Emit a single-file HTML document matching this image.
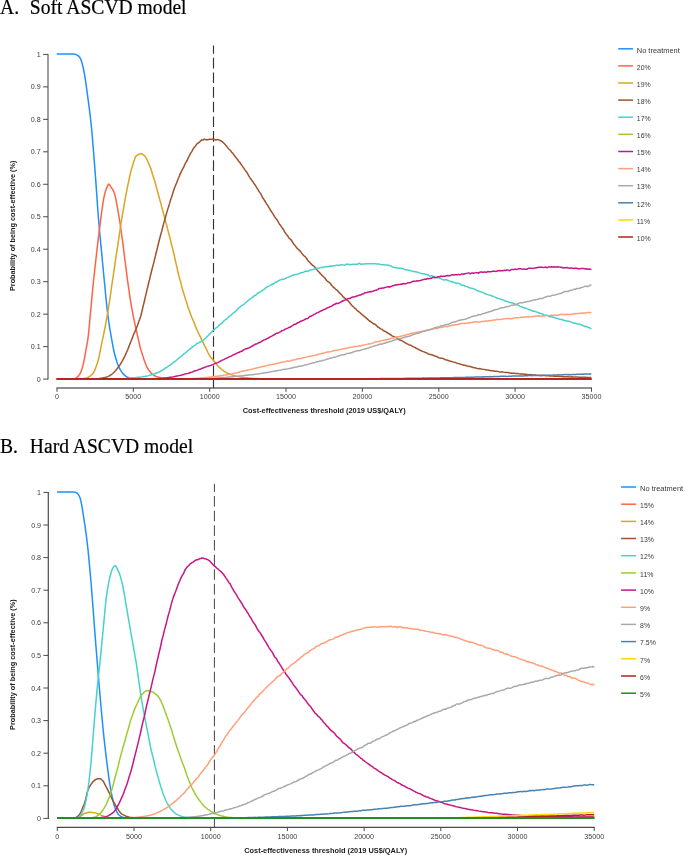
<!DOCTYPE html>
<html><head><meta charset="utf-8"><title>CEAC</title>
<style>
html,body{margin:0;padding:0;background:#fff;}
body{width:685px;height:855px;overflow:hidden;position:relative;font-family:"Liberation Sans",sans-serif;}
.t{position:absolute;left:0;will-change:transform;transform:scale(1,1.075);transform-origin:0 0;font-family:"Liberation Serif",serif;font-size:19.6px;line-height:19.6px;color:#000;-webkit-text-stroke:0.2px #000;white-space:pre;}
.t span{position:absolute;left:29.8px;top:0;}
svg{position:absolute;left:0;top:0;will-change:transform;font-family:"Liberation Sans",sans-serif;}
</style></head><body>
<svg width="685" height="855" viewBox="0 0 685 855">
<g stroke="#6a6a6a" stroke-width="1.3" fill="none">
<path d="M48.0 53.9 V379.6"/>
<path d="M56.5 388.0 H592.0"/>
</g>
<g stroke="#4a4a4a" stroke-width="1" fill="none">
<path d="M43.1 379.10 H48.0"/>
<path d="M43.1 346.63 H48.0"/>
<path d="M43.1 314.16 H48.0"/>
<path d="M43.1 281.69 H48.0"/>
<path d="M43.1 249.22 H48.0"/>
<path d="M43.1 216.75 H48.0"/>
<path d="M43.1 184.28 H48.0"/>
<path d="M43.1 151.81 H48.0"/>
<path d="M43.1 119.34 H48.0"/>
<path d="M43.1 86.87 H48.0"/>
<path d="M43.1 54.40 H48.0"/>
<path d="M57.0 388.0 V391.8"/>
<path d="M133.3 388.0 V391.8"/>
<path d="M209.7 388.0 V391.8"/>
<path d="M286.0 388.0 V391.8"/>
<path d="M362.4 388.0 V391.8"/>
<path d="M438.8 388.0 V391.8"/>
<path d="M515.1 388.0 V391.8"/>
<path d="M591.5 388.0 V391.8"/>
</g>
<g font-size="7.15" fill="#404040">
<text x="40.8" y="381.6" text-anchor="end">0</text>
<text x="40.8" y="349.1" text-anchor="end">0.1</text>
<text x="40.8" y="316.7" text-anchor="end">0.2</text>
<text x="40.8" y="284.2" text-anchor="end">0.3</text>
<text x="40.8" y="251.7" text-anchor="end">0.4</text>
<text x="40.8" y="219.2" text-anchor="end">0.5</text>
<text x="40.8" y="186.8" text-anchor="end">0.6</text>
<text x="40.8" y="154.3" text-anchor="end">0.7</text>
<text x="40.8" y="121.8" text-anchor="end">0.8</text>
<text x="40.8" y="89.4" text-anchor="end">0.9</text>
<text x="40.8" y="56.9" text-anchor="end">1</text>
<text x="57.0" y="399.4" text-anchor="middle">0</text>
<text x="133.3" y="399.4" text-anchor="middle">5000</text>
<text x="209.7" y="399.4" text-anchor="middle">10000</text>
<text x="286.0" y="399.4" text-anchor="middle">15000</text>
<text x="362.4" y="399.4" text-anchor="middle">20000</text>
<text x="438.8" y="399.4" text-anchor="middle">25000</text>
<text x="515.1" y="399.4" text-anchor="middle">30000</text>
<text x="591.5" y="399.4" text-anchor="middle">35000</text>
</g>
<text font-size="7.3" font-weight="bold" fill="#1a1a1a" text-anchor="middle" transform="translate(14.9 225.8) rotate(-90)">Probability of being cost-effective (%)</text>
<text font-size="7.38" font-weight="bold" fill="#1a1a1a" text-anchor="middle" x="324.2" y="412.9">Cost-effectiveness threshold (2019 US$/QALY)</text>
<path d="M213.5 45.6 V388.0" stroke="#333" stroke-width="1.15" stroke-dasharray="10.6 4.05" stroke-dashoffset="2.45" fill="none"/>
<g fill="none" stroke-width="1.5" stroke-linejoin="round" stroke-linecap="butt" transform="translate(0 0.15)">
<path stroke="dodgerblue" d="M56.7 53.90 L57.7 53.90 L58.7 53.90 L59.7 53.90 L60.7 53.90 L61.7 53.90 L62.7 53.90 L63.7 53.90 L64.7 53.90 L65.7 53.90 L66.7 53.90 L67.7 53.90 L68.7 53.90 L69.7 53.90 L70.7 53.90 L71.7 53.90 L72.7 53.90 L73.7 53.90 L74.7 54.02 L75.7 54.29 L76.7 54.68 L77.7 55.20 L78.7 56.02 L79.7 57.17 L80.7 58.92 L81.7 61.74 L82.7 65.52 L83.7 69.87 L84.7 75.14 L85.7 81.72 L86.7 89.07 L87.7 96.46 L88.7 103.76 L89.7 111.47 L90.7 119.93 L91.7 129.64 L92.7 141.06 L93.7 153.61 L94.7 166.40 L95.7 179.76 L96.7 193.70 L97.7 208.12 L98.7 221.04 L99.7 232.48 L100.7 242.98 L101.7 253.16 L102.7 263.82 L103.7 274.32 L104.7 284.65 L105.7 295.31 L106.7 305.01 L107.7 313.70 L108.7 321.29 L109.7 327.75 L110.7 333.69 L111.7 339.33 L112.7 344.83 L113.7 350.13 L114.7 354.40 L115.7 357.87 L116.7 361.11 L117.7 364.08 L118.7 366.47 L119.7 368.61 L120.7 370.19 L121.7 371.65 L122.7 373.07 L123.7 374.30 L124.7 375.12 L125.7 375.96 L126.7 376.59 L127.7 377.15 L128.7 377.57 L129.7 377.88 L130.7 378.12 L131.7 378.32 L132.7 378.49 L133.7 378.59 L134.7 378.65 L135.7 378.68 L136.7 378.70 L137.7 378.71 L138.7 378.71 L139.7 378.71 L140.7 378.70 L141.7 378.71 L142.7 378.71 L143.7 378.70 L144.7 378.70 L145.7 378.71 L146.7 378.69 L147.7 378.69 L148.7 378.71 L149.7 378.72 L150.7 378.72 L151.7 378.70 L152.7 378.70 L153.7 378.71 L154.7 378.71 L155.7 378.70 L156.7 378.69 L157.7 378.69 L158.7 378.71 L159.7 378.72 L160.7 378.72 L161.7 378.71 L162.7 378.72 L163.7 378.73 L164.7 378.72 L165.7 378.72 L166.7 378.72 L167.7 378.71 L168.7 378.71 L169.7 378.71 L170.7 378.71 L171.7 378.72 L172.7 378.72 L173.7 378.72 L174.7 378.73 L175.7 378.72 L176.7 378.71 L177.7 378.72 L178.7 378.72 L179.7 378.70 L180.7 378.71 L181.7 378.73 L182.7 378.73 L183.7 378.74 L184.7 378.74 L185.7 378.74 L186.7 378.75 L187.7 378.74 L188.7 378.73 L189.7 378.73 L190.7 378.73 L191.7 378.74 L192.7 378.73 L193.7 378.73 L194.7 378.72 L195.7 378.73 L196.7 378.74 L197.7 378.74 L198.7 378.75 L199.7 378.73 L200.7 378.73 L201.7 378.73 L202.7 378.74 L203.7 378.75 L204.7 378.75 L205.7 378.75 L206.7 378.75 L207.7 378.74 L208.7 378.73 L209.7 378.73 L210.7 378.74 L211.7 378.76 L212.7 378.76 L213.7 378.76 L214.7 378.75 L215.7 378.74 L216.7 378.72 L217.7 378.73 L218.7 378.75 L219.7 378.74 L220.7 378.74 L221.7 378.74 L222.7 378.75 L223.7 378.74 L224.7 378.74 L225.7 378.75 L226.7 378.75 L227.7 378.75 L228.7 378.75 L229.7 378.75 L230.7 378.74 L231.7 378.75 L232.7 378.75 L233.7 378.75 L234.7 378.76 L235.7 378.77 L236.7 378.76 L237.7 378.76 L238.7 378.76 L239.7 378.77 L240.7 378.75 L241.7 378.75 L242.7 378.76 L243.7 378.76 L244.7 378.76 L245.7 378.75 L246.7 378.75 L247.7 378.76 L248.7 378.76 L249.7 378.76 L250.7 378.75 L251.7 378.76 L252.7 378.75 L253.7 378.75 L254.7 378.76 L255.7 378.76 L256.7 378.76 L257.7 378.77 L258.7 378.76 L259.7 378.76 L260.7 378.76 L261.7 378.76 L262.7 378.75 L263.7 378.75 L264.7 378.76 L265.7 378.76 L266.7 378.77 L267.7 378.77 L268.7 378.76 L269.7 378.76 L270.7 378.76 L271.7 378.76 L272.7 378.76 L273.7 378.77 L274.7 378.76 L275.7 378.77 L276.7 378.77 L277.7 378.78 L278.7 378.77 L279.7 378.77 L280.7 378.76 L281.7 378.76 L282.7 378.76 L283.7 378.76 L284.7 378.77 L285.7 378.77 L286.7 378.78 L287.7 378.77 L288.7 378.76 L289.7 378.77 L290.7 378.77 L291.7 378.77 L292.7 378.77 L293.7 378.76 L294.7 378.77 L295.7 378.77 L296.7 378.78 L297.7 378.79 L298.7 378.78 L299.7 378.78 L300.7 378.78 L301.7 378.77 L302.7 378.77 L303.7 378.77 L304.7 378.78 L305.7 378.78 L306.7 378.78 L307.7 378.78 L308.7 378.77 L309.7 378.77 L310.7 378.78 L311.7 378.78 L312.7 378.77 L313.7 378.78 L314.7 378.77 L315.7 378.77 L316.7 378.77 L317.7 378.77 L318.7 378.78 L319.7 378.79 L320.7 378.78 L321.7 378.77 L322.7 378.77 L323.7 378.78 L324.7 378.79 L325.7 378.79 L326.7 378.78 L327.7 378.78 L328.7 378.78 L329.7 378.78 L330.7 378.78 L331.7 378.78 L332.7 378.79 L333.7 378.79 L334.7 378.78 L335.7 378.79 L336.7 378.79 L337.7 378.78 L338.7 378.78 L339.7 378.78 L340.7 378.78 L341.7 378.78 L342.7 378.78 L343.7 378.79 L344.7 378.78 L345.7 378.78 L346.7 378.78 L347.7 378.78 L348.7 378.78 L349.7 378.78 L350.7 378.78 L351.7 378.78 L352.7 378.80 L353.7 378.79 L354.7 378.78 L355.7 378.78 L356.7 378.79 L357.7 378.79 L358.7 378.79 L359.7 378.79 L360.7 378.79 L361.7 378.79 L362.7 378.79 L363.7 378.78 L364.7 378.79 L365.7 378.79 L366.7 378.79 L367.7 378.79 L368.7 378.79 L369.7 378.79 L370.7 378.79 L371.7 378.79 L372.7 378.79 L373.7 378.79 L374.7 378.79 L375.7 378.79 L376.7 378.79 L377.7 378.79 L378.7 378.79 L379.7 378.79 L380.7 378.79 L381.7 378.79 L382.7 378.79 L383.7 378.79 L384.7 378.79 L385.7 378.78 L386.7 378.79 L387.7 378.79 L388.7 378.79 L389.7 378.80 L390.7 378.79 L391.7 378.79 L392.7 378.79 L393.7 378.79 L394.7 378.80 L395.7 378.79 L396.7 378.79 L397.7 378.79 L398.7 378.79 L399.7 378.79 L400.7 378.79 L401.7 378.79 L402.7 378.79 L403.7 378.79 L404.7 378.79 L405.7 378.79 L406.7 378.79 L407.7 378.79 L408.7 378.79 L409.7 378.80 L410.7 378.80 L411.7 378.79 L412.7 378.80 L413.7 378.80 L414.7 378.79 L415.7 378.79 L416.7 378.79 L417.7 378.80 L418.7 378.80 L419.7 378.79 L420.7 378.79 L421.7 378.79 L422.7 378.79 L423.7 378.80 L424.7 378.79 L425.7 378.79 L426.7 378.79 L427.7 378.79 L428.7 378.80 L429.7 378.80 L430.7 378.80 L431.7 378.80 L432.7 378.80 L433.7 378.80 L434.7 378.80 L435.7 378.80 L436.7 378.79 L437.7 378.79 L438.7 378.79 L439.7 378.80 L440.7 378.80 L441.7 378.80 L442.7 378.80 L443.7 378.80 L444.7 378.80 L445.7 378.80 L446.7 378.80 L447.7 378.80 L448.7 378.80 L449.7 378.80 L450.7 378.80 L451.7 378.80 L452.7 378.80 L453.7 378.80 L454.7 378.79 L455.7 378.79 L456.7 378.80 L457.7 378.80 L458.7 378.80 L459.7 378.80 L460.7 378.80 L461.7 378.80 L462.7 378.80 L463.7 378.80 L464.7 378.80 L465.7 378.80 L466.7 378.80 L467.7 378.80 L468.7 378.80 L469.7 378.80 L470.7 378.80 L471.7 378.80 L472.7 378.80 L473.7 378.80 L474.7 378.80 L475.7 378.80 L476.7 378.80 L477.7 378.80 L478.7 378.80 L479.7 378.80 L480.7 378.80 L481.7 378.80 L482.7 378.80 L483.7 378.80 L484.7 378.80 L485.7 378.80 L486.7 378.80 L487.7 378.80 L488.7 378.80 L489.7 378.80 L490.7 378.80 L491.7 378.80 L492.7 378.80 L493.7 378.80 L494.7 378.80 L495.7 378.80 L496.7 378.80 L497.7 378.80 L498.7 378.80 L499.7 378.80 L500.7 378.80 L501.7 378.80 L502.7 378.80 L503.7 378.80 L504.7 378.80 L505.7 378.80 L506.7 378.80 L507.7 378.80 L508.7 378.80 L509.7 378.80 L510.7 378.80 L511.7 378.80 L512.7 378.80 L513.7 378.80 L514.7 378.80 L515.7 378.80 L516.7 378.80 L517.7 378.80 L518.7 378.80 L519.7 378.80 L520.7 378.80 L521.7 378.80 L522.7 378.80 L523.7 378.80 L524.7 378.80 L525.7 378.80 L526.7 378.80 L527.7 378.80 L528.7 378.80 L529.7 378.80 L530.7 378.80 L531.7 378.80 L532.7 378.80 L533.7 378.80 L534.7 378.80 L535.7 378.80 L536.7 378.80 L537.7 378.80 L538.7 378.80 L539.7 378.80 L540.7 378.80 L541.7 378.80 L542.7 378.80 L543.7 378.80 L544.7 378.80 L545.7 378.80 L546.7 378.80 L547.7 378.80 L548.7 378.80 L549.7 378.80 L550.7 378.80 L551.7 378.80 L552.7 378.80 L553.7 378.80 L554.7 378.80 L555.7 378.80 L556.7 378.80 L557.7 378.80 L558.7 378.80 L559.7 378.80 L560.7 378.80 L561.7 378.80 L562.7 378.80 L563.7 378.80 L564.7 378.80 L565.7 378.80 L566.7 378.80 L567.7 378.80 L568.7 378.80 L569.7 378.80 L570.7 378.80 L571.7 378.80 L572.7 378.80 L573.7 378.80 L574.7 378.80 L575.7 378.80 L576.7 378.80 L577.7 378.80 L578.7 378.80 L579.7 378.80 L580.7 378.80 L581.7 378.80 L582.7 378.80 L583.7 378.80 L584.7 378.80 L585.7 378.80 L586.7 378.80 L587.7 378.80 L588.7 378.80 L589.7 378.80 L590.7 378.80 L591.4 378.80"/>
<path stroke="tomato" d="M56.7 378.80 L57.7 378.80 L58.7 378.80 L59.7 378.80 L60.7 378.80 L61.7 378.79 L62.7 378.79 L63.7 378.79 L64.7 378.78 L65.7 378.78 L66.7 378.77 L67.7 378.76 L68.7 378.75 L69.7 378.74 L70.7 378.73 L71.7 378.72 L72.7 378.70 L73.7 378.63 L74.7 378.40 L75.7 378.04 L76.7 377.55 L77.7 376.72 L78.7 375.53 L79.7 374.11 L80.7 372.30 L81.7 369.58 L82.7 366.20 L83.7 362.19 L84.7 356.96 L85.7 351.33 L86.7 346.02 L87.7 340.19 L88.7 332.10 L89.7 321.11 L90.7 310.33 L91.7 299.57 L92.7 288.95 L93.7 279.11 L94.7 269.81 L95.7 260.92 L96.7 252.00 L97.7 243.56 L98.7 235.20 L99.7 227.15 L100.7 219.31 L101.7 211.56 L102.7 204.67 L103.7 198.46 L104.7 193.82 L105.7 190.43 L106.7 187.69 L107.7 185.30 L108.7 183.88 L109.7 184.69 L110.7 186.55 L111.7 188.08 L112.7 189.36 L113.7 191.07 L114.7 193.99 L115.7 198.18 L116.7 203.49 L117.7 209.33 L118.7 214.95 L119.7 220.72 L120.7 227.21 L121.7 234.70 L122.7 242.05 L123.7 249.99 L124.7 257.97 L125.7 265.70 L126.7 273.87 L127.7 281.48 L128.7 288.13 L129.7 295.41 L130.7 301.83 L131.7 307.54 L132.7 313.07 L133.7 318.06 L134.7 322.65 L135.7 327.45 L136.7 331.79 L137.7 336.15 L138.7 340.77 L139.7 345.20 L140.7 349.05 L141.7 352.25 L142.7 355.49 L143.7 358.52 L144.7 361.27 L145.7 364.09 L146.7 366.46 L147.7 368.38 L148.7 369.81 L149.7 371.11 L150.7 372.32 L151.7 373.40 L152.7 374.33 L153.7 375.05 L154.7 375.62 L155.7 376.09 L156.7 376.50 L157.7 376.82 L158.7 377.15 L159.7 377.40 L160.7 377.69 L161.7 377.89 L162.7 378.06 L163.7 378.25 L164.7 378.36 L165.7 378.47 L166.7 378.59 L167.7 378.69 L168.7 378.76 L169.7 378.80 L170.7 378.80 L171.7 378.80 L172.7 378.80 L173.7 378.80 L174.7 378.80 L175.7 378.80 L176.7 378.80 L177.7 378.80 L178.7 378.80 L179.7 378.80 L180.7 378.80 L181.7 378.80 L182.7 378.80 L183.7 378.80 L184.7 378.80 L185.7 378.80 L186.7 378.80 L187.7 378.80 L188.7 378.80 L189.7 378.80 L190.7 378.80 L191.7 378.80 L192.7 378.80 L193.7 378.80 L194.7 378.80 L195.7 378.80 L196.7 378.80 L197.7 378.80 L198.7 378.80 L199.7 378.80 L200.7 378.80 L201.7 378.80 L202.7 378.80 L203.7 378.80 L204.7 378.80 L205.7 378.80 L206.7 378.80 L207.7 378.80 L208.7 378.80 L209.7 378.80 L210.7 378.80 L211.7 378.80 L212.7 378.80 L213.7 378.80 L214.7 378.80 L215.7 378.80 L216.7 378.80 L217.7 378.80 L218.7 378.80 L219.7 378.80 L220.7 378.80 L221.7 378.80 L222.7 378.80 L223.7 378.80 L224.7 378.80 L225.7 378.80 L226.7 378.80 L227.7 378.80 L228.7 378.80 L229.7 378.80 L230.7 378.80 L231.7 378.80 L232.7 378.80 L233.7 378.80 L234.7 378.80 L235.7 378.80 L236.7 378.80 L237.7 378.80 L238.7 378.80 L239.7 378.80 L240.7 378.80 L241.7 378.80 L242.7 378.80 L243.7 378.80 L244.7 378.80 L245.7 378.80 L246.7 378.80 L247.7 378.80 L248.7 378.80 L249.7 378.80 L250.7 378.80 L251.7 378.80 L252.7 378.80 L253.7 378.80 L254.7 378.80 L255.7 378.80 L256.7 378.80 L257.7 378.80 L258.7 378.80 L259.7 378.80 L260.7 378.80 L261.7 378.80 L262.7 378.80 L263.7 378.80 L264.7 378.80 L265.7 378.80 L266.7 378.80 L267.7 378.80 L268.7 378.80 L269.7 378.80 L270.7 378.80 L271.7 378.80 L272.7 378.80 L273.7 378.80 L274.7 378.80 L275.7 378.80 L276.7 378.80 L277.7 378.80 L278.7 378.80 L279.7 378.80 L280.7 378.80 L281.7 378.80 L282.7 378.80 L283.7 378.80 L284.7 378.80 L285.7 378.80 L286.7 378.80 L287.7 378.80 L288.7 378.80 L289.7 378.80 L290.7 378.80 L291.7 378.80 L292.7 378.80 L293.7 378.80 L294.7 378.80 L295.7 378.80 L296.7 378.80 L297.7 378.80 L298.7 378.80 L299.7 378.80 L300.7 378.80 L301.7 378.80 L302.7 378.80 L303.7 378.80 L304.7 378.80 L305.7 378.80 L306.7 378.80 L307.7 378.80 L308.7 378.80 L309.7 378.80 L310.7 378.80 L311.7 378.80 L312.7 378.80 L313.7 378.80 L314.7 378.80 L315.7 378.80 L316.7 378.80 L317.7 378.80 L318.7 378.80 L319.7 378.80 L320.7 378.80 L321.7 378.80 L322.7 378.80 L323.7 378.80 L324.7 378.80 L325.7 378.80 L326.7 378.80 L327.7 378.80 L328.7 378.80 L329.7 378.80 L330.7 378.80 L331.7 378.80 L332.7 378.80 L333.7 378.80 L334.7 378.80 L335.7 378.80 L336.7 378.80 L337.7 378.80 L338.7 378.80 L339.7 378.80 L340.7 378.80 L341.7 378.80 L342.7 378.80 L343.7 378.80 L344.7 378.80 L345.7 378.80 L346.7 378.80 L347.7 378.80 L348.7 378.80 L349.7 378.80 L350.7 378.80 L351.7 378.80 L352.7 378.80 L353.7 378.80 L354.7 378.80 L355.7 378.80 L356.7 378.80 L357.7 378.80 L358.7 378.80 L359.7 378.80 L360.7 378.80 L361.7 378.80 L362.7 378.80 L363.7 378.80 L364.7 378.80 L365.7 378.80 L366.7 378.80 L367.7 378.80 L368.7 378.80 L369.7 378.80 L370.7 378.80 L371.7 378.80 L372.7 378.80 L373.7 378.80 L374.7 378.80 L375.7 378.80 L376.7 378.80 L377.7 378.80 L378.7 378.80 L379.7 378.80 L380.7 378.80 L381.7 378.80 L382.7 378.80 L383.7 378.80 L384.7 378.80 L385.7 378.80 L386.7 378.80 L387.7 378.80 L388.7 378.80 L389.7 378.80 L390.7 378.80 L391.7 378.80 L392.7 378.80 L393.7 378.80 L394.7 378.80 L395.7 378.80 L396.7 378.80 L397.7 378.80 L398.7 378.80 L399.7 378.80 L400.7 378.80 L401.7 378.80 L402.7 378.80 L403.7 378.80 L404.7 378.80 L405.7 378.80 L406.7 378.80 L407.7 378.80 L408.7 378.80 L409.7 378.80 L410.7 378.80 L411.7 378.80 L412.7 378.80 L413.7 378.80 L414.7 378.80 L415.7 378.80 L416.7 378.80 L417.7 378.80 L418.7 378.80 L419.7 378.80 L420.7 378.80 L421.7 378.80 L422.7 378.80 L423.7 378.80 L424.7 378.80 L425.7 378.80 L426.7 378.80 L427.7 378.80 L428.7 378.80 L429.7 378.80 L430.7 378.80 L431.7 378.80 L432.7 378.80 L433.7 378.80 L434.7 378.80 L435.7 378.80 L436.7 378.80 L437.7 378.80 L438.7 378.80 L439.7 378.80 L440.7 378.80 L441.7 378.80 L442.7 378.80 L443.7 378.80 L444.7 378.80 L445.7 378.80 L446.7 378.80 L447.7 378.80 L448.7 378.80 L449.7 378.80 L450.7 378.80 L451.7 378.80 L452.7 378.80 L453.7 378.80 L454.7 378.80 L455.7 378.80 L456.7 378.80 L457.7 378.80 L458.7 378.80 L459.7 378.80 L460.7 378.80 L461.7 378.80 L462.7 378.80 L463.7 378.80 L464.7 378.80 L465.7 378.80 L466.7 378.80 L467.7 378.80 L468.7 378.80 L469.7 378.80 L470.7 378.80 L471.7 378.80 L472.7 378.80 L473.7 378.80 L474.7 378.80 L475.7 378.80 L476.7 378.80 L477.7 378.80 L478.7 378.80 L479.7 378.80 L480.7 378.80 L481.7 378.80 L482.7 378.80 L483.7 378.80 L484.7 378.80 L485.7 378.80 L486.7 378.80 L487.7 378.80 L488.7 378.80 L489.7 378.80 L490.7 378.80 L491.7 378.80 L492.7 378.80 L493.7 378.80 L494.7 378.80 L495.7 378.80 L496.7 378.80 L497.7 378.80 L498.7 378.80 L499.7 378.80 L500.7 378.80 L501.7 378.80 L502.7 378.80 L503.7 378.80 L504.7 378.80 L505.7 378.80 L506.7 378.80 L507.7 378.80 L508.7 378.80 L509.7 378.80 L510.7 378.80 L511.7 378.80 L512.7 378.80 L513.7 378.80 L514.7 378.80 L515.7 378.80 L516.7 378.80 L517.7 378.80 L518.7 378.80 L519.7 378.80 L520.7 378.80 L521.7 378.80 L522.7 378.80 L523.7 378.80 L524.7 378.80 L525.7 378.80 L526.7 378.80 L527.7 378.80 L528.7 378.80 L529.7 378.80 L530.7 378.80 L531.7 378.80 L532.7 378.80 L533.7 378.80 L534.7 378.80 L535.7 378.80 L536.7 378.80 L537.7 378.80 L538.7 378.80 L539.7 378.80 L540.7 378.80 L541.7 378.80 L542.7 378.80 L543.7 378.80 L544.7 378.80 L545.7 378.80 L546.7 378.80 L547.7 378.80 L548.7 378.80 L549.7 378.80 L550.7 378.80 L551.7 378.80 L552.7 378.80 L553.7 378.80 L554.7 378.80 L555.7 378.80 L556.7 378.80 L557.7 378.80 L558.7 378.80 L559.7 378.80 L560.7 378.80 L561.7 378.80 L562.7 378.80 L563.7 378.80 L564.7 378.80 L565.7 378.80 L566.7 378.80 L567.7 378.80 L568.7 378.80 L569.7 378.80 L570.7 378.80 L571.7 378.80 L572.7 378.80 L573.7 378.80 L574.7 378.80 L575.7 378.80 L576.7 378.80 L577.7 378.80 L578.7 378.80 L579.7 378.80 L580.7 378.80 L581.7 378.80 L582.7 378.80 L583.7 378.80 L584.7 378.80 L585.7 378.80 L586.7 378.80 L587.7 378.80 L588.7 378.80 L589.7 378.80 L590.7 378.80 L591.4 378.80"/>
<path stroke="goldenrod" d="M56.7 378.80 L57.7 378.80 L58.7 378.80 L59.7 378.80 L60.7 378.80 L61.7 378.80 L62.7 378.80 L63.7 378.79 L64.7 378.79 L65.7 378.79 L66.7 378.79 L67.7 378.78 L68.7 378.78 L69.7 378.78 L70.7 378.77 L71.7 378.76 L72.7 378.76 L73.7 378.75 L74.7 378.75 L75.7 378.74 L76.7 378.73 L77.7 378.72 L78.7 378.71 L79.7 378.70 L80.7 378.68 L81.7 378.61 L82.7 378.49 L83.7 378.34 L84.7 378.19 L85.7 377.99 L86.7 377.73 L87.7 377.33 L88.7 376.80 L89.7 376.15 L90.7 375.40 L91.7 374.60 L92.7 373.56 L93.7 372.14 L94.7 370.20 L95.7 367.70 L96.7 364.96 L97.7 361.94 L98.7 358.15 L99.7 353.41 L100.7 348.26 L101.7 343.27 L102.7 338.65 L103.7 333.83 L104.7 328.96 L105.7 323.85 L106.7 318.32 L107.7 312.45 L108.7 306.16 L109.7 299.90 L110.7 292.93 L111.7 285.73 L112.7 279.11 L113.7 272.54 L114.7 265.81 L115.7 258.51 L116.7 251.88 L117.7 245.74 L118.7 238.78 L119.7 232.12 L120.7 225.31 L121.7 219.05 L122.7 213.19 L123.7 207.46 L124.7 201.43 L125.7 196.00 L126.7 191.01 L127.7 185.82 L128.7 181.10 L129.7 176.33 L130.7 171.71 L131.7 168.46 L132.7 165.16 L133.7 161.68 L134.7 158.73 L135.7 156.44 L136.7 155.29 L137.7 154.85 L138.7 154.13 L139.7 153.79 L140.7 153.61 L141.7 153.67 L142.7 154.20 L143.7 155.09 L144.7 155.77 L145.7 156.82 L146.7 159.04 L147.7 161.10 L148.7 163.33 L149.7 165.74 L150.7 168.07 L151.7 171.31 L152.7 174.74 L153.7 177.89 L154.7 180.82 L155.7 184.64 L156.7 188.26 L157.7 191.92 L158.7 195.54 L159.7 199.25 L160.7 202.88 L161.7 206.69 L162.7 210.36 L163.7 214.24 L164.7 217.91 L165.7 221.70 L166.7 225.33 L167.7 229.22 L168.7 233.12 L169.7 236.61 L170.7 240.80 L171.7 245.13 L172.7 248.80 L173.7 252.90 L174.7 257.47 L175.7 261.74 L176.7 266.34 L177.7 270.60 L178.7 275.15 L179.7 278.54 L180.7 281.96 L181.7 286.30 L182.7 289.91 L183.7 293.07 L184.7 296.29 L185.7 299.72 L186.7 302.68 L187.7 305.75 L188.7 308.87 L189.7 311.38 L190.7 314.33 L191.7 317.04 L192.7 319.25 L193.7 321.63 L194.7 324.09 L195.7 327.03 L196.7 329.20 L197.7 331.05 L198.7 333.36 L199.7 335.46 L200.7 337.46 L201.7 339.71 L202.7 341.80 L203.7 343.66 L204.7 345.66 L205.7 347.39 L206.7 349.55 L207.7 351.87 L208.7 353.86 L209.7 355.60 L210.7 357.17 L211.7 358.38 L212.7 359.43 L213.7 360.63 L214.7 361.78 L215.7 363.05 L216.7 364.26 L217.7 365.52 L218.7 366.55 L219.7 367.47 L220.7 368.39 L221.7 369.34 L222.7 370.06 L223.7 370.79 L224.7 371.41 L225.7 372.03 L226.7 372.64 L227.7 373.18 L228.7 373.53 L229.7 373.88 L230.7 374.29 L231.7 374.67 L232.7 374.99 L233.7 375.34 L234.7 375.73 L235.7 375.95 L236.7 376.11 L237.7 376.24 L238.7 376.49 L239.7 376.67 L240.7 376.83 L241.7 377.04 L242.7 377.16 L243.7 377.25 L244.7 377.44 L245.7 377.58 L246.7 377.61 L247.7 377.71 L248.7 377.85 L249.7 377.96 L250.7 378.01 L251.7 378.12 L252.7 378.23 L253.7 378.27 L254.7 378.34 L255.7 378.40 L256.7 378.40 L257.7 378.45 L258.7 378.50 L259.7 378.56 L260.7 378.61 L261.7 378.63 L262.7 378.65 L263.7 378.67 L264.7 378.69 L265.7 378.72 L266.7 378.75 L267.7 378.75 L268.7 378.76 L269.7 378.76 L270.7 378.76 L271.7 378.78 L272.7 378.78 L273.7 378.79 L274.7 378.79 L275.7 378.79 L276.7 378.79 L277.7 378.79 L278.7 378.79 L279.7 378.80 L280.7 378.80 L281.7 378.80 L282.7 378.80 L283.7 378.80 L284.7 378.80 L285.7 378.80 L286.7 378.80 L287.7 378.80 L288.7 378.80 L289.7 378.80 L290.7 378.80 L291.7 378.80 L292.7 378.80 L293.7 378.80 L294.7 378.80 L295.7 378.80 L296.7 378.80 L297.7 378.80 L298.7 378.80 L299.7 378.80 L300.7 378.80 L301.7 378.80 L302.7 378.80 L303.7 378.80 L304.7 378.80 L305.7 378.80 L306.7 378.80 L307.7 378.80 L308.7 378.80 L309.7 378.80 L310.7 378.80 L311.7 378.80 L312.7 378.80 L313.7 378.80 L314.7 378.80 L315.7 378.80 L316.7 378.80 L317.7 378.80 L318.7 378.80 L319.7 378.80 L320.7 378.80 L321.7 378.80 L322.7 378.80 L323.7 378.80 L324.7 378.80 L325.7 378.80 L326.7 378.80 L327.7 378.80 L328.7 378.80 L329.7 378.80 L330.7 378.80 L331.7 378.80 L332.7 378.80 L333.7 378.80 L334.7 378.80 L335.7 378.80 L336.7 378.80 L337.7 378.80 L338.7 378.80 L339.7 378.80 L340.7 378.80 L341.7 378.80 L342.7 378.80 L343.7 378.80 L344.7 378.80 L345.7 378.80 L346.7 378.80 L347.7 378.80 L348.7 378.80 L349.7 378.80 L350.7 378.80 L351.7 378.80 L352.7 378.80 L353.7 378.80 L354.7 378.80 L355.7 378.80 L356.7 378.80 L357.7 378.80 L358.7 378.80 L359.7 378.80 L360.7 378.80 L361.7 378.80 L362.7 378.80 L363.7 378.80 L364.7 378.80 L365.7 378.80 L366.7 378.80 L367.7 378.80 L368.7 378.80 L369.7 378.80 L370.7 378.80 L371.7 378.80 L372.7 378.80 L373.7 378.80 L374.7 378.80 L375.7 378.80 L376.7 378.80 L377.7 378.80 L378.7 378.80 L379.7 378.80 L380.7 378.80 L381.7 378.80 L382.7 378.80 L383.7 378.80 L384.7 378.80 L385.7 378.80 L386.7 378.80 L387.7 378.80 L388.7 378.80 L389.7 378.80 L390.7 378.80 L391.7 378.80 L392.7 378.80 L393.7 378.80 L394.7 378.80 L395.7 378.80 L396.7 378.80 L397.7 378.80 L398.7 378.80 L399.7 378.80 L400.7 378.80 L401.7 378.80 L402.7 378.80 L403.7 378.80 L404.7 378.80 L405.7 378.80 L406.7 378.80 L407.7 378.80 L408.7 378.80 L409.7 378.80 L410.7 378.80 L411.7 378.80 L412.7 378.80 L413.7 378.80 L414.7 378.80 L415.7 378.80 L416.7 378.80 L417.7 378.80 L418.7 378.80 L419.7 378.80 L420.7 378.80 L421.7 378.80 L422.7 378.80 L423.7 378.80 L424.7 378.80 L425.7 378.80 L426.7 378.80 L427.7 378.80 L428.7 378.80 L429.7 378.80 L430.7 378.80 L431.7 378.80 L432.7 378.80 L433.7 378.80 L434.7 378.80 L435.7 378.80 L436.7 378.80 L437.7 378.80 L438.7 378.80 L439.7 378.80 L440.7 378.80 L441.7 378.80 L442.7 378.80 L443.7 378.80 L444.7 378.80 L445.7 378.80 L446.7 378.80 L447.7 378.80 L448.7 378.80 L449.7 378.80 L450.7 378.80 L451.7 378.80 L452.7 378.80 L453.7 378.80 L454.7 378.80 L455.7 378.80 L456.7 378.80 L457.7 378.80 L458.7 378.80 L459.7 378.80 L460.7 378.80 L461.7 378.80 L462.7 378.80 L463.7 378.80 L464.7 378.80 L465.7 378.80 L466.7 378.80 L467.7 378.80 L468.7 378.80 L469.7 378.80 L470.7 378.80 L471.7 378.80 L472.7 378.80 L473.7 378.80 L474.7 378.80 L475.7 378.80 L476.7 378.80 L477.7 378.80 L478.7 378.80 L479.7 378.80 L480.7 378.80 L481.7 378.80 L482.7 378.80 L483.7 378.80 L484.7 378.80 L485.7 378.80 L486.7 378.80 L487.7 378.80 L488.7 378.80 L489.7 378.80 L490.7 378.80 L491.7 378.80 L492.7 378.80 L493.7 378.80 L494.7 378.80 L495.7 378.80 L496.7 378.80 L497.7 378.80 L498.7 378.80 L499.7 378.80 L500.7 378.80 L501.7 378.80 L502.7 378.80 L503.7 378.80 L504.7 378.80 L505.7 378.80 L506.7 378.80 L507.7 378.80 L508.7 378.80 L509.7 378.80 L510.7 378.80 L511.7 378.80 L512.7 378.80 L513.7 378.80 L514.7 378.80 L515.7 378.80 L516.7 378.80 L517.7 378.80 L518.7 378.80 L519.7 378.80 L520.7 378.80 L521.7 378.80 L522.7 378.80 L523.7 378.80 L524.7 378.80 L525.7 378.80 L526.7 378.80 L527.7 378.80 L528.7 378.80 L529.7 378.80 L530.7 378.80 L531.7 378.80 L532.7 378.80 L533.7 378.80 L534.7 378.80 L535.7 378.80 L536.7 378.80 L537.7 378.80 L538.7 378.80 L539.7 378.80 L540.7 378.80 L541.7 378.80 L542.7 378.80 L543.7 378.80 L544.7 378.80 L545.7 378.80 L546.7 378.80 L547.7 378.80 L548.7 378.80 L549.7 378.80 L550.7 378.80 L551.7 378.80 L552.7 378.80 L553.7 378.80 L554.7 378.80 L555.7 378.80 L556.7 378.80 L557.7 378.80 L558.7 378.80 L559.7 378.80 L560.7 378.80 L561.7 378.80 L562.7 378.80 L563.7 378.80 L564.7 378.80 L565.7 378.80 L566.7 378.80 L567.7 378.80 L568.7 378.80 L569.7 378.80 L570.7 378.80 L571.7 378.80 L572.7 378.80 L573.7 378.80 L574.7 378.80 L575.7 378.80 L576.7 378.80 L577.7 378.80 L578.7 378.80 L579.7 378.80 L580.7 378.80 L581.7 378.80 L582.7 378.80 L583.7 378.80 L584.7 378.80 L585.7 378.80 L586.7 378.80 L587.7 378.80 L588.7 378.80 L589.7 378.80 L590.7 378.80 L591.4 378.80"/>
<path stroke="sienna" d="M56.7 378.80 L57.7 378.80 L58.7 378.80 L59.7 378.80 L60.7 378.80 L61.7 378.80 L62.7 378.80 L63.7 378.80 L64.7 378.80 L65.7 378.80 L66.7 378.79 L67.7 378.79 L68.7 378.79 L69.7 378.79 L70.7 378.79 L71.7 378.78 L72.7 378.78 L73.7 378.78 L74.7 378.78 L75.7 378.78 L76.7 378.77 L77.7 378.77 L78.7 378.77 L79.7 378.76 L80.7 378.76 L81.7 378.75 L82.7 378.75 L83.7 378.75 L84.7 378.75 L85.7 378.74 L86.7 378.73 L87.7 378.72 L88.7 378.71 L89.7 378.71 L90.7 378.71 L91.7 378.70 L92.7 378.70 L93.7 378.68 L94.7 378.64 L95.7 378.60 L96.7 378.56 L97.7 378.51 L98.7 378.44 L99.7 378.30 L100.7 378.16 L101.7 378.01 L102.7 377.80 L103.7 377.57 L104.7 377.37 L105.7 377.13 L106.7 376.80 L107.7 376.44 L108.7 375.95 L109.7 375.42 L110.7 374.86 L111.7 374.13 L112.7 373.32 L113.7 372.38 L114.7 371.37 L115.7 370.25 L116.7 369.05 L117.7 367.89 L118.7 366.34 L119.7 365.15 L120.7 363.43 L121.7 361.75 L122.7 360.24 L123.7 358.23 L124.7 356.31 L125.7 354.05 L126.7 351.78 L127.7 349.59 L128.7 346.96 L129.7 344.24 L130.7 341.87 L131.7 339.48 L132.7 336.87 L133.7 334.13 L134.7 332.00 L135.7 329.76 L136.7 327.26 L137.7 324.68 L138.7 321.68 L139.7 319.02 L140.7 316.04 L141.7 312.16 L142.7 307.89 L143.7 303.69 L144.7 299.58 L145.7 295.19 L146.7 290.93 L147.7 286.82 L148.7 282.64 L149.7 278.70 L150.7 274.33 L151.7 270.37 L152.7 266.51 L153.7 262.74 L154.7 258.76 L155.7 254.40 L156.7 250.59 L157.7 246.45 L158.7 242.30 L159.7 238.39 L160.7 234.58 L161.7 231.18 L162.7 227.06 L163.7 223.20 L164.7 219.92 L165.7 216.08 L166.7 212.70 L167.7 209.23 L168.7 206.19 L169.7 202.98 L170.7 199.27 L171.7 196.59 L172.7 193.43 L173.7 190.17 L174.7 187.37 L175.7 184.76 L176.7 182.71 L177.7 179.85 L178.7 177.56 L179.7 175.02 L180.7 172.73 L181.7 170.66 L182.7 168.60 L183.7 166.95 L184.7 164.55 L185.7 162.46 L186.7 161.17 L187.7 158.93 L188.7 156.68 L189.7 154.91 L190.7 153.07 L191.7 151.47 L192.7 149.68 L193.7 147.87 L194.7 146.83 L195.7 145.44 L196.7 144.04 L197.7 143.12 L198.7 142.40 L199.7 141.65 L200.7 140.78 L201.7 139.72 L202.7 139.90 L203.7 139.37 L204.7 139.13 L205.7 139.51 L206.7 139.44 L207.7 139.56 L208.7 139.25 L209.7 139.09 L210.7 139.20 L211.7 139.17 L212.7 139.05 L213.7 139.13 L214.7 139.58 L215.7 139.64 L216.7 139.50 L217.7 139.46 L218.7 139.75 L219.7 140.03 L220.7 140.61 L221.7 141.13 L222.7 142.00 L223.7 142.89 L224.7 143.88 L225.7 145.03 L226.7 146.20 L227.7 147.51 L228.7 148.84 L229.7 149.59 L230.7 150.68 L231.7 152.12 L232.7 153.22 L233.7 154.44 L234.7 155.87 L235.7 157.08 L236.7 158.26 L237.7 159.56 L238.7 161.05 L239.7 162.09 L240.7 163.59 L241.7 164.96 L242.7 166.49 L243.7 167.80 L244.7 169.47 L245.7 170.76 L246.7 171.91 L247.7 173.64 L248.7 175.49 L249.7 177.19 L250.7 178.61 L251.7 180.02 L252.7 181.26 L253.7 182.99 L254.7 184.32 L255.7 185.72 L256.7 187.49 L257.7 189.05 L258.7 190.82 L259.7 192.23 L260.7 193.51 L261.7 195.57 L262.7 197.56 L263.7 199.02 L264.7 200.61 L265.7 202.14 L266.7 204.05 L267.7 205.19 L268.7 206.92 L269.7 208.63 L270.7 210.40 L271.7 211.85 L272.7 213.23 L273.7 214.88 L274.7 216.69 L275.7 218.08 L276.7 219.14 L277.7 220.69 L278.7 222.61 L279.7 224.43 L280.7 225.44 L281.7 227.08 L282.7 228.28 L283.7 230.03 L284.7 231.81 L285.7 233.26 L286.7 234.62 L287.7 235.66 L288.7 237.62 L289.7 238.49 L290.7 239.15 L291.7 240.59 L292.7 242.31 L293.7 243.78 L294.7 245.09 L295.7 246.15 L296.7 247.74 L297.7 248.67 L298.7 249.49 L299.7 250.51 L300.7 251.45 L301.7 252.97 L302.7 254.41 L303.7 255.34 L304.7 256.17 L305.7 257.17 L306.7 258.59 L307.7 260.13 L308.7 261.28 L309.7 262.07 L310.7 263.44 L311.7 264.24 L312.7 265.27 L313.7 266.07 L314.7 266.71 L315.7 268.17 L316.7 269.48 L317.7 270.68 L318.7 271.58 L319.7 272.73 L320.7 273.73 L321.7 274.88 L322.7 275.86 L323.7 276.85 L324.7 277.58 L325.7 279.10 L326.7 280.37 L327.7 281.28 L328.7 282.00 L329.7 282.56 L330.7 283.81 L331.7 285.31 L332.7 286.29 L333.7 287.32 L334.7 288.04 L335.7 289.23 L336.7 289.73 L337.7 290.66 L338.7 291.81 L339.7 293.01 L340.7 293.77 L341.7 294.77 L342.7 296.12 L343.7 297.28 L344.7 297.87 L345.7 298.65 L346.7 299.63 L347.7 300.40 L348.7 301.43 L349.7 302.56 L350.7 303.81 L351.7 305.02 L352.7 306.13 L353.7 306.87 L354.7 308.04 L355.7 308.70 L356.7 309.78 L357.7 310.78 L358.7 311.53 L359.7 312.20 L360.7 313.05 L361.7 314.27 L362.7 314.90 L363.7 315.70 L364.7 316.59 L365.7 317.51 L366.7 318.25 L367.7 319.20 L368.7 320.19 L369.7 320.85 L370.7 321.53 L371.7 322.32 L372.7 323.00 L373.7 323.79 L374.7 323.94 L375.7 324.60 L376.7 325.69 L377.7 326.90 L378.7 327.27 L379.7 328.04 L380.7 328.73 L381.7 329.00 L382.7 329.84 L383.7 330.68 L384.7 331.04 L385.7 331.52 L386.7 332.19 L387.7 332.85 L388.7 333.37 L389.7 334.13 L390.7 334.64 L391.7 335.40 L392.7 335.97 L393.7 336.26 L394.7 336.87 L395.7 337.27 L396.7 337.78 L397.7 338.40 L398.7 339.22 L399.7 339.93 L400.7 340.11 L401.7 340.51 L402.7 341.07 L403.7 341.68 L404.7 342.35 L405.7 342.91 L406.7 343.51 L407.7 343.97 L408.7 344.58 L409.7 344.89 L410.7 345.06 L411.7 345.82 L412.7 346.42 L413.7 346.74 L414.7 347.27 L415.7 347.84 L416.7 348.40 L417.7 348.77 L418.7 349.44 L419.7 349.91 L420.7 350.28 L421.7 350.84 L422.7 351.25 L423.7 351.53 L424.7 352.04 L425.7 352.37 L426.7 352.74 L427.7 353.49 L428.7 354.03 L429.7 354.17 L430.7 354.49 L431.7 354.65 L432.7 354.87 L433.7 355.36 L434.7 355.79 L435.7 356.00 L436.7 356.33 L437.7 356.91 L438.7 357.56 L439.7 357.94 L440.7 358.06 L441.7 358.15 L442.7 358.22 L443.7 358.63 L444.7 359.26 L445.7 359.56 L446.7 359.82 L447.7 360.17 L448.7 360.55 L449.7 360.82 L450.7 361.20 L451.7 361.41 L452.7 361.74 L453.7 361.99 L454.7 362.18 L455.7 362.48 L456.7 362.95 L457.7 363.35 L458.7 363.44 L459.7 363.72 L460.7 364.05 L461.7 364.47 L462.7 364.65 L463.7 365.04 L464.7 365.17 L465.7 365.39 L466.7 365.67 L467.7 365.92 L468.7 366.25 L469.7 366.35 L470.7 366.43 L471.7 366.85 L472.7 367.30 L473.7 367.42 L474.7 367.54 L475.7 367.78 L476.7 368.10 L477.7 368.36 L478.7 368.53 L479.7 368.39 L480.7 368.66 L481.7 368.90 L482.7 369.10 L483.7 369.23 L484.7 369.35 L485.7 369.53 L486.7 369.81 L487.7 369.94 L488.7 370.07 L489.7 370.19 L490.7 370.54 L491.7 370.59 L492.7 370.54 L493.7 370.82 L494.7 371.10 L495.7 371.04 L496.7 371.00 L497.7 371.24 L498.7 371.55 L499.7 371.79 L500.7 371.87 L501.7 371.80 L502.7 371.71 L503.7 371.98 L504.7 372.22 L505.7 372.32 L506.7 372.36 L507.7 372.41 L508.7 372.58 L509.7 372.80 L510.7 372.88 L511.7 373.05 L512.7 373.04 L513.7 373.05 L514.7 373.09 L515.7 373.25 L516.7 373.24 L517.7 373.36 L518.7 373.60 L519.7 373.73 L520.7 373.76 L521.7 373.72 L522.7 373.88 L523.7 374.04 L524.7 373.98 L525.7 374.09 L526.7 374.27 L527.7 374.42 L528.7 374.48 L529.7 374.45 L530.7 374.51 L531.7 374.62 L532.7 374.76 L533.7 374.82 L534.7 374.79 L535.7 374.93 L536.7 375.01 L537.7 375.01 L538.7 375.22 L539.7 375.25 L540.7 375.21 L541.7 375.34 L542.7 375.41 L543.7 375.47 L544.7 375.47 L545.7 375.50 L546.7 375.60 L547.7 375.65 L548.7 375.72 L549.7 375.84 L550.7 375.91 L551.7 375.89 L552.7 375.94 L553.7 375.98 L554.7 376.01 L555.7 376.03 L556.7 376.06 L557.7 376.14 L558.7 376.17 L559.7 376.30 L560.7 376.32 L561.7 376.38 L562.7 376.55 L563.7 376.53 L564.7 376.49 L565.7 376.55 L566.7 376.56 L567.7 376.63 L568.7 376.69 L569.7 376.77 L570.7 376.78 L571.7 376.70 L572.7 376.74 L573.7 376.76 L574.7 376.82 L575.7 376.91 L576.7 376.96 L577.7 376.95 L578.7 377.01 L579.7 377.00 L580.7 377.02 L581.7 377.16 L582.7 377.21 L583.7 377.17 L584.7 377.12 L585.7 377.14 L586.7 377.22 L587.7 377.25 L588.7 377.32 L589.7 377.38 L590.7 377.45 L591.4 377.40"/>
<path stroke="mediumturquoise" d="M56.7 378.80 L57.7 378.80 L58.7 378.80 L59.7 378.80 L60.7 378.80 L61.7 378.80 L62.7 378.80 L63.7 378.80 L64.7 378.80 L65.7 378.80 L66.7 378.80 L67.7 378.80 L68.7 378.80 L69.7 378.80 L70.7 378.80 L71.7 378.80 L72.7 378.80 L73.7 378.80 L74.7 378.80 L75.7 378.80 L76.7 378.79 L77.7 378.79 L78.7 378.79 L79.7 378.79 L80.7 378.79 L81.7 378.79 L82.7 378.79 L83.7 378.79 L84.7 378.79 L85.7 378.79 L86.7 378.78 L87.7 378.78 L88.7 378.78 L89.7 378.78 L90.7 378.78 L91.7 378.78 L92.7 378.77 L93.7 378.77 L94.7 378.77 L95.7 378.78 L96.7 378.77 L97.7 378.76 L98.7 378.76 L99.7 378.76 L100.7 378.77 L101.7 378.76 L102.7 378.76 L103.7 378.75 L104.7 378.75 L105.7 378.75 L106.7 378.74 L107.7 378.74 L108.7 378.74 L109.7 378.73 L110.7 378.73 L111.7 378.73 L112.7 378.73 L113.7 378.73 L114.7 378.73 L115.7 378.72 L116.7 378.71 L117.7 378.71 L118.7 378.70 L119.7 378.69 L120.7 378.69 L121.7 378.68 L122.7 378.63 L123.7 378.56 L124.7 378.48 L125.7 378.40 L126.7 378.31 L127.7 378.21 L128.7 378.11 L129.7 378.01 L130.7 377.94 L131.7 377.81 L132.7 377.67 L133.7 377.69 L134.7 377.65 L135.7 377.53 L136.7 377.37 L137.7 377.21 L138.7 377.10 L139.7 377.10 L140.7 376.96 L141.7 376.72 L142.7 376.56 L143.7 376.47 L144.7 376.41 L145.7 376.21 L146.7 376.02 L147.7 375.71 L148.7 375.48 L149.7 375.14 L150.7 374.80 L151.7 374.58 L152.7 374.41 L153.7 374.12 L154.7 373.64 L155.7 373.17 L156.7 372.78 L157.7 372.38 L158.7 372.06 L159.7 371.60 L160.7 371.00 L161.7 370.35 L162.7 369.88 L163.7 369.20 L164.7 368.52 L165.7 367.83 L166.7 367.19 L167.7 366.51 L168.7 365.77 L169.7 365.22 L170.7 364.59 L171.7 363.76 L172.7 362.90 L173.7 362.10 L174.7 361.59 L175.7 360.81 L176.7 359.90 L177.7 358.86 L178.7 358.08 L179.7 357.29 L180.7 356.60 L181.7 355.75 L182.7 354.88 L183.7 353.94 L184.7 353.32 L185.7 352.54 L186.7 351.52 L187.7 350.67 L188.7 349.86 L189.7 348.84 L190.7 348.23 L191.7 347.44 L192.7 346.52 L193.7 345.94 L194.7 345.28 L195.7 344.52 L196.7 343.64 L197.7 343.13 L198.7 342.76 L199.7 342.07 L200.7 341.56 L201.7 341.03 L202.7 340.50 L203.7 339.78 L204.7 338.78 L205.7 337.88 L206.7 336.84 L207.7 335.89 L208.7 334.79 L209.7 333.74 L210.7 332.92 L211.7 331.74 L212.7 330.68 L213.7 329.77 L214.7 329.14 L215.7 328.14 L216.7 327.26 L217.7 326.77 L218.7 325.63 L219.7 324.38 L220.7 323.73 L221.7 323.28 L222.7 322.15 L223.7 320.84 L224.7 320.08 L225.7 319.25 L226.7 318.99 L227.7 317.79 L228.7 316.62 L229.7 315.73 L230.7 315.15 L231.7 314.40 L232.7 313.23 L233.7 312.72 L234.7 311.88 L235.7 311.15 L236.7 309.80 L237.7 308.76 L238.7 307.95 L239.7 307.09 L240.7 306.23 L241.7 305.42 L242.7 304.95 L243.7 304.26 L244.7 303.40 L245.7 302.43 L246.7 301.56 L247.7 300.74 L248.7 300.04 L249.7 299.23 L250.7 298.28 L251.7 297.69 L252.7 296.97 L253.7 296.00 L254.7 295.37 L255.7 295.05 L256.7 293.97 L257.7 293.06 L258.7 292.59 L259.7 292.00 L260.7 291.45 L261.7 290.62 L262.7 289.91 L263.7 289.49 L264.7 288.70 L265.7 287.74 L266.7 286.98 L267.7 286.39 L268.7 286.00 L269.7 285.58 L270.7 284.97 L271.7 284.17 L272.7 284.08 L273.7 283.58 L274.7 282.71 L275.7 281.96 L276.7 281.80 L277.7 281.15 L278.7 280.50 L279.7 279.89 L280.7 279.73 L281.7 279.28 L282.7 279.11 L283.7 279.06 L284.7 278.79 L285.7 278.19 L286.7 277.55 L287.7 277.22 L288.7 276.68 L289.7 276.56 L290.7 276.16 L291.7 275.53 L292.7 275.10 L293.7 275.04 L294.7 274.39 L295.7 274.26 L296.7 274.35 L297.7 273.95 L298.7 273.53 L299.7 273.37 L300.7 272.52 L301.7 272.52 L302.7 272.42 L303.7 271.96 L304.7 271.44 L305.7 270.92 L306.7 271.02 L307.7 271.36 L308.7 270.80 L309.7 270.09 L310.7 269.79 L311.7 269.69 L312.7 269.36 L313.7 269.19 L314.7 269.13 L315.7 268.73 L316.7 268.27 L317.7 268.20 L318.7 268.13 L319.7 267.75 L320.7 267.39 L321.7 267.25 L322.7 267.36 L323.7 266.92 L324.7 266.60 L325.7 266.68 L326.7 266.67 L327.7 266.69 L328.7 266.31 L329.7 265.77 L330.7 266.07 L331.7 266.14 L332.7 265.58 L333.7 265.70 L334.7 265.60 L335.7 265.27 L336.7 265.14 L337.7 265.18 L338.7 265.15 L339.7 265.13 L340.7 264.68 L341.7 264.60 L342.7 264.72 L343.7 264.88 L344.7 264.77 L345.7 264.53 L346.7 263.85 L347.7 264.17 L348.7 264.18 L349.7 264.53 L350.7 264.34 L351.7 264.37 L352.7 264.20 L353.7 264.10 L354.7 264.29 L355.7 264.09 L356.7 264.17 L357.7 263.99 L358.7 263.37 L359.7 263.20 L360.7 263.98 L361.7 264.03 L362.7 263.75 L363.7 263.75 L364.7 263.81 L365.7 263.62 L366.7 263.70 L367.7 263.58 L368.7 263.53 L369.7 263.62 L370.7 263.55 L371.7 263.43 L372.7 263.59 L373.7 263.49 L374.7 263.56 L375.7 263.57 L376.7 263.92 L377.7 263.86 L378.7 263.76 L379.7 264.16 L380.7 264.45 L381.7 264.54 L382.7 264.68 L383.7 264.50 L384.7 264.85 L385.7 264.95 L386.7 264.91 L387.7 264.90 L388.7 265.30 L389.7 265.38 L390.7 265.62 L391.7 266.33 L392.7 266.79 L393.7 266.99 L394.7 267.45 L395.7 267.65 L396.7 267.83 L397.7 267.73 L398.7 267.74 L399.7 268.17 L400.7 267.97 L401.7 268.49 L402.7 268.21 L403.7 268.59 L404.7 269.48 L405.7 269.70 L406.7 269.60 L407.7 269.73 L408.7 270.31 L409.7 270.31 L410.7 270.36 L411.7 270.74 L412.7 271.38 L413.7 271.45 L414.7 271.33 L415.7 271.81 L416.7 271.79 L417.7 271.97 L418.7 272.57 L419.7 272.73 L420.7 272.98 L421.7 273.44 L422.7 273.52 L423.7 273.54 L424.7 273.77 L425.7 274.19 L426.7 274.25 L427.7 274.62 L428.7 275.07 L429.7 276.00 L430.7 275.72 L431.7 275.65 L432.7 275.85 L433.7 276.20 L434.7 276.85 L435.7 277.16 L436.7 277.29 L437.7 277.57 L438.7 277.56 L439.7 277.87 L440.7 278.38 L441.7 279.04 L442.7 279.52 L443.7 279.61 L444.7 279.97 L445.7 279.43 L446.7 279.76 L447.7 280.15 L448.7 280.56 L449.7 280.94 L450.7 281.30 L451.7 281.84 L452.7 281.70 L453.7 282.08 L454.7 282.76 L455.7 282.83 L456.7 283.17 L457.7 283.36 L458.7 283.19 L459.7 283.51 L460.7 284.28 L461.7 285.23 L462.7 285.06 L463.7 285.15 L464.7 285.92 L465.7 286.31 L466.7 286.48 L467.7 286.70 L468.7 287.33 L469.7 287.59 L470.7 287.88 L471.7 288.00 L472.7 288.35 L473.7 288.68 L474.7 288.95 L475.7 289.53 L476.7 290.30 L477.7 290.68 L478.7 290.94 L479.7 291.35 L480.7 291.73 L481.7 291.94 L482.7 292.27 L483.7 292.72 L484.7 293.29 L485.7 293.87 L486.7 294.01 L487.7 294.45 L488.7 294.75 L489.7 294.88 L490.7 295.21 L491.7 295.58 L492.7 296.11 L493.7 296.48 L494.7 296.77 L495.7 297.20 L496.7 297.92 L497.7 298.18 L498.7 298.33 L499.7 298.69 L500.7 298.94 L501.7 299.61 L502.7 299.71 L503.7 299.97 L504.7 300.73 L505.7 301.05 L506.7 301.17 L507.7 301.52 L508.7 301.83 L509.7 302.19 L510.7 302.64 L511.7 302.62 L512.7 302.79 L513.7 303.37 L514.7 303.68 L515.7 304.51 L516.7 304.69 L517.7 304.89 L518.7 305.23 L519.7 305.95 L520.7 306.37 L521.7 306.75 L522.7 307.13 L523.7 307.40 L524.7 307.94 L525.7 307.98 L526.7 308.48 L527.7 308.80 L528.7 309.54 L529.7 309.58 L530.7 309.89 L531.7 310.41 L532.7 311.04 L533.7 310.86 L534.7 311.16 L535.7 311.69 L536.7 311.93 L537.7 312.20 L538.7 312.61 L539.7 313.12 L540.7 313.30 L541.7 313.59 L542.7 313.79 L543.7 314.66 L544.7 315.06 L545.7 315.17 L546.7 315.15 L547.7 315.39 L548.7 315.98 L549.7 316.65 L550.7 316.61 L551.7 316.56 L552.7 317.05 L553.7 317.35 L554.7 317.45 L555.7 317.99 L556.7 318.15 L557.7 318.47 L558.7 318.93 L559.7 318.99 L560.7 319.34 L561.7 319.40 L562.7 319.53 L563.7 320.16 L564.7 320.38 L565.7 320.51 L566.7 320.77 L567.7 321.14 L568.7 321.10 L569.7 321.22 L570.7 321.76 L571.7 322.25 L572.7 322.57 L573.7 322.94 L574.7 323.18 L575.7 323.17 L576.7 323.68 L577.7 323.80 L578.7 323.99 L579.7 324.15 L580.7 324.43 L581.7 324.88 L582.7 325.27 L583.7 325.91 L584.7 326.30 L585.7 326.20 L586.7 326.58 L587.7 327.06 L588.7 327.38 L589.7 327.63 L590.7 328.22 L591.4 328.66"/>
<path stroke="yellowgreen" d="M56.7 378.8 L591.4 378.8"/>
<path stroke="mediumvioletred" d="M56.7 378.80 L57.7 378.80 L58.7 378.80 L59.7 378.80 L60.7 378.80 L61.7 378.80 L62.7 378.80 L63.7 378.80 L64.7 378.80 L65.7 378.80 L66.7 378.80 L67.7 378.80 L68.7 378.80 L69.7 378.80 L70.7 378.80 L71.7 378.80 L72.7 378.80 L73.7 378.80 L74.7 378.80 L75.7 378.80 L76.7 378.80 L77.7 378.80 L78.7 378.80 L79.7 378.80 L80.7 378.80 L81.7 378.80 L82.7 378.80 L83.7 378.79 L84.7 378.80 L85.7 378.80 L86.7 378.79 L87.7 378.79 L88.7 378.79 L89.7 378.79 L90.7 378.79 L91.7 378.79 L92.7 378.79 L93.7 378.79 L94.7 378.79 L95.7 378.79 L96.7 378.79 L97.7 378.79 L98.7 378.79 L99.7 378.79 L100.7 378.79 L101.7 378.79 L102.7 378.79 L103.7 378.78 L104.7 378.78 L105.7 378.78 L106.7 378.78 L107.7 378.78 L108.7 378.78 L109.7 378.78 L110.7 378.78 L111.7 378.78 L112.7 378.76 L113.7 378.78 L114.7 378.78 L115.7 378.77 L116.7 378.76 L117.7 378.76 L118.7 378.77 L119.7 378.76 L120.7 378.76 L121.7 378.75 L122.7 378.76 L123.7 378.77 L124.7 378.76 L125.7 378.75 L126.7 378.75 L127.7 378.75 L128.7 378.74 L129.7 378.72 L130.7 378.74 L131.7 378.74 L132.7 378.74 L133.7 378.74 L134.7 378.75 L135.7 378.73 L136.7 378.72 L137.7 378.72 L138.7 378.73 L139.7 378.73 L140.7 378.73 L141.7 378.73 L142.7 378.72 L143.7 378.72 L144.7 378.72 L145.7 378.71 L146.7 378.72 L147.7 378.70 L148.7 378.69 L149.7 378.70 L150.7 378.70 L151.7 378.68 L152.7 378.64 L153.7 378.61 L154.7 378.58 L155.7 378.54 L156.7 378.49 L157.7 378.43 L158.7 378.36 L159.7 378.32 L160.7 378.25 L161.7 378.17 L162.7 378.08 L163.7 377.94 L164.7 377.87 L165.7 377.75 L166.7 377.62 L167.7 377.51 L168.7 377.40 L169.7 377.20 L170.7 377.04 L171.7 376.99 L172.7 376.77 L173.7 376.61 L174.7 376.41 L175.7 376.15 L176.7 375.91 L177.7 375.75 L178.7 375.47 L179.7 375.26 L180.7 375.06 L181.7 374.80 L182.7 374.69 L183.7 374.33 L184.7 373.96 L185.7 373.67 L186.7 373.47 L187.7 373.27 L188.7 373.04 L189.7 372.60 L190.7 372.31 L191.7 372.16 L192.7 371.75 L193.7 371.12 L194.7 370.70 L195.7 370.55 L196.7 370.20 L197.7 369.79 L198.7 369.48 L199.7 369.13 L200.7 368.79 L201.7 368.41 L202.7 367.89 L203.7 367.61 L204.7 367.16 L205.7 366.78 L206.7 366.48 L207.7 366.11 L208.7 365.81 L209.7 365.55 L210.7 365.22 L211.7 364.83 L212.7 364.48 L213.7 363.98 L214.7 363.49 L215.7 363.10 L216.7 362.89 L217.7 362.47 L218.7 361.89 L219.7 361.26 L220.7 360.89 L221.7 360.52 L222.7 359.79 L223.7 359.46 L224.7 358.92 L225.7 358.32 L226.7 358.00 L227.7 357.56 L228.7 357.00 L229.7 356.44 L230.7 356.23 L231.7 355.66 L232.7 355.00 L233.7 354.44 L234.7 354.26 L235.7 353.66 L236.7 353.13 L237.7 352.71 L238.7 352.33 L239.7 351.82 L240.7 351.39 L241.7 351.11 L242.7 350.44 L243.7 349.80 L244.7 349.20 L245.7 348.70 L246.7 348.58 L247.7 348.10 L248.7 347.73 L249.7 347.31 L250.7 346.84 L251.7 346.19 L252.7 345.61 L253.7 345.09 L254.7 344.40 L255.7 343.84 L256.7 343.73 L257.7 343.31 L258.7 342.57 L259.7 342.42 L260.7 341.79 L261.7 341.15 L262.7 340.52 L263.7 339.87 L264.7 339.73 L265.7 339.34 L266.7 338.63 L267.7 338.20 L268.7 337.59 L269.7 337.07 L270.7 336.44 L271.7 336.02 L272.7 335.42 L273.7 334.82 L274.7 334.31 L275.7 333.45 L276.7 333.15 L277.7 332.94 L278.7 332.58 L279.7 331.96 L280.7 331.46 L281.7 330.65 L282.7 330.35 L283.7 329.95 L284.7 329.22 L285.7 328.85 L286.7 328.50 L287.7 328.01 L288.7 327.37 L289.7 327.12 L290.7 326.57 L291.7 326.03 L292.7 325.35 L293.7 324.46 L294.7 324.08 L295.7 324.08 L296.7 323.22 L297.7 322.60 L298.7 322.40 L299.7 321.69 L300.7 321.07 L301.7 320.91 L302.7 320.38 L303.7 319.93 L304.7 319.37 L305.7 318.80 L306.7 318.50 L307.7 318.28 L308.7 317.35 L309.7 316.41 L310.7 316.07 L311.7 315.61 L312.7 315.22 L313.7 314.51 L314.7 314.03 L315.7 313.50 L316.7 312.73 L317.7 312.61 L318.7 312.07 L319.7 311.44 L320.7 310.80 L321.7 310.63 L322.7 309.92 L323.7 309.44 L324.7 309.24 L325.7 308.80 L326.7 308.01 L327.7 307.64 L328.7 307.34 L329.7 306.66 L330.7 306.22 L331.7 306.05 L332.7 305.15 L333.7 304.53 L334.7 304.18 L335.7 303.62 L336.7 303.14 L337.7 303.52 L338.7 303.11 L339.7 302.56 L340.7 301.92 L341.7 301.36 L342.7 300.86 L343.7 300.33 L344.7 299.95 L345.7 299.68 L346.7 299.19 L347.7 298.64 L348.7 298.42 L349.7 298.32 L350.7 297.85 L351.7 297.25 L352.7 296.76 L353.7 296.96 L354.7 296.67 L355.7 296.30 L356.7 295.82 L357.7 295.62 L358.7 295.24 L359.7 294.87 L360.7 294.87 L361.7 294.18 L362.7 293.83 L363.7 293.53 L364.7 292.65 L365.7 292.50 L366.7 292.40 L367.7 292.06 L368.7 291.87 L369.7 291.53 L370.7 291.38 L371.7 291.50 L372.7 291.16 L373.7 290.71 L374.7 290.33 L375.7 290.16 L376.7 289.81 L377.7 289.50 L378.7 288.63 L379.7 288.16 L380.7 288.28 L381.7 288.04 L382.7 287.91 L383.7 287.96 L384.7 287.47 L385.7 287.18 L386.7 286.96 L387.7 286.50 L388.7 286.61 L389.7 287.06 L390.7 286.49 L391.7 285.97 L392.7 285.58 L393.7 285.50 L394.7 285.01 L395.7 284.66 L396.7 284.96 L397.7 284.52 L398.7 284.36 L399.7 284.24 L400.7 284.01 L401.7 284.07 L402.7 283.59 L403.7 283.41 L404.7 283.50 L405.7 283.50 L406.7 283.24 L407.7 282.72 L408.7 282.63 L409.7 282.62 L410.7 282.34 L411.7 281.76 L412.7 281.31 L413.7 281.18 L414.7 281.14 L415.7 280.97 L416.7 280.66 L417.7 280.96 L418.7 280.64 L419.7 280.52 L420.7 280.23 L421.7 279.90 L422.7 279.60 L423.7 279.26 L424.7 279.06 L425.7 279.17 L426.7 278.61 L427.7 278.46 L428.7 278.49 L429.7 278.40 L430.7 278.16 L431.7 278.01 L432.7 277.28 L433.7 277.00 L434.7 277.69 L435.7 277.42 L436.7 277.26 L437.7 276.71 L438.7 276.64 L439.7 276.55 L440.7 276.08 L441.7 276.07 L442.7 276.37 L443.7 276.08 L444.7 276.16 L445.7 275.83 L446.7 275.55 L447.7 275.39 L448.7 275.52 L449.7 275.67 L450.7 275.06 L451.7 274.72 L452.7 274.65 L453.7 274.83 L454.7 274.54 L455.7 274.60 L456.7 274.66 L457.7 274.50 L458.7 274.24 L459.7 274.50 L460.7 274.28 L461.7 273.78 L462.7 273.81 L463.7 274.12 L464.7 273.56 L465.7 273.42 L466.7 273.22 L467.7 272.96 L468.7 272.73 L469.7 273.14 L470.7 273.65 L471.7 272.81 L472.7 272.77 L473.7 273.12 L474.7 272.93 L475.7 272.73 L476.7 272.61 L477.7 272.54 L478.7 273.10 L479.7 272.17 L480.7 271.79 L481.7 271.80 L482.7 272.13 L483.7 272.05 L484.7 271.69 L485.7 272.02 L486.7 272.00 L487.7 271.43 L488.7 271.52 L489.7 271.53 L490.7 271.52 L491.7 271.40 L492.7 271.16 L493.7 271.11 L494.7 271.17 L495.7 271.32 L496.7 271.08 L497.7 270.61 L498.7 270.69 L499.7 270.42 L500.7 270.71 L501.7 270.52 L502.7 270.55 L503.7 270.27 L504.7 270.10 L505.7 270.30 L506.7 269.78 L507.7 269.85 L508.7 270.20 L509.7 270.51 L510.7 269.72 L511.7 269.41 L512.7 269.44 L513.7 269.26 L514.7 269.14 L515.7 269.08 L516.7 269.33 L517.7 268.99 L518.7 268.67 L519.7 268.47 L520.7 268.61 L521.7 268.85 L522.7 269.05 L523.7 268.93 L524.7 268.85 L525.7 268.99 L526.7 269.13 L527.7 268.48 L528.7 268.15 L529.7 268.14 L530.7 268.19 L531.7 268.22 L532.7 268.41 L533.7 268.19 L534.7 267.76 L535.7 267.82 L536.7 267.52 L537.7 267.29 L538.7 267.09 L539.7 267.16 L540.7 267.15 L541.7 267.10 L542.7 267.21 L543.7 267.28 L544.7 267.20 L545.7 266.94 L546.7 267.55 L547.7 267.17 L548.7 266.74 L549.7 266.85 L550.7 266.76 L551.7 266.57 L552.7 266.78 L553.7 266.90 L554.7 266.65 L555.7 266.73 L556.7 266.78 L557.7 266.65 L558.7 266.82 L559.7 266.97 L560.7 267.09 L561.7 267.09 L562.7 267.71 L563.7 267.95 L564.7 267.48 L565.7 267.57 L566.7 267.41 L567.7 267.68 L568.7 267.81 L569.7 268.01 L570.7 267.79 L571.7 267.87 L572.7 268.20 L573.7 268.38 L574.7 268.21 L575.7 267.96 L576.7 268.08 L577.7 268.57 L578.7 268.69 L579.7 268.75 L580.7 268.33 L581.7 268.37 L582.7 268.28 L583.7 268.41 L584.7 268.63 L585.7 268.87 L586.7 268.68 L587.7 268.85 L588.7 269.05 L589.7 268.89 L590.7 269.27 L591.4 269.35"/>
<path stroke="lightsalmon" d="M56.7 378.80 L57.7 378.80 L58.7 378.80 L59.7 378.80 L60.7 378.80 L61.7 378.80 L62.7 378.80 L63.7 378.80 L64.7 378.80 L65.7 378.80 L66.7 378.80 L67.7 378.80 L68.7 378.80 L69.7 378.80 L70.7 378.80 L71.7 378.80 L72.7 378.80 L73.7 378.80 L74.7 378.80 L75.7 378.80 L76.7 378.80 L77.7 378.80 L78.7 378.80 L79.7 378.80 L80.7 378.80 L81.7 378.80 L82.7 378.80 L83.7 378.80 L84.7 378.80 L85.7 378.80 L86.7 378.80 L87.7 378.80 L88.7 378.80 L89.7 378.80 L90.7 378.80 L91.7 378.80 L92.7 378.80 L93.7 378.80 L94.7 378.79 L95.7 378.80 L96.7 378.80 L97.7 378.79 L98.7 378.79 L99.7 378.80 L100.7 378.79 L101.7 378.80 L102.7 378.80 L103.7 378.79 L104.7 378.79 L105.7 378.79 L106.7 378.79 L107.7 378.79 L108.7 378.79 L109.7 378.79 L110.7 378.79 L111.7 378.79 L112.7 378.79 L113.7 378.79 L114.7 378.80 L115.7 378.79 L116.7 378.78 L117.7 378.78 L118.7 378.78 L119.7 378.77 L120.7 378.77 L121.7 378.78 L122.7 378.78 L123.7 378.78 L124.7 378.78 L125.7 378.78 L126.7 378.77 L127.7 378.77 L128.7 378.78 L129.7 378.78 L130.7 378.77 L131.7 378.78 L132.7 378.77 L133.7 378.77 L134.7 378.77 L135.7 378.77 L136.7 378.78 L137.7 378.78 L138.7 378.77 L139.7 378.77 L140.7 378.77 L141.7 378.76 L142.7 378.77 L143.7 378.77 L144.7 378.77 L145.7 378.76 L146.7 378.76 L147.7 378.76 L148.7 378.75 L149.7 378.75 L150.7 378.76 L151.7 378.77 L152.7 378.75 L153.7 378.74 L154.7 378.75 L155.7 378.76 L156.7 378.74 L157.7 378.73 L158.7 378.74 L159.7 378.74 L160.7 378.73 L161.7 378.73 L162.7 378.74 L163.7 378.74 L164.7 378.74 L165.7 378.73 L166.7 378.73 L167.7 378.73 L168.7 378.73 L169.7 378.72 L170.7 378.72 L171.7 378.74 L172.7 378.73 L173.7 378.72 L174.7 378.72 L175.7 378.72 L176.7 378.74 L177.7 378.73 L178.7 378.71 L179.7 378.71 L180.7 378.71 L181.7 378.70 L182.7 378.69 L183.7 378.70 L184.7 378.71 L185.7 378.71 L186.7 378.68 L187.7 378.64 L188.7 378.62 L189.7 378.58 L190.7 378.53 L191.7 378.49 L192.7 378.40 L193.7 378.32 L194.7 378.27 L195.7 378.24 L196.7 378.15 L197.7 378.02 L198.7 377.99 L199.7 377.98 L200.7 377.83 L201.7 377.74 L202.7 377.67 L203.7 377.56 L204.7 377.44 L205.7 377.37 L206.7 377.35 L207.7 377.25 L208.7 377.16 L209.7 377.08 L210.7 376.94 L211.7 376.82 L212.7 376.66 L213.7 376.44 L214.7 376.29 L215.7 376.17 L216.7 376.07 L217.7 376.02 L218.7 375.86 L219.7 375.76 L220.7 375.63 L221.7 375.49 L222.7 375.29 L223.7 375.06 L224.7 374.98 L225.7 374.84 L226.7 374.63 L227.7 374.47 L228.7 374.31 L229.7 374.07 L230.7 373.89 L231.7 373.72 L232.7 373.50 L233.7 373.14 L234.7 373.03 L235.7 372.78 L236.7 372.50 L237.7 372.26 L238.7 372.10 L239.7 371.81 L240.7 371.49 L241.7 371.16 L242.7 370.99 L243.7 370.87 L244.7 370.64 L245.7 370.40 L246.7 370.19 L247.7 370.06 L248.7 369.84 L249.7 369.48 L250.7 369.23 L251.7 369.07 L252.7 368.97 L253.7 368.65 L254.7 368.34 L255.7 368.11 L256.7 367.89 L257.7 367.66 L258.7 367.42 L259.7 367.12 L260.7 366.95 L261.7 366.69 L262.7 366.42 L263.7 366.11 L264.7 365.83 L265.7 365.80 L266.7 365.50 L267.7 365.21 L268.7 364.83 L269.7 364.57 L270.7 364.52 L271.7 364.43 L272.7 364.13 L273.7 364.00 L274.7 363.92 L275.7 363.65 L276.7 363.33 L277.7 363.14 L278.7 363.00 L279.7 362.66 L280.7 362.38 L281.7 362.13 L282.7 361.83 L283.7 361.87 L284.7 361.75 L285.7 361.40 L286.7 361.07 L287.7 360.91 L288.7 361.14 L289.7 360.97 L290.7 360.64 L291.7 360.21 L292.7 359.89 L293.7 359.91 L294.7 359.68 L295.7 359.37 L296.7 358.85 L297.7 358.68 L298.7 358.72 L299.7 358.62 L300.7 358.38 L301.7 358.06 L302.7 357.77 L303.7 357.40 L304.7 357.35 L305.7 356.98 L306.7 356.84 L307.7 356.66 L308.7 356.44 L309.7 356.20 L310.7 355.83 L311.7 355.80 L312.7 355.57 L313.7 355.23 L314.7 355.18 L315.7 354.96 L316.7 354.81 L317.7 354.60 L318.7 354.02 L319.7 353.75 L320.7 353.52 L321.7 353.20 L322.7 352.99 L323.7 352.94 L324.7 352.69 L325.7 352.36 L326.7 351.96 L327.7 351.82 L328.7 351.76 L329.7 351.72 L330.7 351.47 L331.7 351.25 L332.7 350.93 L333.7 350.66 L334.7 350.42 L335.7 350.30 L336.7 350.15 L337.7 349.95 L338.7 349.68 L339.7 349.47 L340.7 349.27 L341.7 348.79 L342.7 348.73 L343.7 348.62 L344.7 348.43 L345.7 348.37 L346.7 348.21 L347.7 347.79 L348.7 347.69 L349.7 347.24 L350.7 347.14 L351.7 347.15 L352.7 347.00 L353.7 346.66 L354.7 346.46 L355.7 346.37 L356.7 346.26 L357.7 346.03 L358.7 345.76 L359.7 345.58 L360.7 345.79 L361.7 345.42 L362.7 345.13 L363.7 344.83 L364.7 344.70 L365.7 344.47 L366.7 344.21 L367.7 343.96 L368.7 343.66 L369.7 343.76 L370.7 343.52 L371.7 343.24 L372.7 342.98 L373.7 342.60 L374.7 342.00 L375.7 341.58 L376.7 341.50 L377.7 341.47 L378.7 341.18 L379.7 341.26 L380.7 340.77 L381.7 340.61 L382.7 340.24 L383.7 340.06 L384.7 339.95 L385.7 339.82 L386.7 339.51 L387.7 339.20 L388.7 339.18 L389.7 338.85 L390.7 338.27 L391.7 337.95 L392.7 337.93 L393.7 337.74 L394.7 337.64 L395.7 337.20 L396.7 336.90 L397.7 336.66 L398.7 336.61 L399.7 336.26 L400.7 335.99 L401.7 335.98 L402.7 335.67 L403.7 335.26 L404.7 335.23 L405.7 334.89 L406.7 334.56 L407.7 334.09 L408.7 334.12 L409.7 333.74 L410.7 333.23 L411.7 333.01 L412.7 333.02 L413.7 332.75 L414.7 332.63 L415.7 332.53 L416.7 332.13 L417.7 332.01 L418.7 331.76 L419.7 331.50 L420.7 331.42 L421.7 331.22 L422.7 331.26 L423.7 330.95 L424.7 330.75 L425.7 330.28 L426.7 330.03 L427.7 329.56 L428.7 329.52 L429.7 329.37 L430.7 329.35 L431.7 329.16 L432.7 328.96 L433.7 328.39 L434.7 328.03 L435.7 328.46 L436.7 328.58 L437.7 328.21 L438.7 327.69 L439.7 327.32 L440.7 327.25 L441.7 327.31 L442.7 326.87 L443.7 326.76 L444.7 326.39 L445.7 326.29 L446.7 326.39 L447.7 326.49 L448.7 325.96 L449.7 325.46 L450.7 325.56 L451.7 325.03 L452.7 324.89 L453.7 324.90 L454.7 324.70 L455.7 324.61 L456.7 324.58 L457.7 324.18 L458.7 324.34 L459.7 323.85 L460.7 323.49 L461.7 323.07 L462.7 323.28 L463.7 323.40 L464.7 323.18 L465.7 323.28 L466.7 322.99 L467.7 322.79 L468.7 322.69 L469.7 322.87 L470.7 322.42 L471.7 322.32 L472.7 322.21 L473.7 321.82 L474.7 321.60 L475.7 321.67 L476.7 321.83 L477.7 321.85 L478.7 321.80 L479.7 321.75 L480.7 321.51 L481.7 321.20 L482.7 321.37 L483.7 321.30 L484.7 321.02 L485.7 320.90 L486.7 320.88 L487.7 321.05 L488.7 320.62 L489.7 320.63 L490.7 320.38 L491.7 320.39 L492.7 320.08 L493.7 319.91 L494.7 319.83 L495.7 319.78 L496.7 319.32 L497.7 319.05 L498.7 319.47 L499.7 319.26 L500.7 319.33 L501.7 319.20 L502.7 318.95 L503.7 318.85 L504.7 318.63 L505.7 318.36 L506.7 318.48 L507.7 318.53 L508.7 318.40 L509.7 318.28 L510.7 318.59 L511.7 318.63 L512.7 318.33 L513.7 317.86 L514.7 317.96 L515.7 317.54 L516.7 317.60 L517.7 317.69 L518.7 317.75 L519.7 317.47 L520.7 317.12 L521.7 317.00 L522.7 317.11 L523.7 317.06 L524.7 317.10 L525.7 316.68 L526.7 316.71 L527.7 316.87 L528.7 316.66 L529.7 316.73 L530.7 316.50 L531.7 316.39 L532.7 316.36 L533.7 316.25 L534.7 316.01 L535.7 315.86 L536.7 315.78 L537.7 315.90 L538.7 315.64 L539.7 315.73 L540.7 316.28 L541.7 316.10 L542.7 315.64 L543.7 315.68 L544.7 315.76 L545.7 315.46 L546.7 315.45 L547.7 315.58 L548.7 315.52 L549.7 315.24 L550.7 315.27 L551.7 315.12 L552.7 315.28 L553.7 315.32 L554.7 314.95 L555.7 314.87 L556.7 315.25 L557.7 315.15 L558.7 314.70 L559.7 314.51 L560.7 314.14 L561.7 314.35 L562.7 314.36 L563.7 314.13 L564.7 314.29 L565.7 314.41 L566.7 314.07 L567.7 314.30 L568.7 314.32 L569.7 314.55 L570.7 314.16 L571.7 314.07 L572.7 313.78 L573.7 313.60 L574.7 313.54 L575.7 313.36 L576.7 313.61 L577.7 313.25 L578.7 313.42 L579.7 313.14 L580.7 313.04 L581.7 312.96 L582.7 313.13 L583.7 312.95 L584.7 312.88 L585.7 312.85 L586.7 312.65 L587.7 312.25 L588.7 312.43 L589.7 312.23 L590.7 312.49 L591.4 312.61"/>
<path stroke="darkgray" d="M56.7 378.80 L57.7 378.80 L58.7 378.80 L59.7 378.80 L60.7 378.80 L61.7 378.80 L62.7 378.80 L63.7 378.80 L64.7 378.80 L65.7 378.80 L66.7 378.80 L67.7 378.80 L68.7 378.80 L69.7 378.80 L70.7 378.80 L71.7 378.80 L72.7 378.80 L73.7 378.80 L74.7 378.80 L75.7 378.80 L76.7 378.80 L77.7 378.80 L78.7 378.80 L79.7 378.80 L80.7 378.80 L81.7 378.80 L82.7 378.80 L83.7 378.80 L84.7 378.80 L85.7 378.80 L86.7 378.80 L87.7 378.80 L88.7 378.80 L89.7 378.80 L90.7 378.80 L91.7 378.80 L92.7 378.80 L93.7 378.80 L94.7 378.80 L95.7 378.79 L96.7 378.80 L97.7 378.80 L98.7 378.80 L99.7 378.80 L100.7 378.79 L101.7 378.79 L102.7 378.80 L103.7 378.80 L104.7 378.79 L105.7 378.79 L106.7 378.79 L107.7 378.79 L108.7 378.79 L109.7 378.79 L110.7 378.79 L111.7 378.80 L112.7 378.79 L113.7 378.79 L114.7 378.79 L115.7 378.79 L116.7 378.79 L117.7 378.79 L118.7 378.79 L119.7 378.79 L120.7 378.79 L121.7 378.79 L122.7 378.79 L123.7 378.79 L124.7 378.79 L125.7 378.79 L126.7 378.79 L127.7 378.79 L128.7 378.78 L129.7 378.78 L130.7 378.78 L131.7 378.79 L132.7 378.78 L133.7 378.78 L134.7 378.78 L135.7 378.78 L136.7 378.77 L137.7 378.77 L138.7 378.77 L139.7 378.78 L140.7 378.78 L141.7 378.77 L142.7 378.77 L143.7 378.77 L144.7 378.77 L145.7 378.77 L146.7 378.77 L147.7 378.76 L148.7 378.77 L149.7 378.77 L150.7 378.77 L151.7 378.76 L152.7 378.76 L153.7 378.76 L154.7 378.76 L155.7 378.76 L156.7 378.76 L157.7 378.76 L158.7 378.76 L159.7 378.76 L160.7 378.77 L161.7 378.77 L162.7 378.77 L163.7 378.76 L164.7 378.75 L165.7 378.75 L166.7 378.75 L167.7 378.75 L168.7 378.75 L169.7 378.76 L170.7 378.74 L171.7 378.74 L172.7 378.74 L173.7 378.75 L174.7 378.74 L175.7 378.73 L176.7 378.74 L177.7 378.74 L178.7 378.74 L179.7 378.75 L180.7 378.73 L181.7 378.73 L182.7 378.73 L183.7 378.73 L184.7 378.74 L185.7 378.74 L186.7 378.72 L187.7 378.72 L188.7 378.73 L189.7 378.73 L190.7 378.72 L191.7 378.71 L192.7 378.71 L193.7 378.70 L194.7 378.70 L195.7 378.72 L196.7 378.70 L197.7 378.69 L198.7 378.70 L199.7 378.70 L200.7 378.70 L201.7 378.68 L202.7 378.64 L203.7 378.61 L204.7 378.57 L205.7 378.50 L206.7 378.46 L207.7 378.42 L208.7 378.34 L209.7 378.26 L210.7 378.20 L211.7 378.16 L212.7 378.07 L213.7 378.02 L214.7 377.95 L215.7 377.84 L216.7 377.79 L217.7 377.79 L218.7 377.71 L219.7 377.64 L220.7 377.61 L221.7 377.44 L222.7 377.33 L223.7 377.32 L224.7 377.26 L225.7 377.22 L226.7 377.11 L227.7 377.01 L228.7 376.89 L229.7 376.87 L230.7 376.76 L231.7 376.65 L232.7 376.58 L233.7 376.45 L234.7 376.26 L235.7 376.21 L236.7 376.15 L237.7 376.08 L238.7 375.97 L239.7 375.90 L240.7 375.78 L241.7 375.72 L242.7 375.54 L243.7 375.42 L244.7 375.26 L245.7 375.19 L246.7 375.17 L247.7 375.00 L248.7 374.87 L249.7 374.78 L250.7 374.68 L251.7 374.63 L252.7 374.52 L253.7 374.33 L254.7 374.20 L255.7 374.05 L256.7 373.91 L257.7 373.73 L258.7 373.66 L259.7 373.51 L260.7 373.23 L261.7 373.05 L262.7 372.99 L263.7 372.87 L264.7 372.69 L265.7 372.58 L266.7 372.43 L267.7 372.27 L268.7 372.01 L269.7 371.85 L270.7 371.64 L271.7 371.45 L272.7 371.23 L273.7 371.02 L274.7 370.94 L275.7 370.75 L276.7 370.53 L277.7 370.40 L278.7 370.24 L279.7 370.03 L280.7 369.94 L281.7 369.72 L282.7 369.43 L283.7 369.23 L284.7 369.08 L285.7 369.00 L286.7 368.92 L287.7 368.73 L288.7 368.47 L289.7 368.41 L290.7 368.03 L291.7 367.79 L292.7 367.55 L293.7 367.31 L294.7 367.21 L295.7 366.93 L296.7 366.85 L297.7 366.61 L298.7 366.12 L299.7 366.01 L300.7 365.82 L301.7 365.74 L302.7 365.71 L303.7 365.28 L304.7 364.73 L305.7 364.63 L306.7 364.52 L307.7 364.24 L308.7 363.99 L309.7 363.69 L310.7 363.40 L311.7 363.10 L312.7 362.89 L313.7 362.71 L314.7 362.39 L315.7 362.04 L316.7 361.64 L317.7 361.50 L318.7 361.25 L319.7 360.90 L320.7 360.79 L321.7 360.65 L322.7 360.31 L323.7 360.04 L324.7 359.72 L325.7 359.51 L326.7 359.17 L327.7 358.78 L328.7 358.52 L329.7 358.10 L330.7 357.81 L331.7 357.81 L332.7 357.59 L333.7 356.93 L334.7 357.04 L335.7 356.83 L336.7 356.49 L337.7 355.94 L338.7 355.69 L339.7 355.44 L340.7 355.09 L341.7 354.76 L342.7 354.69 L343.7 354.69 L344.7 354.43 L345.7 353.92 L346.7 353.45 L347.7 353.30 L348.7 353.22 L349.7 353.02 L350.7 352.67 L351.7 352.61 L352.7 351.99 L353.7 351.56 L354.7 351.35 L355.7 351.04 L356.7 350.71 L357.7 350.39 L358.7 350.56 L359.7 350.44 L360.7 350.03 L361.7 349.57 L362.7 349.47 L363.7 349.18 L364.7 348.79 L365.7 348.50 L366.7 348.28 L367.7 348.10 L368.7 347.77 L369.7 347.24 L370.7 346.93 L371.7 346.71 L372.7 346.43 L373.7 345.98 L374.7 345.50 L375.7 345.28 L376.7 345.25 L377.7 344.94 L378.7 344.52 L379.7 344.17 L380.7 343.89 L381.7 344.11 L382.7 343.64 L383.7 343.19 L384.7 343.05 L385.7 342.59 L386.7 342.16 L387.7 342.28 L388.7 341.69 L389.7 341.35 L390.7 341.37 L391.7 340.95 L392.7 340.38 L393.7 340.00 L394.7 339.85 L395.7 339.69 L396.7 339.24 L397.7 338.99 L398.7 338.67 L399.7 338.64 L400.7 338.46 L401.7 338.05 L402.7 337.69 L403.7 337.36 L404.7 337.05 L405.7 336.66 L406.7 336.70 L407.7 336.44 L408.7 336.10 L409.7 335.99 L410.7 335.31 L411.7 334.91 L412.7 334.70 L413.7 334.45 L414.7 334.01 L415.7 333.69 L416.7 333.22 L417.7 333.02 L418.7 333.04 L419.7 332.34 L420.7 332.08 L421.7 331.67 L422.7 331.18 L423.7 331.06 L424.7 330.86 L425.7 330.76 L426.7 330.29 L427.7 330.18 L428.7 329.76 L429.7 329.53 L430.7 329.33 L431.7 328.87 L432.7 328.46 L433.7 328.04 L434.7 327.53 L435.7 327.27 L436.7 327.20 L437.7 326.94 L438.7 326.76 L439.7 326.53 L440.7 325.79 L441.7 325.46 L442.7 325.59 L443.7 325.25 L444.7 324.82 L445.7 324.53 L446.7 324.32 L447.7 324.29 L448.7 324.05 L449.7 323.50 L450.7 322.93 L451.7 322.45 L452.7 322.13 L453.7 321.91 L454.7 321.88 L455.7 321.63 L456.7 320.98 L457.7 320.72 L458.7 320.30 L459.7 319.97 L460.7 320.03 L461.7 319.68 L462.7 319.46 L463.7 319.44 L464.7 319.08 L465.7 318.85 L466.7 318.58 L467.7 317.98 L468.7 317.47 L469.7 317.55 L470.7 317.03 L471.7 316.45 L472.7 316.30 L473.7 315.91 L474.7 315.78 L475.7 315.67 L476.7 315.31 L477.7 314.85 L478.7 314.44 L479.7 314.59 L480.7 314.49 L481.7 314.02 L482.7 313.60 L483.7 313.32 L484.7 313.11 L485.7 312.66 L486.7 312.43 L487.7 312.28 L488.7 311.85 L489.7 311.48 L490.7 311.24 L491.7 311.11 L492.7 310.58 L493.7 309.79 L494.7 309.79 L495.7 309.46 L496.7 309.36 L497.7 309.13 L498.7 308.74 L499.7 308.23 L500.7 307.89 L501.7 307.70 L502.7 307.68 L503.7 307.45 L504.7 307.15 L505.7 306.69 L506.7 306.52 L507.7 306.36 L508.7 306.36 L509.7 305.95 L510.7 305.50 L511.7 305.01 L512.7 305.04 L513.7 304.94 L514.7 304.61 L515.7 304.29 L516.7 303.84 L517.7 303.76 L518.7 303.08 L519.7 302.75 L520.7 302.49 L521.7 302.56 L522.7 302.58 L523.7 302.17 L524.7 302.16 L525.7 301.93 L526.7 301.59 L527.7 301.45 L528.7 301.40 L529.7 301.00 L530.7 300.54 L531.7 300.57 L532.7 300.23 L533.7 299.92 L534.7 299.57 L535.7 299.51 L536.7 299.42 L537.7 299.18 L538.7 298.81 L539.7 298.38 L540.7 298.34 L541.7 298.43 L542.7 298.32 L543.7 297.73 L544.7 296.99 L545.7 296.94 L546.7 296.65 L547.7 296.03 L548.7 296.06 L549.7 296.08 L550.7 295.87 L551.7 295.50 L552.7 295.16 L553.7 295.16 L554.7 294.82 L555.7 294.63 L556.7 294.26 L557.7 294.03 L558.7 293.77 L559.7 293.35 L560.7 293.46 L561.7 293.09 L562.7 292.31 L563.7 291.92 L564.7 291.47 L565.7 291.43 L566.7 291.45 L567.7 291.28 L568.7 290.88 L569.7 290.63 L570.7 290.12 L571.7 290.03 L572.7 289.75 L573.7 289.20 L574.7 289.01 L575.7 289.08 L576.7 288.45 L577.7 288.30 L578.7 288.33 L579.7 288.08 L580.7 287.63 L581.7 287.22 L582.7 287.04 L583.7 286.70 L584.7 286.22 L585.7 286.19 L586.7 286.13 L587.7 286.54 L588.7 285.97 L589.7 285.17 L590.7 284.84 L591.4 284.54"/>
<path stroke="steelblue" d="M56.7 378.80 L57.7 378.80 L58.7 378.80 L59.7 378.80 L60.7 378.80 L61.7 378.80 L62.7 378.80 L63.7 378.80 L64.7 378.80 L65.7 378.80 L66.7 378.80 L67.7 378.80 L68.7 378.80 L69.7 378.80 L70.7 378.80 L71.7 378.80 L72.7 378.80 L73.7 378.80 L74.7 378.80 L75.7 378.80 L76.7 378.80 L77.7 378.80 L78.7 378.80 L79.7 378.80 L80.7 378.80 L81.7 378.80 L82.7 378.80 L83.7 378.80 L84.7 378.80 L85.7 378.80 L86.7 378.80 L87.7 378.80 L88.7 378.80 L89.7 378.80 L90.7 378.80 L91.7 378.80 L92.7 378.80 L93.7 378.80 L94.7 378.80 L95.7 378.80 L96.7 378.80 L97.7 378.80 L98.7 378.80 L99.7 378.80 L100.7 378.80 L101.7 378.80 L102.7 378.80 L103.7 378.80 L104.7 378.80 L105.7 378.80 L106.7 378.80 L107.7 378.80 L108.7 378.80 L109.7 378.80 L110.7 378.80 L111.7 378.80 L112.7 378.80 L113.7 378.80 L114.7 378.80 L115.7 378.80 L116.7 378.80 L117.7 378.80 L118.7 378.80 L119.7 378.80 L120.7 378.80 L121.7 378.80 L122.7 378.80 L123.7 378.80 L124.7 378.79 L125.7 378.80 L126.7 378.80 L127.7 378.80 L128.7 378.80 L129.7 378.80 L130.7 378.80 L131.7 378.80 L132.7 378.80 L133.7 378.80 L134.7 378.80 L135.7 378.80 L136.7 378.80 L137.7 378.79 L138.7 378.79 L139.7 378.79 L140.7 378.79 L141.7 378.79 L142.7 378.79 L143.7 378.79 L144.7 378.79 L145.7 378.79 L146.7 378.79 L147.7 378.79 L148.7 378.79 L149.7 378.80 L150.7 378.79 L151.7 378.79 L152.7 378.79 L153.7 378.79 L154.7 378.79 L155.7 378.79 L156.7 378.79 L157.7 378.79 L158.7 378.79 L159.7 378.79 L160.7 378.79 L161.7 378.79 L162.7 378.79 L163.7 378.79 L164.7 378.79 L165.7 378.79 L166.7 378.79 L167.7 378.78 L168.7 378.78 L169.7 378.79 L170.7 378.79 L171.7 378.79 L172.7 378.79 L173.7 378.79 L174.7 378.80 L175.7 378.80 L176.7 378.79 L177.7 378.79 L178.7 378.79 L179.7 378.79 L180.7 378.79 L181.7 378.78 L182.7 378.78 L183.7 378.78 L184.7 378.77 L185.7 378.78 L186.7 378.78 L187.7 378.78 L188.7 378.78 L189.7 378.78 L190.7 378.78 L191.7 378.79 L192.7 378.79 L193.7 378.78 L194.7 378.78 L195.7 378.78 L196.7 378.78 L197.7 378.78 L198.7 378.77 L199.7 378.78 L200.7 378.78 L201.7 378.79 L202.7 378.78 L203.7 378.78 L204.7 378.77 L205.7 378.76 L206.7 378.77 L207.7 378.77 L208.7 378.78 L209.7 378.78 L210.7 378.78 L211.7 378.78 L212.7 378.77 L213.7 378.77 L214.7 378.77 L215.7 378.77 L216.7 378.78 L217.7 378.78 L218.7 378.78 L219.7 378.77 L220.7 378.77 L221.7 378.76 L222.7 378.77 L223.7 378.77 L224.7 378.76 L225.7 378.77 L226.7 378.78 L227.7 378.77 L228.7 378.76 L229.7 378.77 L230.7 378.76 L231.7 378.75 L232.7 378.76 L233.7 378.77 L234.7 378.77 L235.7 378.77 L236.7 378.76 L237.7 378.76 L238.7 378.77 L239.7 378.77 L240.7 378.76 L241.7 378.76 L242.7 378.75 L243.7 378.75 L244.7 378.76 L245.7 378.75 L246.7 378.75 L247.7 378.76 L248.7 378.77 L249.7 378.76 L250.7 378.76 L251.7 378.75 L252.7 378.75 L253.7 378.75 L254.7 378.76 L255.7 378.76 L256.7 378.75 L257.7 378.75 L258.7 378.76 L259.7 378.77 L260.7 378.76 L261.7 378.76 L262.7 378.75 L263.7 378.73 L264.7 378.74 L265.7 378.75 L266.7 378.74 L267.7 378.73 L268.7 378.74 L269.7 378.75 L270.7 378.76 L271.7 378.75 L272.7 378.74 L273.7 378.74 L274.7 378.74 L275.7 378.74 L276.7 378.74 L277.7 378.74 L278.7 378.74 L279.7 378.74 L280.7 378.74 L281.7 378.73 L282.7 378.73 L283.7 378.73 L284.7 378.74 L285.7 378.75 L286.7 378.75 L287.7 378.75 L288.7 378.74 L289.7 378.74 L290.7 378.73 L291.7 378.73 L292.7 378.74 L293.7 378.74 L294.7 378.75 L295.7 378.74 L296.7 378.72 L297.7 378.72 L298.7 378.71 L299.7 378.72 L300.7 378.73 L301.7 378.72 L302.7 378.73 L303.7 378.73 L304.7 378.73 L305.7 378.72 L306.7 378.71 L307.7 378.72 L308.7 378.70 L309.7 378.71 L310.7 378.73 L311.7 378.74 L312.7 378.72 L313.7 378.72 L314.7 378.71 L315.7 378.71 L316.7 378.72 L317.7 378.72 L318.7 378.72 L319.7 378.71 L320.7 378.73 L321.7 378.72 L322.7 378.72 L323.7 378.71 L324.7 378.71 L325.7 378.70 L326.7 378.71 L327.7 378.72 L328.7 378.72 L329.7 378.72 L330.7 378.71 L331.7 378.71 L332.7 378.69 L333.7 378.68 L334.7 378.71 L335.7 378.71 L336.7 378.69 L337.7 378.70 L338.7 378.70 L339.7 378.69 L340.7 378.69 L341.7 378.69 L342.7 378.67 L343.7 378.68 L344.7 378.68 L345.7 378.68 L346.7 378.68 L347.7 378.70 L348.7 378.70 L349.7 378.69 L350.7 378.67 L351.7 378.68 L352.7 378.68 L353.7 378.65 L354.7 378.63 L355.7 378.64 L356.7 378.67 L357.7 378.66 L358.7 378.64 L359.7 378.62 L360.7 378.61 L361.7 378.62 L362.7 378.61 L363.7 378.59 L364.7 378.59 L365.7 378.60 L366.7 378.58 L367.7 378.56 L368.7 378.58 L369.7 378.57 L370.7 378.56 L371.7 378.55 L372.7 378.52 L373.7 378.51 L374.7 378.51 L375.7 378.50 L376.7 378.50 L377.7 378.50 L378.7 378.49 L379.7 378.49 L380.7 378.44 L381.7 378.43 L382.7 378.45 L383.7 378.46 L384.7 378.42 L385.7 378.42 L386.7 378.43 L387.7 378.42 L388.7 378.41 L389.7 378.41 L390.7 378.38 L391.7 378.36 L392.7 378.36 L393.7 378.36 L394.7 378.35 L395.7 378.31 L396.7 378.32 L397.7 378.34 L398.7 378.33 L399.7 378.30 L400.7 378.27 L401.7 378.25 L402.7 378.24 L403.7 378.24 L404.7 378.23 L405.7 378.22 L406.7 378.21 L407.7 378.18 L408.7 378.19 L409.7 378.18 L410.7 378.16 L411.7 378.13 L412.7 378.12 L413.7 378.13 L414.7 378.11 L415.7 378.05 L416.7 378.06 L417.7 378.06 L418.7 378.05 L419.7 378.06 L420.7 378.04 L421.7 378.01 L422.7 377.96 L423.7 377.94 L424.7 377.97 L425.7 378.02 L426.7 377.95 L427.7 377.95 L428.7 377.97 L429.7 377.93 L430.7 377.92 L431.7 377.87 L432.7 377.83 L433.7 377.83 L434.7 377.80 L435.7 377.81 L436.7 377.77 L437.7 377.75 L438.7 377.78 L439.7 377.76 L440.7 377.69 L441.7 377.68 L442.7 377.66 L443.7 377.65 L444.7 377.71 L445.7 377.67 L446.7 377.64 L447.7 377.62 L448.7 377.57 L449.7 377.57 L450.7 377.55 L451.7 377.56 L452.7 377.56 L453.7 377.47 L454.7 377.46 L455.7 377.41 L456.7 377.34 L457.7 377.38 L458.7 377.40 L459.7 377.35 L460.7 377.33 L461.7 377.28 L462.7 377.24 L463.7 377.26 L464.7 377.23 L465.7 377.16 L466.7 377.13 L467.7 377.13 L468.7 377.13 L469.7 377.13 L470.7 377.09 L471.7 377.06 L472.7 377.00 L473.7 377.00 L474.7 376.93 L475.7 376.93 L476.7 376.96 L477.7 376.88 L478.7 376.83 L479.7 376.83 L480.7 376.81 L481.7 376.75 L482.7 376.72 L483.7 376.73 L484.7 376.67 L485.7 376.72 L486.7 376.67 L487.7 376.60 L488.7 376.62 L489.7 376.55 L490.7 376.46 L491.7 376.55 L492.7 376.52 L493.7 376.44 L494.7 376.39 L495.7 376.36 L496.7 376.34 L497.7 376.33 L498.7 376.34 L499.7 376.26 L500.7 376.22 L501.7 376.18 L502.7 376.16 L503.7 376.20 L504.7 376.20 L505.7 376.22 L506.7 376.23 L507.7 376.15 L508.7 376.04 L509.7 376.12 L510.7 376.16 L511.7 376.01 L512.7 375.92 L513.7 375.95 L514.7 375.93 L515.7 375.83 L516.7 375.86 L517.7 375.86 L518.7 375.81 L519.7 375.77 L520.7 375.76 L521.7 375.73 L522.7 375.74 L523.7 375.77 L524.7 375.69 L525.7 375.60 L526.7 375.59 L527.7 375.51 L528.7 375.46 L529.7 375.41 L530.7 375.45 L531.7 375.50 L532.7 375.44 L533.7 375.41 L534.7 375.43 L535.7 375.41 L536.7 375.37 L537.7 375.35 L538.7 375.39 L539.7 375.26 L540.7 375.27 L541.7 375.24 L542.7 375.15 L543.7 375.15 L544.7 375.11 L545.7 375.11 L546.7 375.13 L547.7 375.02 L548.7 374.94 L549.7 375.02 L550.7 375.06 L551.7 375.00 L552.7 374.97 L553.7 374.90 L554.7 374.87 L555.7 374.86 L556.7 374.81 L557.7 374.75 L558.7 374.64 L559.7 374.71 L560.7 374.75 L561.7 374.71 L562.7 374.65 L563.7 374.57 L564.7 374.44 L565.7 374.35 L566.7 374.39 L567.7 374.50 L568.7 374.41 L569.7 374.49 L570.7 374.50 L571.7 374.38 L572.7 374.24 L573.7 374.31 L574.7 374.38 L575.7 374.30 L576.7 374.17 L577.7 374.16 L578.7 374.16 L579.7 374.16 L580.7 374.09 L581.7 374.05 L582.7 373.93 L583.7 374.02 L584.7 373.95 L585.7 373.97 L586.7 373.90 L587.7 373.88 L588.7 373.79 L589.7 373.75 L590.7 373.77 L591.4 373.89"/>
<path stroke="gold" d="M56.7 378.8 L591.4 378.8"/>
<path stroke="firebrick" d="M56.7 378.8 L591.4 378.8"/>
<path stroke="firebrick" stroke-width="1.8" d="M56.7 378.8 H591.4"/>
</g>
<g fill="#383838">
<path d="M618.2 48.8 H633" stroke="dodgerblue" stroke-width="1.5"/>
<text font-size="7.44" x="636.8" y="52.5">No treatment</text>
<path d="M618.2 65.9 H633" stroke="tomato" stroke-width="1.5"/>
<text font-size="6.9" x="636.8" y="69.6">20%</text>
<path d="M618.2 83.0 H633" stroke="goldenrod" stroke-width="1.5"/>
<text font-size="6.9" x="636.8" y="86.7">19%</text>
<path d="M618.2 100.1 H633" stroke="sienna" stroke-width="1.5"/>
<text font-size="6.9" x="636.8" y="103.8">18%</text>
<path d="M618.2 117.2 H633" stroke="mediumturquoise" stroke-width="1.5"/>
<text font-size="6.9" x="636.8" y="120.9">17%</text>
<path d="M618.2 134.3 H633" stroke="yellowgreen" stroke-width="1.5"/>
<text font-size="6.9" x="636.8" y="138.0">16%</text>
<path d="M618.2 151.5 H633" stroke="mediumvioletred" stroke-width="1.5"/>
<text font-size="6.9" x="636.8" y="155.2">15%</text>
<path d="M618.2 168.6 H633" stroke="lightsalmon" stroke-width="1.5"/>
<text font-size="6.9" x="636.8" y="172.3">14%</text>
<path d="M618.2 185.7 H633" stroke="darkgray" stroke-width="1.5"/>
<text font-size="6.9" x="636.8" y="189.4">13%</text>
<path d="M618.2 202.8 H633" stroke="steelblue" stroke-width="1.5"/>
<text font-size="6.9" x="636.8" y="206.5">12%</text>
<path d="M618.2 219.9 H633" stroke="gold" stroke-width="1.5"/>
<text font-size="6.9" x="636.8" y="223.6">11%</text>
<path d="M618.2 237.0 H633" stroke="firebrick" stroke-width="1.5"/>
<text font-size="6.9" x="636.8" y="240.7">10%</text>
</g>
<g stroke="#4a4a4a" stroke-width="1.2" fill="none">
<path d="M48.3 491.9 V818.9"/>
<path d="M56.8 827.3 H594.7"/>
</g>
<g stroke="#4a4a4a" stroke-width="1" fill="none">
<path d="M43.4 818.40 H48.3"/>
<path d="M43.4 785.80 H48.3"/>
<path d="M43.4 753.20 H48.3"/>
<path d="M43.4 720.60 H48.3"/>
<path d="M43.4 688.00 H48.3"/>
<path d="M43.4 655.40 H48.3"/>
<path d="M43.4 622.80 H48.3"/>
<path d="M43.4 590.20 H48.3"/>
<path d="M43.4 557.60 H48.3"/>
<path d="M43.4 525.00 H48.3"/>
<path d="M43.4 492.40 H48.3"/>
<path d="M57.3 827.3 V831.1"/>
<path d="M134.0 827.3 V831.1"/>
<path d="M210.7 827.3 V831.1"/>
<path d="M287.4 827.3 V831.1"/>
<path d="M364.1 827.3 V831.1"/>
<path d="M440.8 827.3 V831.1"/>
<path d="M517.5 827.3 V831.1"/>
<path d="M594.2 827.3 V831.1"/>
</g>
<g font-size="7.15" fill="#404040">
<text x="41.1" y="820.9" text-anchor="end">0</text>
<text x="41.1" y="788.3" text-anchor="end">0.1</text>
<text x="41.1" y="755.7" text-anchor="end">0.2</text>
<text x="41.1" y="723.1" text-anchor="end">0.3</text>
<text x="41.1" y="690.5" text-anchor="end">0.4</text>
<text x="41.1" y="657.9" text-anchor="end">0.5</text>
<text x="41.1" y="625.3" text-anchor="end">0.6</text>
<text x="41.1" y="592.7" text-anchor="end">0.7</text>
<text x="41.1" y="560.1" text-anchor="end">0.8</text>
<text x="41.1" y="527.5" text-anchor="end">0.9</text>
<text x="41.1" y="494.9" text-anchor="end">1</text>
<text x="57.3" y="838.7" text-anchor="middle">0</text>
<text x="134.0" y="838.7" text-anchor="middle">5000</text>
<text x="210.7" y="838.7" text-anchor="middle">10000</text>
<text x="287.4" y="838.7" text-anchor="middle">15000</text>
<text x="364.1" y="838.7" text-anchor="middle">20000</text>
<text x="440.8" y="838.7" text-anchor="middle">25000</text>
<text x="517.5" y="838.7" text-anchor="middle">30000</text>
<text x="594.2" y="838.7" text-anchor="middle">35000</text>
</g>
<text font-size="7.3" font-weight="bold" fill="#1a1a1a" text-anchor="middle" transform="translate(14.9 664.6) rotate(-90)">Probability of being cost-effective (%)</text>
<text font-size="7.38" font-weight="bold" fill="#1a1a1a" text-anchor="middle" x="325.7" y="853">Cost-effectiveness threshold (2019 US$/QALY)</text>
<path d="M214.4 483.8 V827.3" stroke="#444" stroke-width="1.0" stroke-dasharray="10.6 4.05" stroke-dashoffset="2.45" fill="none"/>
<g fill="none" stroke-width="1.5" stroke-linejoin="round" stroke-linecap="butt" transform="translate(0 0.2)">
<path stroke="dodgerblue" d="M57.0 491.90 L58.0 491.90 L59.0 491.90 L60.0 491.90 L61.0 491.90 L62.0 491.90 L63.0 491.90 L64.0 491.90 L65.0 491.90 L66.0 491.90 L67.0 491.90 L68.0 491.90 L69.0 491.90 L70.0 491.90 L71.0 491.90 L72.0 491.90 L73.0 491.90 L74.0 491.92 L75.0 492.09 L76.0 492.43 L77.0 492.93 L78.0 493.84 L79.0 495.40 L80.0 497.56 L81.0 501.16 L82.0 506.47 L83.0 512.78 L84.0 519.20 L85.0 525.66 L86.0 532.83 L87.0 540.75 L88.0 549.51 L89.0 559.61 L90.0 570.49 L91.0 582.08 L92.0 594.25 L93.0 607.38 L94.0 620.66 L95.0 633.91 L96.0 646.74 L97.0 659.24 L98.0 671.44 L99.0 683.44 L100.0 695.02 L101.0 706.34 L102.0 717.19 L103.0 728.03 L104.0 737.67 L105.0 746.69 L106.0 755.34 L107.0 763.44 L108.0 771.04 L109.0 778.59 L110.0 785.23 L111.0 790.91 L112.0 796.01 L113.0 800.57 L114.0 804.46 L115.0 807.56 L116.0 809.81 L117.0 812.02 L118.0 813.72 L119.0 814.77 L120.0 815.56 L121.0 816.23 L122.0 816.74 L123.0 817.11 L124.0 817.33 L125.0 817.46 L126.0 817.60 L127.0 817.74 L128.0 817.83 L129.0 817.87 L130.0 817.89 L131.0 817.90 L132.0 817.90 L133.0 817.90 L134.0 817.90 L135.0 817.91 L136.0 817.91 L137.0 817.89 L138.0 817.90 L139.0 817.91 L140.0 817.91 L141.0 817.91 L142.0 817.92 L143.0 817.92 L144.0 817.92 L145.0 817.92 L146.0 817.90 L147.0 817.90 L148.0 817.91 L149.0 817.91 L150.0 817.92 L151.0 817.91 L152.0 817.91 L153.0 817.91 L154.0 817.90 L155.0 817.90 L156.0 817.90 L157.0 817.91 L158.0 817.92 L159.0 817.91 L160.0 817.92 L161.0 817.92 L162.0 817.91 L163.0 817.91 L164.0 817.92 L165.0 817.91 L166.0 817.91 L167.0 817.91 L168.0 817.92 L169.0 817.92 L170.0 817.92 L171.0 817.92 L172.0 817.92 L173.0 817.93 L174.0 817.93 L175.0 817.93 L176.0 817.93 L177.0 817.92 L178.0 817.92 L179.0 817.94 L180.0 817.92 L181.0 817.92 L182.0 817.92 L183.0 817.93 L184.0 817.93 L185.0 817.92 L186.0 817.93 L187.0 817.95 L188.0 817.94 L189.0 817.94 L190.0 817.94 L191.0 817.94 L192.0 817.94 L193.0 817.94 L194.0 817.94 L195.0 817.94 L196.0 817.94 L197.0 817.94 L198.0 817.94 L199.0 817.94 L200.0 817.93 L201.0 817.93 L202.0 817.93 L203.0 817.94 L204.0 817.95 L205.0 817.95 L206.0 817.95 L207.0 817.95 L208.0 817.94 L209.0 817.94 L210.0 817.94 L211.0 817.93 L212.0 817.93 L213.0 817.95 L214.0 817.95 L215.0 817.95 L216.0 817.95 L217.0 817.94 L218.0 817.94 L219.0 817.94 L220.0 817.93 L221.0 817.94 L222.0 817.95 L223.0 817.96 L224.0 817.96 L225.0 817.96 L226.0 817.95 L227.0 817.95 L228.0 817.94 L229.0 817.95 L230.0 817.96 L231.0 817.96 L232.0 817.96 L233.0 817.95 L234.0 817.95 L235.0 817.95 L236.0 817.95 L237.0 817.95 L238.0 817.96 L239.0 817.95 L240.0 817.94 L241.0 817.95 L242.0 817.96 L243.0 817.96 L244.0 817.96 L245.0 817.96 L246.0 817.96 L247.0 817.96 L248.0 817.96 L249.0 817.95 L250.0 817.96 L251.0 817.96 L252.0 817.96 L253.0 817.96 L254.0 817.96 L255.0 817.96 L256.0 817.97 L257.0 817.97 L258.0 817.97 L259.0 817.96 L260.0 817.97 L261.0 817.96 L262.0 817.96 L263.0 817.96 L264.0 817.97 L265.0 817.96 L266.0 817.97 L267.0 817.96 L268.0 817.97 L269.0 817.96 L270.0 817.97 L271.0 817.97 L272.0 817.97 L273.0 817.97 L274.0 817.98 L275.0 817.97 L276.0 817.96 L277.0 817.96 L278.0 817.97 L279.0 817.97 L280.0 817.97 L281.0 817.97 L282.0 817.97 L283.0 817.97 L284.0 817.98 L285.0 817.98 L286.0 817.99 L287.0 817.97 L288.0 817.96 L289.0 817.97 L290.0 817.97 L291.0 817.97 L292.0 817.97 L293.0 817.97 L294.0 817.97 L295.0 817.97 L296.0 817.97 L297.0 817.97 L298.0 817.97 L299.0 817.97 L300.0 817.98 L301.0 817.98 L302.0 817.98 L303.0 817.97 L304.0 817.97 L305.0 817.98 L306.0 817.98 L307.0 817.97 L308.0 817.98 L309.0 817.98 L310.0 817.97 L311.0 817.97 L312.0 817.97 L313.0 817.98 L314.0 817.98 L315.0 817.98 L316.0 817.98 L317.0 817.98 L318.0 817.98 L319.0 817.98 L320.0 817.97 L321.0 817.97 L322.0 817.97 L323.0 817.98 L324.0 817.98 L325.0 817.98 L326.0 817.98 L327.0 817.98 L328.0 817.98 L329.0 817.98 L330.0 817.98 L331.0 817.98 L332.0 817.98 L333.0 817.98 L334.0 817.99 L335.0 817.99 L336.0 817.99 L337.0 817.98 L338.0 817.98 L339.0 817.98 L340.0 817.98 L341.0 817.98 L342.0 817.98 L343.0 817.98 L344.0 817.98 L345.0 817.98 L346.0 817.98 L347.0 817.99 L348.0 817.98 L349.0 817.98 L350.0 817.98 L351.0 817.98 L352.0 817.99 L353.0 817.99 L354.0 817.98 L355.0 817.99 L356.0 817.98 L357.0 817.99 L358.0 817.99 L359.0 817.99 L360.0 817.99 L361.0 817.98 L362.0 817.99 L363.0 817.99 L364.0 817.99 L365.0 817.99 L366.0 817.98 L367.0 817.99 L368.0 817.99 L369.0 817.99 L370.0 817.99 L371.0 817.99 L372.0 817.99 L373.0 817.99 L374.0 817.99 L375.0 817.99 L376.0 817.99 L377.0 817.99 L378.0 817.99 L379.0 817.99 L380.0 817.99 L381.0 817.99 L382.0 817.99 L383.0 817.99 L384.0 817.99 L385.0 817.99 L386.0 817.99 L387.0 818.00 L388.0 817.99 L389.0 817.99 L390.0 818.00 L391.0 817.99 L392.0 817.99 L393.0 817.99 L394.0 817.99 L395.0 817.99 L396.0 817.99 L397.0 817.99 L398.0 817.99 L399.0 817.99 L400.0 817.99 L401.0 817.99 L402.0 817.99 L403.0 817.99 L404.0 817.99 L405.0 817.99 L406.0 817.99 L407.0 817.99 L408.0 817.99 L409.0 817.99 L410.0 817.99 L411.0 817.99 L412.0 818.00 L413.0 817.99 L414.0 817.99 L415.0 818.00 L416.0 818.00 L417.0 817.99 L418.0 817.99 L419.0 818.00 L420.0 818.00 L421.0 817.99 L422.0 818.00 L423.0 818.00 L424.0 817.99 L425.0 818.00 L426.0 818.00 L427.0 818.00 L428.0 818.00 L429.0 817.99 L430.0 817.99 L431.0 817.99 L432.0 817.99 L433.0 817.99 L434.0 817.99 L435.0 817.99 L436.0 818.00 L437.0 817.99 L438.0 817.99 L439.0 817.99 L440.0 818.00 L441.0 818.00 L442.0 818.00 L443.0 817.99 L444.0 817.99 L445.0 818.00 L446.0 818.00 L447.0 818.00 L448.0 818.00 L449.0 817.99 L450.0 818.00 L451.0 818.00 L452.0 818.00 L453.0 818.00 L454.0 818.00 L455.0 818.00 L456.0 818.00 L457.0 818.00 L458.0 818.00 L459.0 818.00 L460.0 818.00 L461.0 818.00 L462.0 818.00 L463.0 818.00 L464.0 818.00 L465.0 818.00 L466.0 818.00 L467.0 818.00 L468.0 818.00 L469.0 818.00 L470.0 818.00 L471.0 818.00 L472.0 818.00 L473.0 818.00 L474.0 818.00 L475.0 818.00 L476.0 818.00 L477.0 818.00 L478.0 818.00 L479.0 818.00 L480.0 818.00 L481.0 817.99 L482.0 818.00 L483.0 818.00 L484.0 818.00 L485.0 818.00 L486.0 818.00 L487.0 818.00 L488.0 818.00 L489.0 818.00 L490.0 818.00 L491.0 818.00 L492.0 818.00 L493.0 818.00 L494.0 818.00 L495.0 818.00 L496.0 818.00 L497.0 818.00 L498.0 818.00 L499.0 818.00 L500.0 818.00 L501.0 818.00 L502.0 818.00 L503.0 818.00 L504.0 818.00 L505.0 818.00 L506.0 818.00 L507.0 818.00 L508.0 818.00 L509.0 818.00 L510.0 818.00 L511.0 818.00 L512.0 818.00 L513.0 818.00 L514.0 818.00 L515.0 818.00 L516.0 818.00 L517.0 818.00 L518.0 818.00 L519.0 818.00 L520.0 818.00 L521.0 818.00 L522.0 818.00 L523.0 818.00 L524.0 818.00 L525.0 818.00 L526.0 818.00 L527.0 818.00 L528.0 818.00 L529.0 818.00 L530.0 818.00 L531.0 818.00 L532.0 818.00 L533.0 818.00 L534.0 818.00 L535.0 818.00 L536.0 818.00 L537.0 818.00 L538.0 818.00 L539.0 818.00 L540.0 818.00 L541.0 818.00 L542.0 818.00 L543.0 818.00 L544.0 818.00 L545.0 818.00 L546.0 818.00 L547.0 818.00 L548.0 818.00 L549.0 818.00 L550.0 818.00 L551.0 818.00 L552.0 818.00 L553.0 818.00 L554.0 818.00 L555.0 818.00 L556.0 818.00 L557.0 818.00 L558.0 818.00 L559.0 818.00 L560.0 818.00 L561.0 818.00 L562.0 818.00 L563.0 818.00 L564.0 818.00 L565.0 818.00 L566.0 818.00 L567.0 818.00 L568.0 818.00 L569.0 818.00 L570.0 818.00 L571.0 818.00 L572.0 818.00 L573.0 818.00 L574.0 818.00 L575.0 818.00 L576.0 818.00 L577.0 818.00 L578.0 818.00 L579.0 818.00 L580.0 818.00 L581.0 818.00 L582.0 818.00 L583.0 818.00 L584.0 818.00 L585.0 818.00 L586.0 818.00 L587.0 818.00 L588.0 818.00 L589.0 818.00 L590.0 818.00 L591.0 818.00 L592.0 818.00 L593.0 818.00 L594.0 818.00 L594.2 818.00"/>
<path stroke="tomato" d="M57.0 818.0 L594.2 818.0"/>
<path stroke="goldenrod" d="M57.0 818.00 L58.0 818.00 L59.0 818.00 L60.0 818.00 L61.0 817.99 L62.0 817.99 L63.0 817.98 L64.0 817.98 L65.0 817.97 L66.0 817.96 L67.0 817.95 L68.0 817.94 L69.0 817.92 L70.0 817.90 L71.0 817.89 L72.0 817.87 L73.0 817.85 L74.0 817.83 L75.0 817.79 L76.0 817.68 L77.0 817.42 L78.0 817.07 L79.0 816.66 L80.0 816.24 L81.0 815.68 L82.0 814.94 L83.0 814.19 L84.0 813.47 L85.0 813.02 L86.0 812.76 L87.0 812.50 L88.0 812.22 L89.0 812.02 L90.0 812.00 L91.0 812.13 L92.0 812.23 L93.0 812.33 L94.0 812.49 L95.0 812.68 L96.0 812.92 L97.0 813.24 L98.0 813.59 L99.0 814.00 L100.0 814.46 L101.0 814.92 L102.0 815.32 L103.0 815.68 L104.0 816.02 L105.0 816.36 L106.0 816.65 L107.0 816.93 L108.0 817.16 L109.0 817.35 L110.0 817.49 L111.0 817.59 L112.0 817.68 L113.0 817.76 L114.0 817.81 L115.0 817.86 L116.0 817.92 L117.0 817.95 L118.0 817.97 L119.0 817.99 L120.0 818.00 L121.0 818.00 L122.0 818.00 L123.0 818.00 L124.0 818.00 L125.0 818.00 L126.0 818.00 L127.0 818.00 L128.0 818.00 L129.0 818.00 L130.0 818.00 L131.0 818.00 L132.0 818.00 L133.0 818.00 L134.0 818.00 L135.0 818.00 L136.0 818.00 L137.0 818.00 L138.0 818.00 L139.0 818.00 L140.0 818.00 L141.0 818.00 L142.0 818.00 L143.0 818.00 L144.0 818.00 L145.0 818.00 L146.0 818.00 L147.0 818.00 L148.0 818.00 L149.0 818.00 L150.0 818.00 L151.0 818.00 L152.0 818.00 L153.0 818.00 L154.0 818.00 L155.0 818.00 L156.0 818.00 L157.0 818.00 L158.0 818.00 L159.0 818.00 L160.0 818.00 L161.0 818.00 L162.0 818.00 L163.0 818.00 L164.0 818.00 L165.0 818.00 L166.0 818.00 L167.0 818.00 L168.0 818.00 L169.0 818.00 L170.0 818.00 L171.0 818.00 L172.0 818.00 L173.0 818.00 L174.0 818.00 L175.0 818.00 L176.0 818.00 L177.0 818.00 L178.0 818.00 L179.0 818.00 L180.0 818.00 L181.0 818.00 L182.0 818.00 L183.0 818.00 L184.0 818.00 L185.0 818.00 L186.0 818.00 L187.0 818.00 L188.0 818.00 L189.0 818.00 L190.0 818.00 L191.0 818.00 L192.0 818.00 L193.0 818.00 L194.0 818.00 L195.0 818.00 L196.0 818.00 L197.0 818.00 L198.0 818.00 L199.0 818.00 L200.0 818.00 L201.0 818.00 L202.0 818.00 L203.0 818.00 L204.0 818.00 L205.0 818.00 L206.0 818.00 L207.0 818.00 L208.0 818.00 L209.0 818.00 L210.0 818.00 L211.0 818.00 L212.0 818.00 L213.0 818.00 L214.0 818.00 L215.0 818.00 L216.0 818.00 L217.0 818.00 L218.0 818.00 L219.0 818.00 L220.0 818.00 L221.0 818.00 L222.0 818.00 L223.0 818.00 L224.0 818.00 L225.0 818.00 L226.0 818.00 L227.0 818.00 L228.0 818.00 L229.0 818.00 L230.0 818.00 L231.0 818.00 L232.0 818.00 L233.0 818.00 L234.0 818.00 L235.0 818.00 L236.0 818.00 L237.0 818.00 L238.0 818.00 L239.0 818.00 L240.0 818.00 L241.0 818.00 L242.0 818.00 L243.0 818.00 L244.0 818.00 L245.0 818.00 L246.0 818.00 L247.0 818.00 L248.0 818.00 L249.0 818.00 L250.0 818.00 L251.0 818.00 L252.0 818.00 L253.0 818.00 L254.0 818.00 L255.0 818.00 L256.0 818.00 L257.0 818.00 L258.0 818.00 L259.0 818.00 L260.0 818.00 L261.0 818.00 L262.0 818.00 L263.0 818.00 L264.0 818.00 L265.0 818.00 L266.0 818.00 L267.0 818.00 L268.0 818.00 L269.0 818.00 L270.0 818.00 L271.0 818.00 L272.0 818.00 L273.0 818.00 L274.0 818.00 L275.0 818.00 L276.0 818.00 L277.0 818.00 L278.0 818.00 L279.0 818.00 L280.0 818.00 L281.0 818.00 L282.0 818.00 L283.0 818.00 L284.0 818.00 L285.0 818.00 L286.0 818.00 L287.0 818.00 L288.0 818.00 L289.0 818.00 L290.0 818.00 L291.0 818.00 L292.0 818.00 L293.0 818.00 L294.0 818.00 L295.0 818.00 L296.0 818.00 L297.0 818.00 L298.0 818.00 L299.0 818.00 L300.0 818.00 L301.0 818.00 L302.0 818.00 L303.0 818.00 L304.0 818.00 L305.0 818.00 L306.0 818.00 L307.0 818.00 L308.0 818.00 L309.0 818.00 L310.0 818.00 L311.0 818.00 L312.0 818.00 L313.0 818.00 L314.0 818.00 L315.0 818.00 L316.0 818.00 L317.0 818.00 L318.0 818.00 L319.0 818.00 L320.0 818.00 L321.0 818.00 L322.0 818.00 L323.0 818.00 L324.0 818.00 L325.0 818.00 L326.0 818.00 L327.0 818.00 L328.0 818.00 L329.0 818.00 L330.0 818.00 L331.0 818.00 L332.0 818.00 L333.0 818.00 L334.0 818.00 L335.0 818.00 L336.0 818.00 L337.0 818.00 L338.0 818.00 L339.0 818.00 L340.0 818.00 L341.0 818.00 L342.0 818.00 L343.0 818.00 L344.0 818.00 L345.0 818.00 L346.0 818.00 L347.0 818.00 L348.0 818.00 L349.0 818.00 L350.0 818.00 L351.0 818.00 L352.0 818.00 L353.0 818.00 L354.0 818.00 L355.0 818.00 L356.0 818.00 L357.0 818.00 L358.0 818.00 L359.0 818.00 L360.0 818.00 L361.0 818.00 L362.0 818.00 L363.0 818.00 L364.0 818.00 L365.0 818.00 L366.0 818.00 L367.0 818.00 L368.0 818.00 L369.0 818.00 L370.0 818.00 L371.0 818.00 L372.0 818.00 L373.0 818.00 L374.0 818.00 L375.0 818.00 L376.0 818.00 L377.0 818.00 L378.0 818.00 L379.0 818.00 L380.0 818.00 L381.0 818.00 L382.0 818.00 L383.0 818.00 L384.0 818.00 L385.0 818.00 L386.0 818.00 L387.0 818.00 L388.0 818.00 L389.0 818.00 L390.0 818.00 L391.0 818.00 L392.0 818.00 L393.0 818.00 L394.0 818.00 L395.0 818.00 L396.0 818.00 L397.0 818.00 L398.0 818.00 L399.0 818.00 L400.0 818.00 L401.0 818.00 L402.0 818.00 L403.0 818.00 L404.0 818.00 L405.0 818.00 L406.0 818.00 L407.0 818.00 L408.0 818.00 L409.0 818.00 L410.0 818.00 L411.0 818.00 L412.0 818.00 L413.0 818.00 L414.0 818.00 L415.0 818.00 L416.0 818.00 L417.0 818.00 L418.0 818.00 L419.0 818.00 L420.0 818.00 L421.0 818.00 L422.0 818.00 L423.0 818.00 L424.0 818.00 L425.0 818.00 L426.0 818.00 L427.0 818.00 L428.0 818.00 L429.0 818.00 L430.0 818.00 L431.0 818.00 L432.0 818.00 L433.0 818.00 L434.0 818.00 L435.0 818.00 L436.0 818.00 L437.0 818.00 L438.0 818.00 L439.0 818.00 L440.0 818.00 L441.0 818.00 L442.0 818.00 L443.0 818.00 L444.0 818.00 L445.0 818.00 L446.0 818.00 L447.0 818.00 L448.0 817.99 L449.0 818.00 L450.0 818.00 L451.0 817.99 L452.0 817.99 L453.0 817.99 L454.0 817.99 L455.0 817.99 L456.0 817.98 L457.0 817.98 L458.0 817.98 L459.0 817.98 L460.0 817.98 L461.0 817.98 L462.0 817.97 L463.0 817.97 L464.0 817.97 L465.0 817.97 L466.0 817.96 L467.0 817.95 L468.0 817.95 L469.0 817.95 L470.0 817.95 L471.0 817.94 L472.0 817.92 L473.0 817.92 L474.0 817.92 L475.0 817.91 L476.0 817.91 L477.0 817.90 L478.0 817.91 L479.0 817.89 L480.0 817.88 L481.0 817.90 L482.0 817.90 L483.0 817.88 L484.0 817.86 L485.0 817.86 L486.0 817.87 L487.0 817.87 L488.0 817.85 L489.0 817.82 L490.0 817.82 L491.0 817.81 L492.0 817.80 L493.0 817.80 L494.0 817.79 L495.0 817.76 L496.0 817.79 L497.0 817.77 L498.0 817.74 L499.0 817.73 L500.0 817.71 L501.0 817.69 L502.0 817.72 L503.0 817.73 L504.0 817.70 L505.0 817.69 L506.0 817.66 L507.0 817.65 L508.0 817.66 L509.0 817.64 L510.0 817.63 L511.0 817.65 L512.0 817.62 L513.0 817.60 L514.0 817.60 L515.0 817.58 L516.0 817.56 L517.0 817.53 L518.0 817.52 L519.0 817.49 L520.0 817.51 L521.0 817.52 L522.0 817.52 L523.0 817.48 L524.0 817.43 L525.0 817.40 L526.0 817.41 L527.0 817.40 L528.0 817.38 L529.0 817.38 L530.0 817.38 L531.0 817.34 L532.0 817.32 L533.0 817.31 L534.0 817.31 L535.0 817.28 L536.0 817.30 L537.0 817.29 L538.0 817.29 L539.0 817.29 L540.0 817.29 L541.0 817.27 L542.0 817.25 L543.0 817.25 L544.0 817.20 L545.0 817.19 L546.0 817.19 L547.0 817.15 L548.0 817.14 L549.0 817.12 L550.0 817.09 L551.0 817.10 L552.0 817.05 L553.0 817.06 L554.0 817.07 L555.0 817.06 L556.0 817.05 L557.0 817.05 L558.0 817.06 L559.0 817.06 L560.0 817.02 L561.0 816.97 L562.0 816.97 L563.0 816.90 L564.0 816.84 L565.0 816.85 L566.0 816.87 L567.0 816.86 L568.0 816.87 L569.0 816.86 L570.0 816.85 L571.0 816.81 L572.0 816.78 L573.0 816.78 L574.0 816.77 L575.0 816.77 L576.0 816.73 L577.0 816.69 L578.0 816.64 L579.0 816.65 L580.0 816.65 L581.0 816.68 L582.0 816.68 L583.0 816.65 L584.0 816.62 L585.0 816.67 L586.0 816.66 L587.0 816.61 L588.0 816.56 L589.0 816.55 L590.0 816.56 L591.0 816.60 L592.0 816.60 L593.0 816.56 L594.0 816.52 L594.2 816.54"/>
<path stroke="sienna" d="M57.0 818.00 L58.0 818.00 L59.0 818.00 L60.0 817.99 L61.0 817.99 L62.0 817.99 L63.0 817.98 L64.0 817.97 L65.0 817.96 L66.0 817.95 L67.0 817.93 L68.0 817.92 L69.0 817.90 L70.0 817.88 L71.0 817.85 L72.0 817.83 L73.0 817.79 L74.0 817.68 L75.0 817.46 L76.0 817.14 L77.0 816.67 L78.0 815.87 L79.0 814.75 L80.0 813.39 L81.0 811.60 L82.0 809.29 L83.0 806.77 L84.0 804.30 L85.0 801.67 L86.0 797.85 L87.0 793.06 L88.0 789.68 L89.0 787.46 L90.0 785.74 L91.0 784.07 L92.0 782.91 L93.0 781.63 L94.0 780.64 L95.0 779.71 L96.0 779.12 L97.0 778.82 L98.0 778.54 L99.0 778.45 L100.0 778.43 L101.0 778.88 L102.0 779.77 L103.0 780.75 L104.0 782.34 L105.0 784.49 L106.0 786.43 L107.0 788.18 L108.0 790.19 L109.0 792.24 L110.0 794.39 L111.0 796.51 L112.0 798.48 L113.0 800.71 L114.0 802.55 L115.0 804.23 L116.0 805.82 L117.0 807.42 L118.0 809.03 L119.0 810.62 L120.0 812.09 L121.0 813.13 L122.0 813.81 L123.0 814.44 L124.0 815.00 L125.0 815.50 L126.0 816.01 L127.0 816.33 L128.0 816.63 L129.0 816.88 L130.0 817.07 L131.0 817.22 L132.0 817.41 L133.0 817.60 L134.0 817.80 L135.0 817.95 L136.0 818.00 L137.0 818.00 L138.0 818.00 L139.0 818.00 L140.0 818.00 L141.0 818.00 L142.0 818.00 L143.0 818.00 L144.0 818.00 L145.0 818.00 L146.0 818.00 L147.0 818.00 L148.0 818.00 L149.0 818.00 L150.0 818.00 L151.0 818.00 L152.0 818.00 L153.0 818.00 L154.0 818.00 L155.0 818.00 L156.0 818.00 L157.0 818.00 L158.0 818.00 L159.0 818.00 L160.0 818.00 L161.0 818.00 L162.0 818.00 L163.0 818.00 L164.0 818.00 L165.0 818.00 L166.0 818.00 L167.0 818.00 L168.0 818.00 L169.0 818.00 L170.0 818.00 L171.0 818.00 L172.0 818.00 L173.0 818.00 L174.0 818.00 L175.0 818.00 L176.0 818.00 L177.0 818.00 L178.0 818.00 L179.0 818.00 L180.0 818.00 L181.0 818.00 L182.0 818.00 L183.0 818.00 L184.0 818.00 L185.0 818.00 L186.0 818.00 L187.0 818.00 L188.0 818.00 L189.0 818.00 L190.0 818.00 L191.0 818.00 L192.0 818.00 L193.0 818.00 L194.0 818.00 L195.0 818.00 L196.0 818.00 L197.0 818.00 L198.0 818.00 L199.0 818.00 L200.0 818.00 L201.0 818.00 L202.0 818.00 L203.0 818.00 L204.0 818.00 L205.0 818.00 L206.0 818.00 L207.0 818.00 L208.0 818.00 L209.0 818.00 L210.0 818.00 L211.0 818.00 L212.0 818.00 L213.0 818.00 L214.0 818.00 L215.0 818.00 L216.0 818.00 L217.0 818.00 L218.0 818.00 L219.0 818.00 L220.0 818.00 L221.0 818.00 L222.0 818.00 L223.0 818.00 L224.0 818.00 L225.0 818.00 L226.0 818.00 L227.0 818.00 L228.0 818.00 L229.0 818.00 L230.0 818.00 L231.0 818.00 L232.0 818.00 L233.0 818.00 L234.0 818.00 L235.0 818.00 L236.0 818.00 L237.0 818.00 L238.0 818.00 L239.0 818.00 L240.0 818.00 L241.0 818.00 L242.0 818.00 L243.0 818.00 L244.0 818.00 L245.0 818.00 L246.0 818.00 L247.0 818.00 L248.0 818.00 L249.0 818.00 L250.0 818.00 L251.0 818.00 L252.0 818.00 L253.0 818.00 L254.0 818.00 L255.0 818.00 L256.0 818.00 L257.0 818.00 L258.0 818.00 L259.0 818.00 L260.0 818.00 L261.0 818.00 L262.0 818.00 L263.0 818.00 L264.0 818.00 L265.0 818.00 L266.0 818.00 L267.0 818.00 L268.0 818.00 L269.0 818.00 L270.0 818.00 L271.0 818.00 L272.0 818.00 L273.0 818.00 L274.0 818.00 L275.0 818.00 L276.0 818.00 L277.0 818.00 L278.0 818.00 L279.0 818.00 L280.0 818.00 L281.0 818.00 L282.0 818.00 L283.0 818.00 L284.0 818.00 L285.0 818.00 L286.0 818.00 L287.0 818.00 L288.0 818.00 L289.0 818.00 L290.0 818.00 L291.0 818.00 L292.0 818.00 L293.0 818.00 L294.0 818.00 L295.0 818.00 L296.0 818.00 L297.0 818.00 L298.0 818.00 L299.0 818.00 L300.0 818.00 L301.0 818.00 L302.0 818.00 L303.0 818.00 L304.0 818.00 L305.0 818.00 L306.0 818.00 L307.0 818.00 L308.0 818.00 L309.0 818.00 L310.0 818.00 L311.0 818.00 L312.0 818.00 L313.0 818.00 L314.0 818.00 L315.0 818.00 L316.0 818.00 L317.0 818.00 L318.0 818.00 L319.0 818.00 L320.0 818.00 L321.0 818.00 L322.0 818.00 L323.0 818.00 L324.0 818.00 L325.0 818.00 L326.0 818.00 L327.0 818.00 L328.0 818.00 L329.0 818.00 L330.0 818.00 L331.0 818.00 L332.0 818.00 L333.0 818.00 L334.0 818.00 L335.0 818.00 L336.0 818.00 L337.0 818.00 L338.0 818.00 L339.0 818.00 L340.0 818.00 L341.0 818.00 L342.0 818.00 L343.0 818.00 L344.0 818.00 L345.0 818.00 L346.0 818.00 L347.0 818.00 L348.0 818.00 L349.0 818.00 L350.0 818.00 L351.0 818.00 L352.0 818.00 L353.0 818.00 L354.0 818.00 L355.0 818.00 L356.0 818.00 L357.0 818.00 L358.0 818.00 L359.0 818.00 L360.0 818.00 L361.0 818.00 L362.0 818.00 L363.0 818.00 L364.0 818.00 L365.0 818.00 L366.0 818.00 L367.0 818.00 L368.0 818.00 L369.0 818.00 L370.0 818.00 L371.0 818.00 L372.0 818.00 L373.0 818.00 L374.0 818.00 L375.0 818.00 L376.0 818.00 L377.0 818.00 L378.0 818.00 L379.0 818.00 L380.0 818.00 L381.0 818.00 L382.0 818.00 L383.0 818.00 L384.0 818.00 L385.0 818.00 L386.0 818.00 L387.0 818.00 L388.0 818.00 L389.0 818.00 L390.0 818.00 L391.0 818.00 L392.0 818.00 L393.0 818.00 L394.0 818.00 L395.0 818.00 L396.0 818.00 L397.0 818.00 L398.0 818.00 L399.0 818.00 L400.0 818.00 L401.0 818.00 L402.0 818.00 L403.0 818.00 L404.0 818.00 L405.0 818.00 L406.0 818.00 L407.0 818.00 L408.0 818.00 L409.0 818.00 L410.0 818.00 L411.0 818.00 L412.0 818.00 L413.0 818.00 L414.0 818.00 L415.0 818.00 L416.0 818.00 L417.0 818.00 L418.0 818.00 L419.0 818.00 L420.0 818.00 L421.0 818.00 L422.0 818.00 L423.0 818.00 L424.0 818.00 L425.0 818.00 L426.0 818.00 L427.0 818.00 L428.0 818.00 L429.0 818.00 L430.0 818.00 L431.0 818.00 L432.0 818.00 L433.0 818.00 L434.0 818.00 L435.0 818.00 L436.0 818.00 L437.0 818.00 L438.0 818.00 L439.0 818.00 L440.0 818.00 L441.0 818.00 L442.0 818.00 L443.0 818.00 L444.0 818.00 L445.0 818.00 L446.0 818.00 L447.0 818.00 L448.0 818.00 L449.0 818.00 L450.0 818.00 L451.0 818.00 L452.0 818.00 L453.0 818.00 L454.0 818.00 L455.0 818.00 L456.0 818.00 L457.0 818.00 L458.0 818.00 L459.0 818.00 L460.0 818.00 L461.0 818.00 L462.0 818.00 L463.0 818.00 L464.0 818.00 L465.0 818.00 L466.0 818.00 L467.0 818.00 L468.0 818.00 L469.0 818.00 L470.0 818.00 L471.0 818.00 L472.0 818.00 L473.0 818.00 L474.0 818.00 L475.0 818.00 L476.0 818.00 L477.0 818.00 L478.0 818.00 L479.0 818.00 L480.0 818.00 L481.0 818.00 L482.0 818.00 L483.0 818.00 L484.0 818.00 L485.0 818.00 L486.0 818.00 L487.0 818.00 L488.0 818.00 L489.0 818.00 L490.0 818.00 L491.0 818.00 L492.0 818.00 L493.0 818.00 L494.0 818.00 L495.0 818.00 L496.0 818.00 L497.0 818.00 L498.0 818.00 L499.0 818.00 L500.0 818.00 L501.0 818.00 L502.0 818.00 L503.0 818.00 L504.0 818.00 L505.0 818.00 L506.0 818.00 L507.0 818.00 L508.0 818.00 L509.0 818.00 L510.0 818.00 L511.0 818.00 L512.0 818.00 L513.0 818.00 L514.0 818.00 L515.0 818.00 L516.0 818.00 L517.0 818.00 L518.0 818.00 L519.0 818.00 L520.0 818.00 L521.0 818.00 L522.0 818.00 L523.0 818.00 L524.0 818.00 L525.0 818.00 L526.0 818.00 L527.0 818.00 L528.0 818.00 L529.0 818.00 L530.0 818.00 L531.0 818.00 L532.0 818.00 L533.0 818.00 L534.0 818.00 L535.0 818.00 L536.0 818.00 L537.0 818.00 L538.0 818.00 L539.0 818.00 L540.0 818.00 L541.0 818.00 L542.0 818.00 L543.0 818.00 L544.0 818.00 L545.0 818.00 L546.0 818.00 L547.0 818.00 L548.0 818.00 L549.0 818.00 L550.0 818.00 L551.0 818.00 L552.0 818.00 L553.0 818.00 L554.0 818.00 L555.0 818.00 L556.0 818.00 L557.0 818.00 L558.0 818.00 L559.0 818.00 L560.0 818.00 L561.0 818.00 L562.0 818.00 L563.0 818.00 L564.0 818.00 L565.0 818.00 L566.0 818.00 L567.0 818.00 L568.0 818.00 L569.0 818.00 L570.0 818.00 L571.0 818.00 L572.0 818.00 L573.0 818.00 L574.0 818.00 L575.0 818.00 L576.0 818.00 L577.0 818.00 L578.0 818.00 L579.0 818.00 L580.0 818.00 L581.0 818.00 L582.0 818.00 L583.0 818.00 L584.0 818.00 L585.0 818.00 L586.0 818.00 L587.0 818.00 L588.0 818.00 L589.0 818.00 L590.0 818.00 L591.0 818.00 L592.0 818.00 L593.0 818.00 L594.0 818.00 L594.2 818.00"/>
<path stroke="mediumturquoise" d="M57.0 818.00 L58.0 818.00 L59.0 818.00 L60.0 818.00 L61.0 817.99 L62.0 817.99 L63.0 817.98 L64.0 817.98 L65.0 817.97 L66.0 817.96 L67.0 817.95 L68.0 817.94 L69.0 817.93 L70.0 817.92 L71.0 817.91 L72.0 817.89 L73.0 817.86 L74.0 817.82 L75.0 817.76 L76.0 817.68 L77.0 817.59 L78.0 817.41 L79.0 816.87 L80.0 815.81 L81.0 814.30 L82.0 812.49 L83.0 810.52 L84.0 808.00 L85.0 804.48 L86.0 800.02 L87.0 794.90 L88.0 788.77 L89.0 781.06 L90.0 772.28 L91.0 762.42 L92.0 750.71 L93.0 737.56 L94.0 724.90 L95.0 712.95 L96.0 701.00 L97.0 689.87 L98.0 680.01 L99.0 670.86 L100.0 661.66 L101.0 651.73 L102.0 641.24 L103.0 631.02 L104.0 620.36 L105.0 609.46 L106.0 599.58 L107.0 592.33 L108.0 586.37 L109.0 580.76 L110.0 576.29 L111.0 572.74 L112.0 569.61 L113.0 567.52 L114.0 566.24 L115.0 565.53 L116.0 566.00 L117.0 568.14 L118.0 570.22 L119.0 572.15 L120.0 575.15 L121.0 578.44 L122.0 582.39 L123.0 587.05 L124.0 592.26 L125.0 598.24 L126.0 604.06 L127.0 609.87 L128.0 616.00 L129.0 621.70 L130.0 627.46 L131.0 633.22 L132.0 638.85 L133.0 644.06 L134.0 649.96 L135.0 655.92 L136.0 661.15 L137.0 667.64 L138.0 675.13 L139.0 682.05 L140.0 688.97 L141.0 695.91 L142.0 701.95 L143.0 707.67 L144.0 713.04 L145.0 718.37 L146.0 723.58 L147.0 728.58 L148.0 733.58 L149.0 738.76 L150.0 744.36 L151.0 749.17 L152.0 753.09 L153.0 756.95 L154.0 761.06 L155.0 765.72 L156.0 769.67 L157.0 773.30 L158.0 776.69 L159.0 780.44 L160.0 783.82 L161.0 787.17 L162.0 790.17 L163.0 793.16 L164.0 795.75 L165.0 798.00 L166.0 800.52 L167.0 802.56 L168.0 804.33 L169.0 805.84 L170.0 807.51 L171.0 808.94 L172.0 810.00 L173.0 811.05 L174.0 812.10 L175.0 813.01 L176.0 813.61 L177.0 814.11 L178.0 814.63 L179.0 815.16 L180.0 815.55 L181.0 815.95 L182.0 816.32 L183.0 816.59 L184.0 816.79 L185.0 817.02 L186.0 817.20 L187.0 817.35 L188.0 817.48 L189.0 817.58 L190.0 817.68 L191.0 817.80 L192.0 817.88 L193.0 817.95 L194.0 817.98 L195.0 818.00 L196.0 818.00 L197.0 818.00 L198.0 818.00 L199.0 818.00 L200.0 818.00 L201.0 818.00 L202.0 818.00 L203.0 818.00 L204.0 818.00 L205.0 818.00 L206.0 818.00 L207.0 818.00 L208.0 818.00 L209.0 818.00 L210.0 818.00 L211.0 818.00 L212.0 818.00 L213.0 818.00 L214.0 818.00 L215.0 818.00 L216.0 818.00 L217.0 818.00 L218.0 818.00 L219.0 818.00 L220.0 818.00 L221.0 818.00 L222.0 818.00 L223.0 818.00 L224.0 818.00 L225.0 818.00 L226.0 818.00 L227.0 818.00 L228.0 818.00 L229.0 818.00 L230.0 818.00 L231.0 818.00 L232.0 818.00 L233.0 818.00 L234.0 818.00 L235.0 818.00 L236.0 818.00 L237.0 818.00 L238.0 818.00 L239.0 818.00 L240.0 818.00 L241.0 818.00 L242.0 818.00 L243.0 818.00 L244.0 818.00 L245.0 818.00 L246.0 818.00 L247.0 818.00 L248.0 818.00 L249.0 818.00 L250.0 818.00 L251.0 818.00 L252.0 818.00 L253.0 818.00 L254.0 818.00 L255.0 818.00 L256.0 818.00 L257.0 818.00 L258.0 818.00 L259.0 818.00 L260.0 818.00 L261.0 818.00 L262.0 818.00 L263.0 818.00 L264.0 818.00 L265.0 818.00 L266.0 818.00 L267.0 818.00 L268.0 818.00 L269.0 818.00 L270.0 818.00 L271.0 818.00 L272.0 818.00 L273.0 818.00 L274.0 818.00 L275.0 818.00 L276.0 818.00 L277.0 818.00 L278.0 818.00 L279.0 818.00 L280.0 818.00 L281.0 818.00 L282.0 818.00 L283.0 818.00 L284.0 818.00 L285.0 818.00 L286.0 818.00 L287.0 818.00 L288.0 818.00 L289.0 818.00 L290.0 818.00 L291.0 818.00 L292.0 818.00 L293.0 818.00 L294.0 818.00 L295.0 818.00 L296.0 818.00 L297.0 818.00 L298.0 818.00 L299.0 818.00 L300.0 818.00 L301.0 818.00 L302.0 818.00 L303.0 818.00 L304.0 818.00 L305.0 818.00 L306.0 818.00 L307.0 818.00 L308.0 818.00 L309.0 818.00 L310.0 818.00 L311.0 818.00 L312.0 818.00 L313.0 818.00 L314.0 818.00 L315.0 818.00 L316.0 818.00 L317.0 818.00 L318.0 818.00 L319.0 818.00 L320.0 818.00 L321.0 818.00 L322.0 818.00 L323.0 818.00 L324.0 818.00 L325.0 818.00 L326.0 818.00 L327.0 818.00 L328.0 818.00 L329.0 818.00 L330.0 818.00 L331.0 818.00 L332.0 818.00 L333.0 818.00 L334.0 818.00 L335.0 818.00 L336.0 818.00 L337.0 818.00 L338.0 818.00 L339.0 818.00 L340.0 818.00 L341.0 818.00 L342.0 818.00 L343.0 818.00 L344.0 818.00 L345.0 818.00 L346.0 818.00 L347.0 818.00 L348.0 818.00 L349.0 818.00 L350.0 818.00 L351.0 818.00 L352.0 818.00 L353.0 818.00 L354.0 818.00 L355.0 818.00 L356.0 818.00 L357.0 818.00 L358.0 818.00 L359.0 818.00 L360.0 818.00 L361.0 818.00 L362.0 818.00 L363.0 818.00 L364.0 818.00 L365.0 818.00 L366.0 818.00 L367.0 818.00 L368.0 818.00 L369.0 818.00 L370.0 818.00 L371.0 818.00 L372.0 818.00 L373.0 818.00 L374.0 818.00 L375.0 818.00 L376.0 818.00 L377.0 818.00 L378.0 818.00 L379.0 818.00 L380.0 818.00 L381.0 818.00 L382.0 818.00 L383.0 818.00 L384.0 818.00 L385.0 818.00 L386.0 818.00 L387.0 818.00 L388.0 818.00 L389.0 818.00 L390.0 818.00 L391.0 818.00 L392.0 818.00 L393.0 818.00 L394.0 818.00 L395.0 818.00 L396.0 818.00 L397.0 818.00 L398.0 818.00 L399.0 818.00 L400.0 818.00 L401.0 818.00 L402.0 818.00 L403.0 818.00 L404.0 818.00 L405.0 818.00 L406.0 818.00 L407.0 818.00 L408.0 818.00 L409.0 818.00 L410.0 818.00 L411.0 818.00 L412.0 818.00 L413.0 818.00 L414.0 818.00 L415.0 818.00 L416.0 818.00 L417.0 818.00 L418.0 818.00 L419.0 818.00 L420.0 818.00 L421.0 818.00 L422.0 818.00 L423.0 818.00 L424.0 818.00 L425.0 818.00 L426.0 818.00 L427.0 818.00 L428.0 818.00 L429.0 818.00 L430.0 818.00 L431.0 818.00 L432.0 818.00 L433.0 818.00 L434.0 818.00 L435.0 818.00 L436.0 818.00 L437.0 818.00 L438.0 818.00 L439.0 818.00 L440.0 818.00 L441.0 818.00 L442.0 818.00 L443.0 818.00 L444.0 818.00 L445.0 818.00 L446.0 818.00 L447.0 818.00 L448.0 818.00 L449.0 818.00 L450.0 818.00 L451.0 818.00 L452.0 818.00 L453.0 818.00 L454.0 818.00 L455.0 818.00 L456.0 818.00 L457.0 818.00 L458.0 818.00 L459.0 818.00 L460.0 818.00 L461.0 818.00 L462.0 818.00 L463.0 818.00 L464.0 818.00 L465.0 818.00 L466.0 818.00 L467.0 818.00 L468.0 818.00 L469.0 818.00 L470.0 818.00 L471.0 818.00 L472.0 818.00 L473.0 818.00 L474.0 818.00 L475.0 818.00 L476.0 818.00 L477.0 818.00 L478.0 818.00 L479.0 818.00 L480.0 818.00 L481.0 818.00 L482.0 818.00 L483.0 818.00 L484.0 818.00 L485.0 818.00 L486.0 818.00 L487.0 818.00 L488.0 818.00 L489.0 818.00 L490.0 818.00 L491.0 818.00 L492.0 818.00 L493.0 818.00 L494.0 818.00 L495.0 818.00 L496.0 818.00 L497.0 818.00 L498.0 818.00 L499.0 818.00 L500.0 818.00 L501.0 818.00 L502.0 818.00 L503.0 818.00 L504.0 818.00 L505.0 818.00 L506.0 818.00 L507.0 818.00 L508.0 818.00 L509.0 818.00 L510.0 818.00 L511.0 818.00 L512.0 818.00 L513.0 818.00 L514.0 818.00 L515.0 818.00 L516.0 818.00 L517.0 818.00 L518.0 818.00 L519.0 818.00 L520.0 818.00 L521.0 818.00 L522.0 818.00 L523.0 818.00 L524.0 818.00 L525.0 818.00 L526.0 818.00 L527.0 818.00 L528.0 818.00 L529.0 818.00 L530.0 818.00 L531.0 818.00 L532.0 818.00 L533.0 818.00 L534.0 818.00 L535.0 818.00 L536.0 818.00 L537.0 818.00 L538.0 818.00 L539.0 818.00 L540.0 818.00 L541.0 818.00 L542.0 818.00 L543.0 818.00 L544.0 818.00 L545.0 818.00 L546.0 818.00 L547.0 818.00 L548.0 818.00 L549.0 818.00 L550.0 818.00 L551.0 818.00 L552.0 818.00 L553.0 818.00 L554.0 818.00 L555.0 818.00 L556.0 818.00 L557.0 818.00 L558.0 818.00 L559.0 818.00 L560.0 818.00 L561.0 818.00 L562.0 818.00 L563.0 818.00 L564.0 818.00 L565.0 818.00 L566.0 818.00 L567.0 818.00 L568.0 818.00 L569.0 818.00 L570.0 818.00 L571.0 818.00 L572.0 818.00 L573.0 818.00 L574.0 818.00 L575.0 818.00 L576.0 818.00 L577.0 818.00 L578.0 818.00 L579.0 818.00 L580.0 818.00 L581.0 818.00 L582.0 818.00 L583.0 818.00 L584.0 818.00 L585.0 818.00 L586.0 818.00 L587.0 818.00 L588.0 818.00 L589.0 818.00 L590.0 818.00 L591.0 818.00 L592.0 818.00 L593.0 818.00 L594.0 818.00 L594.2 818.00"/>
<path stroke="yellowgreen" d="M57.0 818.00 L58.0 818.00 L59.0 818.00 L60.0 818.00 L61.0 818.00 L62.0 818.00 L63.0 818.00 L64.0 818.00 L65.0 817.99 L66.0 817.99 L67.0 817.99 L68.0 817.99 L69.0 817.98 L70.0 817.98 L71.0 817.98 L72.0 817.97 L73.0 817.97 L74.0 817.97 L75.0 817.97 L76.0 817.96 L77.0 817.96 L78.0 817.95 L79.0 817.94 L80.0 817.93 L81.0 817.93 L82.0 817.92 L83.0 817.92 L84.0 817.91 L85.0 817.90 L86.0 817.89 L87.0 817.85 L88.0 817.79 L89.0 817.72 L90.0 817.62 L91.0 817.50 L92.0 817.41 L93.0 817.26 L94.0 817.09 L95.0 816.86 L96.0 816.46 L97.0 815.92 L98.0 815.18 L99.0 814.26 L100.0 813.28 L101.0 812.24 L102.0 811.08 L103.0 809.77 L104.0 808.16 L105.0 806.44 L106.0 804.59 L107.0 802.40 L108.0 800.01 L109.0 797.49 L110.0 795.02 L111.0 792.01 L112.0 788.78 L113.0 785.40 L114.0 781.38 L115.0 777.55 L116.0 774.11 L117.0 770.38 L118.0 766.72 L119.0 762.33 L120.0 758.22 L121.0 754.48 L122.0 750.71 L123.0 747.10 L124.0 743.81 L125.0 740.32 L126.0 736.88 L127.0 733.03 L128.0 729.56 L129.0 726.09 L130.0 722.44 L131.0 719.02 L132.0 716.35 L133.0 713.20 L134.0 710.70 L135.0 708.20 L136.0 705.87 L137.0 703.79 L138.0 701.71 L139.0 699.27 L140.0 697.18 L141.0 695.57 L142.0 694.36 L143.0 693.32 L144.0 692.10 L145.0 691.28 L146.0 690.63 L147.0 690.53 L148.0 690.54 L149.0 690.42 L150.0 690.63 L151.0 691.38 L152.0 691.53 L153.0 691.82 L154.0 692.70 L155.0 693.39 L156.0 694.17 L157.0 695.12 L158.0 695.93 L159.0 697.25 L160.0 699.10 L161.0 701.01 L162.0 703.36 L163.0 705.68 L164.0 708.25 L165.0 711.07 L166.0 713.66 L167.0 716.65 L168.0 719.35 L169.0 722.17 L170.0 725.42 L171.0 727.96 L172.0 731.24 L173.0 734.84 L174.0 737.79 L175.0 741.11 L176.0 744.34 L177.0 747.39 L178.0 750.23 L179.0 752.80 L180.0 755.56 L181.0 758.68 L182.0 761.68 L183.0 764.06 L184.0 766.59 L185.0 769.36 L186.0 772.46 L187.0 775.47 L188.0 778.03 L189.0 780.66 L190.0 783.03 L191.0 785.36 L192.0 787.79 L193.0 789.79 L194.0 791.54 L195.0 793.33 L196.0 795.18 L197.0 796.68 L198.0 798.39 L199.0 799.61 L200.0 800.91 L201.0 802.41 L202.0 803.60 L203.0 804.72 L204.0 805.93 L205.0 806.84 L206.0 807.54 L207.0 808.30 L208.0 809.12 L209.0 809.79 L210.0 810.60 L211.0 811.18 L212.0 811.75 L213.0 812.34 L214.0 812.94 L215.0 813.36 L216.0 813.72 L217.0 814.17 L218.0 814.53 L219.0 814.89 L220.0 815.28 L221.0 815.56 L222.0 815.72 L223.0 815.98 L224.0 816.30 L225.0 816.53 L226.0 816.69 L227.0 816.85 L228.0 817.06 L229.0 817.20 L230.0 817.30 L231.0 817.37 L232.0 817.38 L233.0 817.49 L234.0 817.58 L235.0 817.63 L236.0 817.69 L237.0 817.76 L238.0 817.81 L239.0 817.84 L240.0 817.87 L241.0 817.92 L242.0 817.94 L243.0 817.97 L244.0 817.97 L245.0 817.98 L246.0 817.98 L247.0 817.99 L248.0 817.99 L249.0 818.00 L250.0 818.00 L251.0 818.00 L252.0 818.00 L253.0 818.00 L254.0 818.00 L255.0 818.00 L256.0 818.00 L257.0 818.00 L258.0 818.00 L259.0 818.00 L260.0 818.00 L261.0 818.00 L262.0 818.00 L263.0 818.00 L264.0 818.00 L265.0 818.00 L266.0 818.00 L267.0 818.00 L268.0 818.00 L269.0 818.00 L270.0 818.00 L271.0 818.00 L272.0 818.00 L273.0 818.00 L274.0 818.00 L275.0 818.00 L276.0 818.00 L277.0 818.00 L278.0 818.00 L279.0 818.00 L280.0 818.00 L281.0 818.00 L282.0 818.00 L283.0 818.00 L284.0 818.00 L285.0 818.00 L286.0 818.00 L287.0 818.00 L288.0 818.00 L289.0 818.00 L290.0 818.00 L291.0 818.00 L292.0 818.00 L293.0 818.00 L294.0 818.00 L295.0 818.00 L296.0 818.00 L297.0 818.00 L298.0 818.00 L299.0 818.00 L300.0 818.00 L301.0 818.00 L302.0 818.00 L303.0 818.00 L304.0 818.00 L305.0 818.00 L306.0 818.00 L307.0 818.00 L308.0 818.00 L309.0 818.00 L310.0 818.00 L311.0 818.00 L312.0 818.00 L313.0 818.00 L314.0 818.00 L315.0 818.00 L316.0 818.00 L317.0 818.00 L318.0 818.00 L319.0 818.00 L320.0 818.00 L321.0 818.00 L322.0 818.00 L323.0 818.00 L324.0 818.00 L325.0 818.00 L326.0 818.00 L327.0 818.00 L328.0 818.00 L329.0 818.00 L330.0 818.00 L331.0 818.00 L332.0 818.00 L333.0 818.00 L334.0 818.00 L335.0 818.00 L336.0 818.00 L337.0 818.00 L338.0 818.00 L339.0 818.00 L340.0 818.00 L341.0 818.00 L342.0 818.00 L343.0 818.00 L344.0 818.00 L345.0 818.00 L346.0 818.00 L347.0 818.00 L348.0 818.00 L349.0 818.00 L350.0 818.00 L351.0 818.00 L352.0 818.00 L353.0 818.00 L354.0 818.00 L355.0 818.00 L356.0 818.00 L357.0 818.00 L358.0 818.00 L359.0 818.00 L360.0 818.00 L361.0 818.00 L362.0 818.00 L363.0 818.00 L364.0 818.00 L365.0 818.00 L366.0 818.00 L367.0 818.00 L368.0 818.00 L369.0 818.00 L370.0 818.00 L371.0 818.00 L372.0 818.00 L373.0 818.00 L374.0 818.00 L375.0 818.00 L376.0 818.00 L377.0 818.00 L378.0 818.00 L379.0 818.00 L380.0 818.00 L381.0 818.00 L382.0 818.00 L383.0 818.00 L384.0 818.00 L385.0 818.00 L386.0 818.00 L387.0 818.00 L388.0 818.00 L389.0 818.00 L390.0 818.00 L391.0 818.00 L392.0 818.00 L393.0 818.00 L394.0 818.00 L395.0 818.00 L396.0 818.00 L397.0 818.00 L398.0 818.00 L399.0 818.00 L400.0 818.00 L401.0 818.00 L402.0 818.00 L403.0 818.00 L404.0 818.00 L405.0 818.00 L406.0 818.00 L407.0 818.00 L408.0 818.00 L409.0 818.00 L410.0 818.00 L411.0 818.00 L412.0 818.00 L413.0 818.00 L414.0 818.00 L415.0 818.00 L416.0 818.00 L417.0 818.00 L418.0 818.00 L419.0 818.00 L420.0 818.00 L421.0 818.00 L422.0 818.00 L423.0 818.00 L424.0 818.00 L425.0 818.00 L426.0 818.00 L427.0 818.00 L428.0 818.00 L429.0 818.00 L430.0 818.00 L431.0 818.00 L432.0 818.00 L433.0 818.00 L434.0 818.00 L435.0 818.00 L436.0 818.00 L437.0 818.00 L438.0 818.00 L439.0 818.00 L440.0 818.00 L441.0 818.00 L442.0 818.00 L443.0 818.00 L444.0 818.00 L445.0 818.00 L446.0 818.00 L447.0 818.00 L448.0 818.00 L449.0 818.00 L450.0 818.00 L451.0 818.00 L452.0 818.00 L453.0 818.00 L454.0 818.00 L455.0 818.00 L456.0 818.00 L457.0 818.00 L458.0 818.00 L459.0 818.00 L460.0 818.00 L461.0 818.00 L462.0 818.00 L463.0 818.00 L464.0 818.00 L465.0 818.00 L466.0 818.00 L467.0 818.00 L468.0 818.00 L469.0 818.00 L470.0 818.00 L471.0 818.00 L472.0 818.00 L473.0 818.00 L474.0 818.00 L475.0 818.00 L476.0 818.00 L477.0 818.00 L478.0 818.00 L479.0 818.00 L480.0 818.00 L481.0 818.00 L482.0 818.00 L483.0 818.00 L484.0 818.00 L485.0 818.00 L486.0 818.00 L487.0 818.00 L488.0 818.00 L489.0 818.00 L490.0 818.00 L491.0 818.00 L492.0 818.00 L493.0 818.00 L494.0 818.00 L495.0 818.00 L496.0 818.00 L497.0 818.00 L498.0 818.00 L499.0 818.00 L500.0 818.00 L501.0 818.00 L502.0 818.00 L503.0 818.00 L504.0 818.00 L505.0 818.00 L506.0 818.00 L507.0 818.00 L508.0 818.00 L509.0 818.00 L510.0 818.00 L511.0 818.00 L512.0 818.00 L513.0 818.00 L514.0 818.00 L515.0 818.00 L516.0 818.00 L517.0 818.00 L518.0 818.00 L519.0 818.00 L520.0 818.00 L521.0 818.00 L522.0 818.00 L523.0 818.00 L524.0 818.00 L525.0 818.00 L526.0 818.00 L527.0 818.00 L528.0 818.00 L529.0 818.00 L530.0 818.00 L531.0 818.00 L532.0 818.00 L533.0 818.00 L534.0 818.00 L535.0 818.00 L536.0 818.00 L537.0 818.00 L538.0 818.00 L539.0 818.00 L540.0 818.00 L541.0 818.00 L542.0 818.00 L543.0 818.00 L544.0 818.00 L545.0 818.00 L546.0 818.00 L547.0 818.00 L548.0 818.00 L549.0 818.00 L550.0 818.00 L551.0 818.00 L552.0 818.00 L553.0 818.00 L554.0 818.00 L555.0 818.00 L556.0 818.00 L557.0 818.00 L558.0 818.00 L559.0 818.00 L560.0 818.00 L561.0 818.00 L562.0 818.00 L563.0 818.00 L564.0 818.00 L565.0 818.00 L566.0 818.00 L567.0 818.00 L568.0 818.00 L569.0 818.00 L570.0 818.00 L571.0 818.00 L572.0 818.00 L573.0 818.00 L574.0 818.00 L575.0 818.00 L576.0 818.00 L577.0 818.00 L578.0 818.00 L579.0 818.00 L580.0 818.00 L581.0 818.00 L582.0 818.00 L583.0 818.00 L584.0 818.00 L585.0 818.00 L586.0 818.00 L587.0 818.00 L588.0 818.00 L589.0 818.00 L590.0 818.00 L591.0 818.00 L592.0 818.00 L593.0 818.00 L594.0 818.00 L594.2 818.00"/>
<path stroke="mediumvioletred" d="M57.0 818.00 L58.0 818.00 L59.0 818.00 L60.0 818.00 L61.0 818.00 L62.0 818.00 L63.0 818.00 L64.0 818.00 L65.0 818.00 L66.0 818.00 L67.0 818.00 L68.0 817.99 L69.0 817.99 L70.0 817.99 L71.0 817.99 L72.0 817.99 L73.0 817.99 L74.0 817.98 L75.0 817.98 L76.0 817.98 L77.0 817.98 L78.0 817.97 L79.0 817.97 L80.0 817.97 L81.0 817.97 L82.0 817.96 L83.0 817.96 L84.0 817.95 L85.0 817.95 L86.0 817.95 L87.0 817.95 L88.0 817.94 L89.0 817.93 L90.0 817.93 L91.0 817.93 L92.0 817.92 L93.0 817.91 L94.0 817.91 L95.0 817.90 L96.0 817.88 L97.0 817.83 L98.0 817.75 L99.0 817.65 L100.0 817.54 L101.0 817.39 L102.0 817.24 L103.0 817.11 L104.0 816.96 L105.0 816.72 L106.0 816.42 L107.0 816.04 L108.0 815.63 L109.0 815.14 L110.0 814.56 L111.0 813.97 L112.0 813.29 L113.0 812.50 L114.0 811.58 L115.0 810.34 L116.0 808.76 L117.0 807.06 L118.0 805.19 L119.0 803.35 L120.0 801.17 L121.0 798.99 L122.0 796.71 L123.0 794.49 L124.0 791.92 L125.0 789.12 L126.0 786.45 L127.0 783.70 L128.0 780.67 L129.0 777.10 L130.0 774.05 L131.0 770.74 L132.0 767.09 L133.0 763.34 L134.0 759.08 L135.0 755.11 L136.0 751.16 L137.0 747.18 L138.0 743.13 L139.0 738.87 L140.0 734.81 L141.0 730.32 L142.0 725.74 L143.0 721.45 L144.0 717.55 L145.0 713.10 L146.0 708.26 L147.0 703.80 L148.0 699.90 L149.0 695.32 L150.0 691.57 L151.0 687.45 L152.0 683.20 L153.0 678.73 L154.0 674.98 L155.0 670.86 L156.0 665.98 L157.0 661.44 L158.0 657.28 L159.0 653.00 L160.0 648.81 L161.0 644.28 L162.0 639.38 L163.0 635.90 L164.0 631.68 L165.0 627.91 L166.0 624.36 L167.0 620.16 L168.0 616.04 L169.0 612.71 L170.0 609.09 L171.0 605.19 L172.0 601.37 L173.0 598.15 L174.0 595.20 L175.0 592.88 L176.0 590.36 L177.0 587.56 L178.0 584.87 L179.0 582.29 L180.0 580.00 L181.0 577.74 L182.0 575.68 L183.0 574.18 L184.0 572.13 L185.0 569.93 L186.0 568.18 L187.0 566.89 L188.0 565.98 L189.0 564.98 L190.0 563.82 L191.0 563.07 L192.0 562.43 L193.0 561.85 L194.0 561.25 L195.0 560.49 L196.0 559.83 L197.0 559.55 L198.0 559.45 L199.0 558.85 L200.0 558.32 L201.0 558.27 L202.0 557.78 L203.0 557.68 L204.0 558.25 L205.0 558.63 L206.0 558.85 L207.0 559.10 L208.0 559.60 L209.0 560.21 L210.0 561.11 L211.0 562.24 L212.0 563.33 L213.0 564.51 L214.0 565.55 L215.0 566.08 L216.0 567.16 L217.0 568.08 L218.0 568.70 L219.0 569.78 L220.0 570.54 L221.0 571.61 L222.0 572.64 L223.0 573.59 L224.0 574.79 L225.0 576.28 L226.0 577.93 L227.0 579.21 L228.0 580.85 L229.0 582.48 L230.0 583.41 L231.0 585.48 L232.0 587.34 L233.0 589.08 L234.0 590.89 L235.0 592.47 L236.0 593.87 L237.0 595.58 L238.0 597.50 L239.0 599.00 L240.0 600.38 L241.0 602.04 L242.0 603.51 L243.0 605.51 L244.0 607.25 L245.0 608.50 L246.0 609.75 L247.0 611.71 L248.0 612.96 L249.0 614.81 L250.0 616.52 L251.0 617.98 L252.0 619.92 L253.0 621.74 L254.0 623.14 L255.0 624.26 L256.0 626.14 L257.0 628.18 L258.0 629.86 L259.0 631.26 L260.0 632.36 L261.0 633.97 L262.0 635.54 L263.0 637.18 L264.0 639.10 L265.0 640.74 L266.0 642.25 L267.0 644.07 L268.0 645.56 L269.0 647.40 L270.0 649.13 L271.0 650.42 L272.0 651.68 L273.0 653.38 L274.0 655.51 L275.0 657.01 L276.0 657.93 L277.0 659.57 L278.0 661.60 L279.0 662.76 L280.0 664.50 L281.0 665.97 L282.0 667.71 L283.0 669.36 L284.0 670.62 L285.0 672.18 L286.0 674.02 L287.0 675.24 L288.0 676.56 L289.0 677.79 L290.0 679.36 L291.0 680.75 L292.0 682.18 L293.0 683.98 L294.0 685.39 L295.0 686.50 L296.0 687.77 L297.0 689.16 L298.0 690.73 L299.0 692.15 L300.0 693.74 L301.0 694.67 L302.0 695.48 L303.0 697.04 L304.0 698.36 L305.0 699.55 L306.0 700.58 L307.0 702.13 L308.0 703.60 L309.0 704.86 L310.0 705.89 L311.0 707.02 L312.0 708.59 L313.0 710.07 L314.0 711.35 L315.0 712.91 L316.0 713.64 L317.0 714.74 L318.0 716.03 L319.0 716.64 L320.0 717.51 L321.0 719.03 L322.0 719.74 L323.0 721.29 L324.0 722.57 L325.0 723.48 L326.0 724.86 L327.0 726.03 L328.0 726.72 L329.0 728.11 L330.0 729.18 L331.0 730.14 L332.0 730.96 L333.0 731.65 L334.0 732.62 L335.0 733.60 L336.0 735.12 L337.0 736.42 L338.0 737.01 L339.0 737.89 L340.0 738.69 L341.0 739.85 L342.0 741.31 L343.0 742.62 L344.0 743.04 L345.0 743.82 L346.0 744.68 L347.0 745.62 L348.0 746.72 L349.0 747.56 L350.0 748.09 L351.0 748.84 L352.0 750.19 L353.0 751.32 L354.0 752.28 L355.0 752.99 L356.0 754.04 L357.0 754.74 L358.0 755.55 L359.0 756.36 L360.0 757.27 L361.0 758.12 L362.0 758.63 L363.0 759.84 L364.0 760.43 L365.0 761.30 L366.0 762.05 L367.0 762.80 L368.0 763.53 L369.0 764.09 L370.0 764.86 L371.0 765.65 L372.0 766.20 L373.0 766.88 L374.0 767.87 L375.0 768.40 L376.0 768.99 L377.0 769.68 L378.0 770.47 L379.0 771.16 L380.0 771.79 L381.0 772.34 L382.0 772.89 L383.0 773.76 L384.0 774.28 L385.0 775.05 L386.0 775.45 L387.0 775.96 L388.0 776.35 L389.0 777.15 L390.0 778.00 L391.0 778.40 L392.0 779.17 L393.0 779.65 L394.0 780.05 L395.0 780.76 L396.0 781.54 L397.0 782.17 L398.0 782.54 L399.0 783.04 L400.0 783.46 L401.0 784.31 L402.0 784.85 L403.0 785.27 L404.0 785.62 L405.0 786.25 L406.0 786.84 L407.0 787.36 L408.0 787.88 L409.0 788.33 L410.0 788.67 L411.0 789.27 L412.0 789.70 L413.0 790.47 L414.0 790.97 L415.0 791.50 L416.0 792.03 L417.0 792.39 L418.0 792.96 L419.0 793.17 L420.0 793.46 L421.0 793.97 L422.0 794.57 L423.0 795.14 L424.0 795.73 L425.0 796.05 L426.0 796.53 L427.0 796.89 L428.0 797.11 L429.0 797.53 L430.0 797.92 L431.0 798.44 L432.0 798.76 L433.0 799.29 L434.0 799.69 L435.0 800.11 L436.0 800.64 L437.0 800.74 L438.0 800.91 L439.0 801.21 L440.0 801.55 L441.0 802.00 L442.0 802.29 L443.0 802.74 L444.0 803.26 L445.0 803.59 L446.0 803.70 L447.0 803.99 L448.0 804.28 L449.0 804.54 L450.0 804.70 L451.0 805.02 L452.0 805.22 L453.0 805.45 L454.0 805.68 L455.0 806.10 L456.0 806.49 L457.0 806.68 L458.0 806.90 L459.0 807.02 L460.0 807.21 L461.0 807.40 L462.0 807.73 L463.0 807.96 L464.0 808.18 L465.0 808.34 L466.0 808.61 L467.0 808.89 L468.0 809.02 L469.0 809.22 L470.0 809.23 L471.0 809.45 L472.0 809.68 L473.0 809.90 L474.0 810.06 L475.0 810.18 L476.0 810.32 L477.0 810.58 L478.0 810.67 L479.0 810.91 L480.0 811.17 L481.0 811.27 L482.0 811.38 L483.0 811.53 L484.0 811.60 L485.0 811.74 L486.0 811.87 L487.0 811.90 L488.0 812.21 L489.0 812.43 L490.0 812.50 L491.0 812.47 L492.0 812.56 L493.0 812.82 L494.0 812.91 L495.0 812.98 L496.0 813.09 L497.0 813.14 L498.0 813.26 L499.0 813.45 L500.0 813.64 L501.0 813.77 L502.0 813.93 L503.0 813.98 L504.0 814.11 L505.0 814.09 L506.0 814.14 L507.0 814.21 L508.0 814.24 L509.0 814.38 L510.0 814.51 L511.0 814.57 L512.0 814.68 L513.0 814.77 L514.0 814.85 L515.0 814.88 L516.0 814.98 L517.0 815.06 L518.0 815.09 L519.0 815.17 L520.0 815.23 L521.0 815.30 L522.0 815.41 L523.0 815.44 L524.0 815.53 L525.0 815.50 L526.0 815.56 L527.0 815.66 L528.0 815.68 L529.0 815.64 L530.0 815.68 L531.0 815.80 L532.0 815.89 L533.0 815.91 L534.0 815.99 L535.0 815.95 L536.0 815.99 L537.0 816.05 L538.0 816.13 L539.0 816.08 L540.0 816.04 L541.0 816.07 L542.0 816.08 L543.0 816.15 L544.0 816.24 L545.0 816.24 L546.0 816.27 L547.0 816.31 L548.0 816.31 L549.0 816.35 L550.0 816.35 L551.0 816.39 L552.0 816.43 L553.0 816.40 L554.0 816.38 L555.0 816.35 L556.0 816.44 L557.0 816.49 L558.0 816.45 L559.0 816.48 L560.0 816.57 L561.0 816.65 L562.0 816.65 L563.0 816.68 L564.0 816.62 L565.0 816.55 L566.0 816.58 L567.0 816.64 L568.0 816.62 L569.0 816.58 L570.0 816.62 L571.0 816.64 L572.0 816.65 L573.0 816.74 L574.0 816.76 L575.0 816.70 L576.0 816.74 L577.0 816.80 L578.0 816.82 L579.0 816.79 L580.0 816.74 L581.0 816.78 L582.0 816.79 L583.0 816.74 L584.0 816.81 L585.0 816.86 L586.0 816.84 L587.0 816.84 L588.0 816.88 L589.0 816.89 L590.0 816.89 L591.0 816.92 L592.0 816.94 L593.0 816.87 L594.0 816.87 L594.2 816.88"/>
<path stroke="lightsalmon" d="M57.0 818.00 L58.0 818.00 L59.0 818.00 L60.0 818.00 L61.0 818.00 L62.0 818.00 L63.0 818.00 L64.0 818.00 L65.0 818.00 L66.0 818.00 L67.0 818.00 L68.0 818.00 L69.0 818.00 L70.0 818.00 L71.0 818.00 L72.0 818.00 L73.0 818.00 L74.0 817.99 L75.0 817.99 L76.0 817.99 L77.0 817.99 L78.0 817.99 L79.0 817.99 L80.0 817.99 L81.0 817.99 L82.0 817.99 L83.0 817.99 L84.0 817.99 L85.0 817.99 L86.0 817.99 L87.0 817.98 L88.0 817.98 L89.0 817.98 L90.0 817.98 L91.0 817.98 L92.0 817.98 L93.0 817.98 L94.0 817.97 L95.0 817.97 L96.0 817.97 L97.0 817.96 L98.0 817.96 L99.0 817.96 L100.0 817.96 L101.0 817.96 L102.0 817.95 L103.0 817.95 L104.0 817.95 L105.0 817.95 L106.0 817.96 L107.0 817.94 L108.0 817.94 L109.0 817.93 L110.0 817.93 L111.0 817.93 L112.0 817.93 L113.0 817.92 L114.0 817.93 L115.0 817.93 L116.0 817.93 L117.0 817.93 L118.0 817.91 L119.0 817.90 L120.0 817.90 L121.0 817.89 L122.0 817.86 L123.0 817.87 L124.0 817.86 L125.0 817.83 L126.0 817.78 L127.0 817.76 L128.0 817.71 L129.0 817.64 L130.0 817.59 L131.0 817.54 L132.0 817.50 L133.0 817.45 L134.0 817.40 L135.0 817.33 L136.0 817.23 L137.0 817.12 L138.0 817.03 L139.0 816.90 L140.0 816.76 L141.0 816.64 L142.0 816.46 L143.0 816.34 L144.0 816.20 L145.0 816.00 L146.0 815.79 L147.0 815.65 L148.0 815.45 L149.0 815.22 L150.0 815.01 L151.0 814.78 L152.0 814.53 L153.0 814.15 L154.0 813.85 L155.0 813.59 L156.0 813.14 L157.0 812.69 L158.0 812.18 L159.0 811.74 L160.0 811.31 L161.0 810.73 L162.0 810.28 L163.0 809.78 L164.0 809.08 L165.0 808.55 L166.0 807.97 L167.0 807.36 L168.0 806.66 L169.0 805.78 L170.0 805.08 L171.0 804.32 L172.0 803.58 L173.0 802.73 L174.0 802.00 L175.0 801.28 L176.0 800.46 L177.0 799.59 L178.0 798.49 L179.0 797.65 L180.0 796.82 L181.0 795.78 L182.0 794.76 L183.0 793.79 L184.0 792.92 L185.0 791.80 L186.0 790.43 L187.0 789.37 L188.0 788.35 L189.0 786.94 L190.0 785.95 L191.0 784.80 L192.0 783.94 L193.0 782.83 L194.0 781.42 L195.0 780.37 L196.0 779.05 L197.0 778.00 L198.0 776.96 L199.0 775.71 L200.0 774.16 L201.0 772.60 L202.0 771.85 L203.0 770.67 L204.0 769.00 L205.0 767.84 L206.0 766.66 L207.0 765.43 L208.0 763.85 L209.0 761.99 L210.0 760.58 L211.0 759.11 L212.0 757.79 L213.0 756.67 L214.0 755.41 L215.0 754.00 L216.0 752.44 L217.0 750.58 L218.0 748.78 L219.0 747.24 L220.0 745.62 L221.0 743.97 L222.0 742.09 L223.0 740.62 L224.0 739.06 L225.0 737.21 L226.0 735.64 L227.0 734.51 L228.0 732.90 L229.0 731.42 L230.0 730.05 L231.0 729.10 L232.0 727.68 L233.0 725.97 L234.0 725.01 L235.0 723.91 L236.0 722.35 L237.0 721.40 L238.0 720.17 L239.0 718.74 L240.0 717.38 L241.0 715.97 L242.0 714.54 L243.0 713.47 L244.0 712.65 L245.0 711.58 L246.0 710.15 L247.0 708.79 L248.0 707.50 L249.0 706.31 L250.0 704.98 L251.0 703.72 L252.0 702.42 L253.0 701.49 L254.0 700.22 L255.0 699.20 L256.0 697.81 L257.0 696.77 L258.0 696.31 L259.0 694.74 L260.0 693.65 L261.0 692.92 L262.0 691.75 L263.0 690.69 L264.0 689.81 L265.0 688.68 L266.0 687.47 L267.0 686.62 L268.0 685.83 L269.0 684.78 L270.0 683.82 L271.0 682.83 L272.0 682.08 L273.0 681.14 L274.0 680.07 L275.0 679.45 L276.0 677.93 L277.0 676.94 L278.0 676.29 L279.0 675.72 L280.0 675.32 L281.0 674.41 L282.0 672.92 L283.0 672.20 L284.0 671.49 L285.0 670.17 L286.0 669.27 L287.0 668.45 L288.0 667.89 L289.0 667.03 L290.0 665.93 L291.0 664.89 L292.0 664.35 L293.0 663.42 L294.0 662.89 L295.0 662.20 L296.0 661.40 L297.0 660.26 L298.0 659.37 L299.0 659.13 L300.0 658.12 L301.0 656.86 L302.0 656.45 L303.0 655.77 L304.0 654.62 L305.0 653.99 L306.0 653.07 L307.0 652.83 L308.0 652.51 L309.0 651.29 L310.0 650.35 L311.0 649.91 L312.0 649.24 L313.0 648.75 L314.0 648.39 L315.0 647.66 L316.0 646.33 L317.0 646.06 L318.0 645.88 L319.0 645.44 L320.0 644.50 L321.0 643.57 L322.0 643.39 L323.0 643.30 L324.0 642.97 L325.0 642.37 L326.0 641.98 L327.0 641.09 L328.0 640.60 L329.0 640.07 L330.0 639.44 L331.0 639.41 L332.0 639.19 L333.0 638.94 L334.0 638.48 L335.0 637.72 L336.0 636.96 L337.0 636.70 L338.0 636.79 L339.0 636.25 L340.0 635.22 L341.0 635.27 L342.0 634.96 L343.0 634.57 L344.0 633.70 L345.0 633.47 L346.0 633.26 L347.0 632.55 L348.0 632.21 L349.0 632.08 L350.0 631.93 L351.0 631.38 L352.0 630.92 L353.0 631.00 L354.0 630.78 L355.0 630.30 L356.0 630.06 L357.0 629.65 L358.0 629.63 L359.0 629.70 L360.0 629.11 L361.0 629.04 L362.0 628.74 L363.0 628.14 L364.0 627.69 L365.0 627.54 L366.0 627.24 L367.0 627.38 L368.0 626.98 L369.0 626.98 L370.0 627.19 L371.0 627.06 L372.0 627.04 L373.0 626.59 L374.0 626.43 L375.0 626.67 L376.0 626.92 L377.0 627.06 L378.0 626.83 L379.0 626.41 L380.0 626.47 L381.0 626.56 L382.0 626.42 L383.0 626.53 L384.0 626.57 L385.0 626.34 L386.0 626.69 L387.0 626.63 L388.0 625.95 L389.0 626.26 L390.0 626.33 L391.0 625.92 L392.0 626.49 L393.0 626.83 L394.0 626.83 L395.0 626.49 L396.0 626.42 L397.0 627.39 L398.0 627.27 L399.0 626.51 L400.0 626.54 L401.0 626.62 L402.0 627.45 L403.0 627.64 L404.0 627.33 L405.0 627.47 L406.0 627.82 L407.0 627.57 L408.0 627.92 L409.0 628.29 L410.0 628.28 L411.0 628.35 L412.0 628.65 L413.0 628.70 L414.0 628.85 L415.0 628.97 L416.0 628.91 L417.0 629.23 L418.0 629.15 L419.0 629.51 L420.0 630.30 L421.0 630.00 L422.0 629.94 L423.0 630.32 L424.0 630.59 L425.0 630.88 L426.0 631.01 L427.0 631.15 L428.0 631.42 L429.0 631.43 L430.0 631.76 L431.0 632.04 L432.0 632.28 L433.0 632.12 L434.0 632.47 L435.0 632.82 L436.0 633.14 L437.0 633.33 L438.0 633.27 L439.0 633.44 L440.0 633.41 L441.0 633.86 L442.0 634.54 L443.0 634.61 L444.0 634.28 L445.0 634.52 L446.0 634.79 L447.0 634.82 L448.0 634.96 L449.0 635.52 L450.0 635.81 L451.0 635.74 L452.0 636.31 L453.0 636.36 L454.0 636.81 L455.0 637.02 L456.0 636.88 L457.0 637.25 L458.0 637.75 L459.0 638.04 L460.0 638.42 L461.0 639.00 L462.0 639.28 L463.0 639.68 L464.0 640.07 L465.0 640.45 L466.0 640.62 L467.0 641.08 L468.0 641.60 L469.0 641.95 L470.0 641.83 L471.0 642.12 L472.0 642.13 L473.0 642.31 L474.0 643.08 L475.0 643.16 L476.0 643.49 L477.0 644.19 L478.0 644.55 L479.0 644.77 L480.0 644.68 L481.0 645.09 L482.0 645.43 L483.0 645.68 L484.0 646.20 L485.0 647.01 L486.0 647.40 L487.0 647.71 L488.0 648.06 L489.0 648.10 L490.0 647.96 L491.0 648.62 L492.0 649.26 L493.0 649.32 L494.0 649.54 L495.0 649.97 L496.0 650.47 L497.0 649.98 L498.0 650.51 L499.0 651.02 L500.0 651.92 L501.0 652.12 L502.0 652.14 L503.0 652.35 L504.0 653.53 L505.0 653.46 L506.0 653.52 L507.0 654.23 L508.0 654.15 L509.0 654.78 L510.0 655.46 L511.0 655.72 L512.0 656.05 L513.0 656.40 L514.0 656.66 L515.0 656.53 L516.0 656.92 L517.0 657.38 L518.0 657.84 L519.0 658.38 L520.0 658.81 L521.0 658.98 L522.0 659.52 L523.0 659.87 L524.0 659.93 L525.0 660.21 L526.0 660.83 L527.0 661.65 L528.0 661.36 L529.0 661.80 L530.0 662.27 L531.0 662.31 L532.0 662.40 L533.0 663.13 L534.0 663.41 L535.0 663.57 L536.0 664.39 L537.0 664.71 L538.0 664.80 L539.0 665.41 L540.0 665.81 L541.0 666.03 L542.0 665.76 L543.0 666.34 L544.0 666.93 L545.0 667.36 L546.0 667.85 L547.0 667.80 L548.0 668.48 L549.0 668.86 L550.0 669.10 L551.0 669.50 L552.0 669.93 L553.0 670.23 L554.0 670.72 L555.0 671.31 L556.0 671.16 L557.0 671.79 L558.0 672.36 L559.0 672.77 L560.0 672.71 L561.0 672.84 L562.0 673.29 L563.0 674.02 L564.0 674.79 L565.0 675.32 L566.0 675.07 L567.0 675.46 L568.0 676.54 L569.0 676.42 L570.0 676.43 L571.0 677.28 L572.0 678.15 L573.0 677.69 L574.0 677.90 L575.0 678.02 L576.0 678.41 L577.0 678.95 L578.0 679.65 L579.0 680.28 L580.0 680.87 L581.0 681.16 L582.0 681.29 L583.0 681.46 L584.0 681.84 L585.0 682.20 L586.0 682.59 L587.0 682.76 L588.0 682.79 L589.0 683.35 L590.0 683.87 L591.0 684.36 L592.0 684.07 L593.0 684.29 L594.0 684.93 L594.2 685.05"/>
<path stroke="darkgray" d="M57.0 818.00 L58.0 818.00 L59.0 818.00 L60.0 818.00 L61.0 818.00 L62.0 818.00 L63.0 818.00 L64.0 818.00 L65.0 818.00 L66.0 818.00 L67.0 818.00 L68.0 818.00 L69.0 818.00 L70.0 818.00 L71.0 818.00 L72.0 818.00 L73.0 818.00 L74.0 818.00 L75.0 818.00 L76.0 818.00 L77.0 818.00 L78.0 818.00 L79.0 818.00 L80.0 818.00 L81.0 818.00 L82.0 818.00 L83.0 818.00 L84.0 818.00 L85.0 818.00 L86.0 818.00 L87.0 818.00 L88.0 817.99 L89.0 817.99 L90.0 817.99 L91.0 817.99 L92.0 817.99 L93.0 818.00 L94.0 818.00 L95.0 818.00 L96.0 817.99 L97.0 817.99 L98.0 818.00 L99.0 818.00 L100.0 817.99 L101.0 817.99 L102.0 817.99 L103.0 817.99 L104.0 817.99 L105.0 817.99 L106.0 817.98 L107.0 817.99 L108.0 817.99 L109.0 817.99 L110.0 817.98 L111.0 817.98 L112.0 817.98 L113.0 817.99 L114.0 817.98 L115.0 817.98 L116.0 817.98 L117.0 817.98 L118.0 817.97 L119.0 817.97 L120.0 817.97 L121.0 817.98 L122.0 817.98 L123.0 817.97 L124.0 817.97 L125.0 817.96 L126.0 817.97 L127.0 817.98 L128.0 817.97 L129.0 817.96 L130.0 817.97 L131.0 817.96 L132.0 817.96 L133.0 817.96 L134.0 817.96 L135.0 817.95 L136.0 817.95 L137.0 817.96 L138.0 817.96 L139.0 817.95 L140.0 817.95 L141.0 817.95 L142.0 817.96 L143.0 817.96 L144.0 817.96 L145.0 817.95 L146.0 817.95 L147.0 817.95 L148.0 817.95 L149.0 817.95 L150.0 817.95 L151.0 817.95 L152.0 817.94 L153.0 817.94 L154.0 817.93 L155.0 817.92 L156.0 817.92 L157.0 817.91 L158.0 817.92 L159.0 817.92 L160.0 817.91 L161.0 817.91 L162.0 817.92 L163.0 817.91 L164.0 817.91 L165.0 817.91 L166.0 817.90 L167.0 817.91 L168.0 817.91 L169.0 817.91 L170.0 817.89 L171.0 817.87 L172.0 817.88 L173.0 817.85 L174.0 817.82 L175.0 817.79 L176.0 817.76 L177.0 817.72 L178.0 817.68 L179.0 817.66 L180.0 817.61 L181.0 817.54 L182.0 817.44 L183.0 817.41 L184.0 817.35 L185.0 817.29 L186.0 817.20 L187.0 817.15 L188.0 817.09 L189.0 816.98 L190.0 816.87 L191.0 816.76 L192.0 816.71 L193.0 816.59 L194.0 816.53 L195.0 816.49 L196.0 816.37 L197.0 816.17 L198.0 816.03 L199.0 815.94 L200.0 815.76 L201.0 815.62 L202.0 815.50 L203.0 815.30 L204.0 815.07 L205.0 814.90 L206.0 814.76 L207.0 814.53 L208.0 814.29 L209.0 814.12 L210.0 813.82 L211.0 813.52 L212.0 813.28 L213.0 813.22 L214.0 812.92 L215.0 812.62 L216.0 812.43 L217.0 812.22 L218.0 812.07 L219.0 811.64 L220.0 811.36 L221.0 811.20 L222.0 810.79 L223.0 810.69 L224.0 810.57 L225.0 810.10 L226.0 809.79 L227.0 809.54 L228.0 809.29 L229.0 809.05 L230.0 808.77 L231.0 808.49 L232.0 808.34 L233.0 807.96 L234.0 807.52 L235.0 807.32 L236.0 807.10 L237.0 806.93 L238.0 806.45 L239.0 805.89 L240.0 805.63 L241.0 805.41 L242.0 805.07 L243.0 804.58 L244.0 804.21 L245.0 803.94 L246.0 803.59 L247.0 803.11 L248.0 802.57 L249.0 802.18 L250.0 801.65 L251.0 801.23 L252.0 800.78 L253.0 800.36 L254.0 799.66 L255.0 799.30 L256.0 798.79 L257.0 798.29 L258.0 797.93 L259.0 797.46 L260.0 797.18 L261.0 796.81 L262.0 796.32 L263.0 795.60 L264.0 794.86 L265.0 794.43 L266.0 794.19 L267.0 793.71 L268.0 793.28 L269.0 793.12 L270.0 792.76 L271.0 792.22 L272.0 791.57 L273.0 791.14 L274.0 791.00 L275.0 790.53 L276.0 789.84 L277.0 789.30 L278.0 788.65 L279.0 788.27 L280.0 788.17 L281.0 787.75 L282.0 787.21 L283.0 787.00 L284.0 786.40 L285.0 786.21 L286.0 785.54 L287.0 784.91 L288.0 784.54 L289.0 784.18 L290.0 783.91 L291.0 783.48 L292.0 782.96 L293.0 782.47 L294.0 781.70 L295.0 781.45 L296.0 781.27 L297.0 780.81 L298.0 780.18 L299.0 779.36 L300.0 778.98 L301.0 778.78 L302.0 778.24 L303.0 777.79 L304.0 777.33 L305.0 776.65 L306.0 776.13 L307.0 775.56 L308.0 774.89 L309.0 774.26 L310.0 773.80 L311.0 773.80 L312.0 772.93 L313.0 772.31 L314.0 771.91 L315.0 771.38 L316.0 770.75 L317.0 770.05 L318.0 769.92 L319.0 769.48 L320.0 768.89 L321.0 768.40 L322.0 767.85 L323.0 767.07 L324.0 766.54 L325.0 765.94 L326.0 765.58 L327.0 765.07 L328.0 764.53 L329.0 763.91 L330.0 763.14 L331.0 763.00 L332.0 762.62 L333.0 762.05 L334.0 761.34 L335.0 760.51 L336.0 760.10 L337.0 760.13 L338.0 759.50 L339.0 758.79 L340.0 758.27 L341.0 757.73 L342.0 757.29 L343.0 756.49 L344.0 756.02 L345.0 755.68 L346.0 755.18 L347.0 754.55 L348.0 754.23 L349.0 753.50 L350.0 752.94 L351.0 752.81 L352.0 752.32 L353.0 751.77 L354.0 750.93 L355.0 750.30 L356.0 749.96 L357.0 749.10 L358.0 748.50 L359.0 748.24 L360.0 747.84 L361.0 747.65 L362.0 747.42 L363.0 746.62 L364.0 745.54 L365.0 745.10 L366.0 744.76 L367.0 744.08 L368.0 743.13 L369.0 742.98 L370.0 743.13 L371.0 742.66 L372.0 741.71 L373.0 741.11 L374.0 740.89 L375.0 740.40 L376.0 739.82 L377.0 738.85 L378.0 738.76 L379.0 738.47 L380.0 738.07 L381.0 737.26 L382.0 736.69 L383.0 736.22 L384.0 735.95 L385.0 735.39 L386.0 735.15 L387.0 734.49 L388.0 734.01 L389.0 733.45 L390.0 732.61 L391.0 732.22 L392.0 731.74 L393.0 731.06 L394.0 730.56 L395.0 730.34 L396.0 729.93 L397.0 729.26 L398.0 728.87 L399.0 728.34 L400.0 727.76 L401.0 727.20 L402.0 726.94 L403.0 726.64 L404.0 725.91 L405.0 725.65 L406.0 725.44 L407.0 724.62 L408.0 724.17 L409.0 723.39 L410.0 723.15 L411.0 722.73 L412.0 722.50 L413.0 721.98 L414.0 721.31 L415.0 720.98 L416.0 721.01 L417.0 720.28 L418.0 719.75 L419.0 719.42 L420.0 719.04 L421.0 718.65 L422.0 718.02 L423.0 717.55 L424.0 717.08 L425.0 716.85 L426.0 716.34 L427.0 715.81 L428.0 715.24 L429.0 715.21 L430.0 714.73 L431.0 714.06 L432.0 713.66 L433.0 713.30 L434.0 712.85 L435.0 712.49 L436.0 712.19 L437.0 712.18 L438.0 711.49 L439.0 711.15 L440.0 711.02 L441.0 710.65 L442.0 710.03 L443.0 709.20 L444.0 709.15 L445.0 709.09 L446.0 708.98 L447.0 708.18 L448.0 707.75 L449.0 707.49 L450.0 707.19 L451.0 707.05 L452.0 706.31 L453.0 705.83 L454.0 705.40 L455.0 705.14 L456.0 704.24 L457.0 703.74 L458.0 703.83 L459.0 703.93 L460.0 703.55 L461.0 703.06 L462.0 702.74 L463.0 702.10 L464.0 701.50 L465.0 701.13 L466.0 701.01 L467.0 700.58 L468.0 699.83 L469.0 699.55 L470.0 699.58 L471.0 699.40 L472.0 698.93 L473.0 698.61 L474.0 698.11 L475.0 697.73 L476.0 697.90 L477.0 697.52 L478.0 696.95 L479.0 696.84 L480.0 696.64 L481.0 696.23 L482.0 695.95 L483.0 695.80 L484.0 695.18 L485.0 695.25 L486.0 695.32 L487.0 694.60 L488.0 694.42 L489.0 694.02 L490.0 693.77 L491.0 693.47 L492.0 693.28 L493.0 693.29 L494.0 692.90 L495.0 692.16 L496.0 691.78 L497.0 691.40 L498.0 691.19 L499.0 690.93 L500.0 690.66 L501.0 690.18 L502.0 689.98 L503.0 689.87 L504.0 689.64 L505.0 689.16 L506.0 688.47 L507.0 688.15 L508.0 687.98 L509.0 688.00 L510.0 688.13 L511.0 687.80 L512.0 687.37 L513.0 686.64 L514.0 686.25 L515.0 686.20 L516.0 686.03 L517.0 685.74 L518.0 685.52 L519.0 684.85 L520.0 684.63 L521.0 684.62 L522.0 684.51 L523.0 684.34 L524.0 684.11 L525.0 684.02 L526.0 683.41 L527.0 683.26 L528.0 683.23 L529.0 682.90 L530.0 682.66 L531.0 682.16 L532.0 682.01 L533.0 682.07 L534.0 681.45 L535.0 681.14 L536.0 680.98 L537.0 681.13 L538.0 680.66 L539.0 680.27 L540.0 680.14 L541.0 680.03 L542.0 679.84 L543.0 679.51 L544.0 678.79 L545.0 678.38 L546.0 678.25 L547.0 678.29 L548.0 678.31 L549.0 678.36 L550.0 677.62 L551.0 676.99 L552.0 676.90 L553.0 676.89 L554.0 676.44 L555.0 675.82 L556.0 675.53 L557.0 675.28 L558.0 675.12 L559.0 674.74 L560.0 675.07 L561.0 674.80 L562.0 673.93 L563.0 673.28 L564.0 672.94 L565.0 672.58 L566.0 672.46 L567.0 672.55 L568.0 672.12 L569.0 671.80 L570.0 671.38 L571.0 671.19 L572.0 670.90 L573.0 670.71 L574.0 670.65 L575.0 670.52 L576.0 670.16 L577.0 669.94 L578.0 669.79 L579.0 669.37 L580.0 668.79 L581.0 668.32 L582.0 668.07 L583.0 668.11 L584.0 668.09 L585.0 668.04 L586.0 667.61 L587.0 667.48 L588.0 667.35 L589.0 666.88 L590.0 666.74 L591.0 666.68 L592.0 666.49 L593.0 666.21 L594.0 666.88 L594.2 667.30"/>
<path stroke="steelblue" d="M57.0 818.00 L58.0 818.00 L59.0 818.00 L60.0 818.00 L61.0 818.00 L62.0 818.00 L63.0 818.00 L64.0 818.00 L65.0 818.00 L66.0 818.00 L67.0 818.00 L68.0 818.00 L69.0 818.00 L70.0 818.00 L71.0 818.00 L72.0 818.00 L73.0 818.00 L74.0 818.00 L75.0 818.00 L76.0 818.00 L77.0 818.00 L78.0 818.00 L79.0 818.00 L80.0 818.00 L81.0 818.00 L82.0 818.00 L83.0 818.00 L84.0 818.00 L85.0 818.00 L86.0 818.00 L87.0 818.00 L88.0 818.00 L89.0 818.00 L90.0 818.00 L91.0 818.00 L92.0 818.00 L93.0 818.00 L94.0 818.00 L95.0 818.00 L96.0 818.00 L97.0 818.00 L98.0 818.00 L99.0 818.00 L100.0 818.00 L101.0 818.00 L102.0 818.00 L103.0 818.00 L104.0 817.99 L105.0 817.99 L106.0 817.99 L107.0 817.99 L108.0 817.99 L109.0 817.99 L110.0 817.99 L111.0 817.99 L112.0 817.99 L113.0 817.99 L114.0 817.99 L115.0 817.99 L116.0 817.99 L117.0 817.99 L118.0 817.99 L119.0 817.99 L120.0 817.99 L121.0 817.99 L122.0 817.99 L123.0 817.99 L124.0 817.98 L125.0 817.98 L126.0 817.99 L127.0 817.99 L128.0 817.99 L129.0 817.99 L130.0 817.99 L131.0 817.98 L132.0 817.99 L133.0 817.99 L134.0 817.98 L135.0 817.99 L136.0 817.99 L137.0 817.98 L138.0 817.98 L139.0 817.98 L140.0 817.98 L141.0 817.99 L142.0 817.98 L143.0 817.98 L144.0 817.98 L145.0 817.98 L146.0 817.98 L147.0 817.98 L148.0 817.98 L149.0 817.97 L150.0 817.97 L151.0 817.98 L152.0 817.98 L153.0 817.98 L154.0 817.98 L155.0 817.98 L156.0 817.97 L157.0 817.98 L158.0 817.98 L159.0 817.97 L160.0 817.97 L161.0 817.97 L162.0 817.96 L163.0 817.96 L164.0 817.96 L165.0 817.96 L166.0 817.97 L167.0 817.97 L168.0 817.96 L169.0 817.96 L170.0 817.96 L171.0 817.95 L172.0 817.96 L173.0 817.96 L174.0 817.95 L175.0 817.95 L176.0 817.95 L177.0 817.96 L178.0 817.95 L179.0 817.95 L180.0 817.95 L181.0 817.95 L182.0 817.94 L183.0 817.95 L184.0 817.95 L185.0 817.95 L186.0 817.94 L187.0 817.94 L188.0 817.93 L189.0 817.95 L190.0 817.95 L191.0 817.94 L192.0 817.93 L193.0 817.93 L194.0 817.94 L195.0 817.93 L196.0 817.93 L197.0 817.92 L198.0 817.93 L199.0 817.93 L200.0 817.93 L201.0 817.92 L202.0 817.94 L203.0 817.93 L204.0 817.91 L205.0 817.92 L206.0 817.93 L207.0 817.91 L208.0 817.90 L209.0 817.91 L210.0 817.91 L211.0 817.91 L212.0 817.91 L213.0 817.92 L214.0 817.90 L215.0 817.89 L216.0 817.90 L217.0 817.92 L218.0 817.91 L219.0 817.88 L220.0 817.88 L221.0 817.89 L222.0 817.88 L223.0 817.87 L224.0 817.88 L225.0 817.88 L226.0 817.84 L227.0 817.82 L228.0 817.82 L229.0 817.81 L230.0 817.80 L231.0 817.74 L232.0 817.73 L233.0 817.75 L234.0 817.75 L235.0 817.70 L236.0 817.69 L237.0 817.68 L238.0 817.64 L239.0 817.59 L240.0 817.54 L241.0 817.54 L242.0 817.53 L243.0 817.52 L244.0 817.48 L245.0 817.48 L246.0 817.47 L247.0 817.46 L248.0 817.41 L249.0 817.41 L250.0 817.37 L251.0 817.32 L252.0 817.32 L253.0 817.31 L254.0 817.24 L255.0 817.17 L256.0 817.22 L257.0 817.20 L258.0 817.13 L259.0 817.12 L260.0 817.07 L261.0 817.03 L262.0 817.02 L263.0 816.96 L264.0 816.94 L265.0 816.91 L266.0 816.90 L267.0 816.91 L268.0 816.85 L269.0 816.81 L270.0 816.76 L271.0 816.72 L272.0 816.63 L273.0 816.58 L274.0 816.62 L275.0 816.58 L276.0 816.54 L277.0 816.60 L278.0 816.53 L279.0 816.42 L280.0 816.38 L281.0 816.35 L282.0 816.34 L283.0 816.28 L284.0 816.22 L285.0 816.18 L286.0 816.14 L287.0 816.11 L288.0 816.06 L289.0 815.99 L290.0 815.93 L291.0 815.91 L292.0 815.92 L293.0 815.85 L294.0 815.80 L295.0 815.78 L296.0 815.70 L297.0 815.63 L298.0 815.58 L299.0 815.50 L300.0 815.38 L301.0 815.43 L302.0 815.32 L303.0 815.24 L304.0 815.17 L305.0 815.17 L306.0 815.05 L307.0 815.01 L308.0 814.91 L309.0 814.83 L310.0 814.84 L311.0 814.79 L312.0 814.72 L313.0 814.73 L314.0 814.61 L315.0 814.48 L316.0 814.39 L317.0 814.37 L318.0 814.38 L319.0 814.23 L320.0 814.10 L321.0 814.11 L322.0 814.04 L323.0 813.98 L324.0 813.89 L325.0 813.79 L326.0 813.76 L327.0 813.68 L328.0 813.67 L329.0 813.54 L330.0 813.33 L331.0 813.38 L332.0 813.35 L333.0 813.10 L334.0 813.02 L335.0 812.88 L336.0 812.91 L337.0 812.80 L338.0 812.70 L339.0 812.68 L340.0 812.55 L341.0 812.52 L342.0 812.37 L343.0 812.18 L344.0 812.02 L345.0 811.98 L346.0 811.79 L347.0 811.83 L348.0 811.75 L349.0 811.57 L350.0 811.53 L351.0 811.40 L352.0 811.42 L353.0 811.32 L354.0 811.14 L355.0 811.08 L356.0 810.99 L357.0 810.94 L358.0 810.83 L359.0 810.66 L360.0 810.55 L361.0 810.55 L362.0 810.34 L363.0 810.16 L364.0 810.14 L365.0 810.01 L366.0 809.97 L367.0 809.90 L368.0 809.88 L369.0 809.77 L370.0 809.51 L371.0 809.47 L372.0 809.46 L373.0 809.27 L374.0 809.16 L375.0 809.05 L376.0 808.96 L377.0 808.89 L378.0 808.77 L379.0 808.67 L380.0 808.67 L381.0 808.50 L382.0 808.29 L383.0 808.18 L384.0 808.15 L385.0 808.06 L386.0 808.20 L387.0 807.94 L388.0 807.77 L389.0 807.79 L390.0 807.56 L391.0 807.40 L392.0 807.28 L393.0 807.20 L394.0 807.15 L395.0 807.12 L396.0 806.78 L397.0 806.60 L398.0 806.60 L399.0 806.50 L400.0 806.32 L401.0 806.14 L402.0 806.10 L403.0 806.17 L404.0 806.00 L405.0 805.78 L406.0 805.75 L407.0 805.60 L408.0 805.62 L409.0 805.50 L410.0 805.50 L411.0 805.20 L412.0 805.05 L413.0 804.71 L414.0 804.55 L415.0 804.48 L416.0 804.44 L417.0 804.46 L418.0 804.40 L419.0 804.22 L420.0 804.02 L421.0 803.83 L422.0 803.71 L423.0 803.56 L424.0 803.52 L425.0 803.50 L426.0 803.31 L427.0 803.32 L428.0 803.22 L429.0 802.90 L430.0 802.83 L431.0 802.61 L432.0 802.53 L433.0 802.66 L434.0 802.39 L435.0 802.36 L436.0 802.29 L437.0 802.00 L438.0 801.91 L439.0 801.80 L440.0 801.62 L441.0 801.42 L442.0 801.56 L443.0 801.43 L444.0 801.12 L445.0 801.07 L446.0 801.04 L447.0 801.02 L448.0 800.83 L449.0 800.66 L450.0 800.48 L451.0 800.12 L452.0 800.00 L453.0 799.84 L454.0 799.81 L455.0 799.74 L456.0 799.33 L457.0 799.33 L458.0 799.29 L459.0 798.92 L460.0 798.82 L461.0 798.64 L462.0 798.47 L463.0 798.28 L464.0 798.26 L465.0 798.10 L466.0 797.71 L467.0 797.66 L468.0 797.70 L469.0 797.54 L470.0 797.50 L471.0 797.30 L472.0 797.05 L473.0 796.98 L474.0 796.89 L475.0 797.04 L476.0 796.89 L477.0 796.53 L478.0 796.41 L479.0 796.35 L480.0 796.12 L481.0 796.10 L482.0 795.97 L483.0 795.51 L484.0 795.48 L485.0 795.30 L486.0 795.36 L487.0 795.19 L488.0 794.98 L489.0 794.87 L490.0 794.51 L491.0 794.55 L492.0 794.55 L493.0 794.45 L494.0 794.36 L495.0 794.17 L496.0 794.03 L497.0 793.91 L498.0 793.70 L499.0 793.73 L500.0 793.69 L501.0 793.53 L502.0 793.49 L503.0 793.32 L504.0 793.03 L505.0 793.15 L506.0 793.17 L507.0 793.14 L508.0 792.77 L509.0 792.65 L510.0 792.64 L511.0 792.52 L512.0 792.46 L513.0 792.27 L514.0 792.20 L515.0 792.23 L516.0 792.16 L517.0 791.74 L518.0 791.62 L519.0 791.67 L520.0 791.35 L521.0 791.32 L522.0 791.49 L523.0 791.24 L524.0 791.13 L525.0 791.34 L526.0 791.23 L527.0 791.01 L528.0 790.87 L529.0 790.69 L530.0 790.37 L531.0 790.60 L532.0 790.40 L533.0 790.27 L534.0 790.60 L535.0 790.18 L536.0 790.10 L537.0 790.00 L538.0 789.99 L539.0 789.80 L540.0 789.77 L541.0 789.67 L542.0 789.43 L543.0 789.31 L544.0 789.46 L545.0 789.41 L546.0 789.04 L547.0 788.71 L548.0 788.74 L549.0 788.89 L550.0 788.98 L551.0 788.90 L552.0 788.69 L553.0 788.48 L554.0 788.33 L555.0 788.35 L556.0 788.15 L557.0 787.70 L558.0 787.76 L559.0 787.70 L560.0 787.67 L561.0 787.57 L562.0 787.41 L563.0 787.06 L564.0 787.12 L565.0 786.96 L566.0 787.19 L567.0 786.92 L568.0 786.75 L569.0 786.45 L570.0 786.60 L571.0 786.47 L572.0 786.36 L573.0 786.07 L574.0 785.79 L575.0 785.64 L576.0 785.49 L577.0 785.52 L578.0 785.43 L579.0 785.45 L580.0 785.36 L581.0 785.34 L582.0 785.46 L583.0 784.96 L584.0 784.86 L585.0 784.70 L586.0 784.88 L587.0 784.97 L588.0 784.76 L589.0 784.44 L590.0 784.15 L591.0 784.42 L592.0 784.60 L593.0 784.66 L594.0 784.60 L594.2 784.62"/>
<path stroke="gold" d="M57.0 818.00 L58.0 818.00 L59.0 818.00 L60.0 818.00 L61.0 818.00 L62.0 818.00 L63.0 818.00 L64.0 818.00 L65.0 818.00 L66.0 818.00 L67.0 818.00 L68.0 818.00 L69.0 818.00 L70.0 818.00 L71.0 818.00 L72.0 818.00 L73.0 818.00 L74.0 818.00 L75.0 818.00 L76.0 818.00 L77.0 818.00 L78.0 818.00 L79.0 818.00 L80.0 818.00 L81.0 818.00 L82.0 818.00 L83.0 818.00 L84.0 818.00 L85.0 818.00 L86.0 818.00 L87.0 818.00 L88.0 818.00 L89.0 818.00 L90.0 818.00 L91.0 818.00 L92.0 818.00 L93.0 818.00 L94.0 818.00 L95.0 818.00 L96.0 818.00 L97.0 818.00 L98.0 818.00 L99.0 818.00 L100.0 818.00 L101.0 818.00 L102.0 818.00 L103.0 818.00 L104.0 818.00 L105.0 818.00 L106.0 818.00 L107.0 818.00 L108.0 818.00 L109.0 818.00 L110.0 818.00 L111.0 818.00 L112.0 818.00 L113.0 818.00 L114.0 818.00 L115.0 818.00 L116.0 818.00 L117.0 818.00 L118.0 818.00 L119.0 818.00 L120.0 818.00 L121.0 818.00 L122.0 818.00 L123.0 818.00 L124.0 818.00 L125.0 818.00 L126.0 818.00 L127.0 818.00 L128.0 818.00 L129.0 818.00 L130.0 818.00 L131.0 818.00 L132.0 818.00 L133.0 817.99 L134.0 818.00 L135.0 817.99 L136.0 818.00 L137.0 818.00 L138.0 818.00 L139.0 818.00 L140.0 818.00 L141.0 818.00 L142.0 818.00 L143.0 818.00 L144.0 818.00 L145.0 818.00 L146.0 817.99 L147.0 817.99 L148.0 818.00 L149.0 818.00 L150.0 818.00 L151.0 818.00 L152.0 817.99 L153.0 817.99 L154.0 817.99 L155.0 817.99 L156.0 818.00 L157.0 818.00 L158.0 818.00 L159.0 818.00 L160.0 818.00 L161.0 818.00 L162.0 818.00 L163.0 817.99 L164.0 817.99 L165.0 817.99 L166.0 817.99 L167.0 817.99 L168.0 817.99 L169.0 817.99 L170.0 817.99 L171.0 817.99 L172.0 817.99 L173.0 818.00 L174.0 817.99 L175.0 817.99 L176.0 817.99 L177.0 818.00 L178.0 818.00 L179.0 818.00 L180.0 818.00 L181.0 817.99 L182.0 817.99 L183.0 817.99 L184.0 817.99 L185.0 818.00 L186.0 817.99 L187.0 817.99 L188.0 817.99 L189.0 817.99 L190.0 817.99 L191.0 817.99 L192.0 817.99 L193.0 817.99 L194.0 817.99 L195.0 817.99 L196.0 817.99 L197.0 817.99 L198.0 817.99 L199.0 817.99 L200.0 817.99 L201.0 817.99 L202.0 817.99 L203.0 817.99 L204.0 817.99 L205.0 817.99 L206.0 817.98 L207.0 817.99 L208.0 817.99 L209.0 817.99 L210.0 817.99 L211.0 817.98 L212.0 817.98 L213.0 817.99 L214.0 817.99 L215.0 817.99 L216.0 817.99 L217.0 817.99 L218.0 817.98 L219.0 817.98 L220.0 817.98 L221.0 817.99 L222.0 817.99 L223.0 817.99 L224.0 817.99 L225.0 817.99 L226.0 817.98 L227.0 817.98 L228.0 817.98 L229.0 817.98 L230.0 817.99 L231.0 817.99 L232.0 817.99 L233.0 817.98 L234.0 817.98 L235.0 817.99 L236.0 817.99 L237.0 817.98 L238.0 817.98 L239.0 817.98 L240.0 817.98 L241.0 817.98 L242.0 817.98 L243.0 817.98 L244.0 817.98 L245.0 817.97 L246.0 817.97 L247.0 817.98 L248.0 817.98 L249.0 817.98 L250.0 817.97 L251.0 817.98 L252.0 817.98 L253.0 817.99 L254.0 817.98 L255.0 817.98 L256.0 817.98 L257.0 817.97 L258.0 817.97 L259.0 817.98 L260.0 817.97 L261.0 817.98 L262.0 817.98 L263.0 817.97 L264.0 817.97 L265.0 817.97 L266.0 817.98 L267.0 817.98 L268.0 817.98 L269.0 817.98 L270.0 817.97 L271.0 817.97 L272.0 817.97 L273.0 817.97 L274.0 817.97 L275.0 817.98 L276.0 817.98 L277.0 817.98 L278.0 817.98 L279.0 817.98 L280.0 817.97 L281.0 817.97 L282.0 817.97 L283.0 817.97 L284.0 817.97 L285.0 817.97 L286.0 817.97 L287.0 817.97 L288.0 817.97 L289.0 817.97 L290.0 817.96 L291.0 817.97 L292.0 817.97 L293.0 817.97 L294.0 817.97 L295.0 817.97 L296.0 817.96 L297.0 817.96 L298.0 817.97 L299.0 817.97 L300.0 817.97 L301.0 817.96 L302.0 817.97 L303.0 817.96 L304.0 817.97 L305.0 817.96 L306.0 817.96 L307.0 817.96 L308.0 817.96 L309.0 817.95 L310.0 817.95 L311.0 817.95 L312.0 817.96 L313.0 817.96 L314.0 817.96 L315.0 817.96 L316.0 817.96 L317.0 817.97 L318.0 817.96 L319.0 817.96 L320.0 817.97 L321.0 817.97 L322.0 817.96 L323.0 817.95 L324.0 817.95 L325.0 817.94 L326.0 817.95 L327.0 817.96 L328.0 817.96 L329.0 817.96 L330.0 817.95 L331.0 817.95 L332.0 817.94 L333.0 817.95 L334.0 817.94 L335.0 817.93 L336.0 817.95 L337.0 817.95 L338.0 817.95 L339.0 817.96 L340.0 817.96 L341.0 817.96 L342.0 817.95 L343.0 817.95 L344.0 817.93 L345.0 817.94 L346.0 817.95 L347.0 817.95 L348.0 817.93 L349.0 817.94 L350.0 817.95 L351.0 817.95 L352.0 817.95 L353.0 817.95 L354.0 817.96 L355.0 817.96 L356.0 817.94 L357.0 817.95 L358.0 817.94 L359.0 817.93 L360.0 817.93 L361.0 817.94 L362.0 817.94 L363.0 817.94 L364.0 817.93 L365.0 817.93 L366.0 817.93 L367.0 817.93 L368.0 817.94 L369.0 817.93 L370.0 817.93 L371.0 817.92 L372.0 817.93 L373.0 817.94 L374.0 817.94 L375.0 817.93 L376.0 817.95 L377.0 817.95 L378.0 817.93 L379.0 817.93 L380.0 817.92 L381.0 817.92 L382.0 817.92 L383.0 817.92 L384.0 817.93 L385.0 817.94 L386.0 817.93 L387.0 817.93 L388.0 817.93 L389.0 817.93 L390.0 817.93 L391.0 817.91 L392.0 817.93 L393.0 817.93 L394.0 817.92 L395.0 817.92 L396.0 817.92 L397.0 817.92 L398.0 817.92 L399.0 817.91 L400.0 817.91 L401.0 817.91 L402.0 817.91 L403.0 817.92 L404.0 817.93 L405.0 817.92 L406.0 817.91 L407.0 817.91 L408.0 817.92 L409.0 817.92 L410.0 817.94 L411.0 817.93 L412.0 817.91 L413.0 817.90 L414.0 817.92 L415.0 817.92 L416.0 817.91 L417.0 817.91 L418.0 817.91 L419.0 817.91 L420.0 817.91 L421.0 817.90 L422.0 817.89 L423.0 817.88 L424.0 817.89 L425.0 817.90 L426.0 817.89 L427.0 817.88 L428.0 817.88 L429.0 817.86 L430.0 817.85 L431.0 817.87 L432.0 817.88 L433.0 817.87 L434.0 817.85 L435.0 817.85 L436.0 817.83 L437.0 817.83 L438.0 817.83 L439.0 817.80 L440.0 817.80 L441.0 817.77 L442.0 817.75 L443.0 817.74 L444.0 817.72 L445.0 817.74 L446.0 817.71 L447.0 817.68 L448.0 817.66 L449.0 817.64 L450.0 817.62 L451.0 817.61 L452.0 817.60 L453.0 817.55 L454.0 817.54 L455.0 817.51 L456.0 817.50 L457.0 817.48 L458.0 817.43 L459.0 817.44 L460.0 817.41 L461.0 817.34 L462.0 817.31 L463.0 817.31 L464.0 817.32 L465.0 817.28 L466.0 817.20 L467.0 817.16 L468.0 817.15 L469.0 817.12 L470.0 817.11 L471.0 817.08 L472.0 817.03 L473.0 817.00 L474.0 816.97 L475.0 816.96 L476.0 816.92 L477.0 816.86 L478.0 816.78 L479.0 816.72 L480.0 816.67 L481.0 816.68 L482.0 816.65 L483.0 816.52 L484.0 816.53 L485.0 816.57 L486.0 816.50 L487.0 816.54 L488.0 816.44 L489.0 816.40 L490.0 816.33 L491.0 816.34 L492.0 816.28 L493.0 816.22 L494.0 816.25 L495.0 816.21 L496.0 816.14 L497.0 816.02 L498.0 815.96 L499.0 815.94 L500.0 815.91 L501.0 815.87 L502.0 815.83 L503.0 815.85 L504.0 815.82 L505.0 815.77 L506.0 815.73 L507.0 815.68 L508.0 815.67 L509.0 815.66 L510.0 815.52 L511.0 815.52 L512.0 815.40 L513.0 815.43 L514.0 815.42 L515.0 815.38 L516.0 815.36 L517.0 815.33 L518.0 815.31 L519.0 815.15 L520.0 815.12 L521.0 815.25 L522.0 815.28 L523.0 815.13 L524.0 815.00 L525.0 815.05 L526.0 815.08 L527.0 814.98 L528.0 814.95 L529.0 814.85 L530.0 814.81 L531.0 814.76 L532.0 814.76 L533.0 814.72 L534.0 814.69 L535.0 814.61 L536.0 814.59 L537.0 814.55 L538.0 814.52 L539.0 814.47 L540.0 814.47 L541.0 814.44 L542.0 814.31 L543.0 814.26 L544.0 814.32 L545.0 814.27 L546.0 814.33 L547.0 814.27 L548.0 814.27 L549.0 814.22 L550.0 814.09 L551.0 814.05 L552.0 814.06 L553.0 814.05 L554.0 813.94 L555.0 813.88 L556.0 813.85 L557.0 813.77 L558.0 813.82 L559.0 813.66 L560.0 813.60 L561.0 813.71 L562.0 813.61 L563.0 813.56 L564.0 813.52 L565.0 813.41 L566.0 813.44 L567.0 813.47 L568.0 813.38 L569.0 813.29 L570.0 813.30 L571.0 813.29 L572.0 813.21 L573.0 813.07 L574.0 813.00 L575.0 813.09 L576.0 813.04 L577.0 812.98 L578.0 813.03 L579.0 812.94 L580.0 812.83 L581.0 812.81 L582.0 812.82 L583.0 812.82 L584.0 812.69 L585.0 812.63 L586.0 812.51 L587.0 812.47 L588.0 812.55 L589.0 812.34 L590.0 812.34 L591.0 812.49 L592.0 812.42 L593.0 812.35 L594.0 812.43 L594.2 812.42"/>
<path stroke="firebrick" d="M57.0 818.00 L58.0 818.00 L59.0 818.00 L60.0 818.00 L61.0 818.00 L62.0 818.00 L63.0 818.00 L64.0 818.00 L65.0 818.00 L66.0 818.00 L67.0 818.00 L68.0 818.00 L69.0 818.00 L70.0 818.00 L71.0 818.00 L72.0 818.00 L73.0 818.00 L74.0 818.00 L75.0 818.00 L76.0 818.00 L77.0 818.00 L78.0 818.00 L79.0 818.00 L80.0 818.00 L81.0 818.00 L82.0 818.00 L83.0 818.00 L84.0 818.00 L85.0 818.00 L86.0 818.00 L87.0 818.00 L88.0 818.00 L89.0 818.00 L90.0 818.00 L91.0 818.00 L92.0 818.00 L93.0 818.00 L94.0 818.00 L95.0 818.00 L96.0 818.00 L97.0 818.00 L98.0 818.00 L99.0 818.00 L100.0 818.00 L101.0 818.00 L102.0 818.00 L103.0 818.00 L104.0 818.00 L105.0 818.00 L106.0 818.00 L107.0 818.00 L108.0 818.00 L109.0 818.00 L110.0 818.00 L111.0 818.00 L112.0 818.00 L113.0 818.00 L114.0 818.00 L115.0 818.00 L116.0 818.00 L117.0 818.00 L118.0 818.00 L119.0 818.00 L120.0 818.00 L121.0 818.00 L122.0 818.00 L123.0 818.00 L124.0 818.00 L125.0 818.00 L126.0 818.00 L127.0 818.00 L128.0 818.00 L129.0 818.00 L130.0 818.00 L131.0 818.00 L132.0 818.00 L133.0 818.00 L134.0 818.00 L135.0 818.00 L136.0 818.00 L137.0 818.00 L138.0 818.00 L139.0 818.00 L140.0 818.00 L141.0 818.00 L142.0 818.00 L143.0 817.99 L144.0 818.00 L145.0 818.00 L146.0 818.00 L147.0 818.00 L148.0 818.00 L149.0 818.00 L150.0 818.00 L151.0 818.00 L152.0 818.00 L153.0 818.00 L154.0 818.00 L155.0 818.00 L156.0 817.99 L157.0 818.00 L158.0 817.99 L159.0 817.99 L160.0 818.00 L161.0 818.00 L162.0 817.99 L163.0 818.00 L164.0 817.99 L165.0 817.99 L166.0 818.00 L167.0 818.00 L168.0 817.99 L169.0 818.00 L170.0 818.00 L171.0 818.00 L172.0 818.00 L173.0 818.00 L174.0 817.99 L175.0 817.99 L176.0 818.00 L177.0 818.00 L178.0 818.00 L179.0 818.00 L180.0 818.00 L181.0 817.99 L182.0 817.99 L183.0 818.00 L184.0 817.99 L185.0 817.99 L186.0 817.99 L187.0 817.99 L188.0 817.99 L189.0 817.99 L190.0 817.99 L191.0 817.99 L192.0 817.99 L193.0 817.99 L194.0 817.99 L195.0 817.99 L196.0 817.99 L197.0 817.99 L198.0 817.99 L199.0 817.99 L200.0 817.99 L201.0 817.99 L202.0 817.99 L203.0 817.99 L204.0 817.99 L205.0 817.99 L206.0 817.99 L207.0 817.99 L208.0 817.99 L209.0 817.99 L210.0 817.99 L211.0 817.99 L212.0 817.99 L213.0 817.98 L214.0 817.99 L215.0 817.99 L216.0 817.99 L217.0 817.99 L218.0 818.00 L219.0 818.00 L220.0 817.99 L221.0 817.99 L222.0 817.99 L223.0 818.00 L224.0 817.99 L225.0 817.99 L226.0 817.99 L227.0 817.98 L228.0 817.99 L229.0 817.99 L230.0 817.99 L231.0 817.99 L232.0 817.98 L233.0 817.98 L234.0 817.99 L235.0 817.99 L236.0 817.98 L237.0 817.98 L238.0 817.99 L239.0 817.98 L240.0 817.98 L241.0 817.99 L242.0 817.99 L243.0 817.99 L244.0 817.98 L245.0 817.99 L246.0 817.98 L247.0 817.98 L248.0 817.99 L249.0 817.98 L250.0 817.98 L251.0 817.98 L252.0 817.98 L253.0 817.98 L254.0 817.98 L255.0 817.98 L256.0 817.99 L257.0 817.98 L258.0 817.98 L259.0 817.99 L260.0 817.98 L261.0 817.98 L262.0 817.99 L263.0 817.99 L264.0 817.98 L265.0 817.98 L266.0 817.98 L267.0 817.98 L268.0 817.98 L269.0 817.98 L270.0 817.98 L271.0 817.98 L272.0 817.98 L273.0 817.98 L274.0 817.99 L275.0 817.99 L276.0 817.99 L277.0 817.98 L278.0 817.98 L279.0 817.98 L280.0 817.98 L281.0 817.98 L282.0 817.98 L283.0 817.98 L284.0 817.99 L285.0 817.98 L286.0 817.98 L287.0 817.98 L288.0 817.98 L289.0 817.98 L290.0 817.98 L291.0 817.98 L292.0 817.98 L293.0 817.97 L294.0 817.98 L295.0 817.98 L296.0 817.97 L297.0 817.97 L298.0 817.98 L299.0 817.97 L300.0 817.98 L301.0 817.98 L302.0 817.98 L303.0 817.97 L304.0 817.97 L305.0 817.96 L306.0 817.97 L307.0 817.98 L308.0 817.98 L309.0 817.97 L310.0 817.97 L311.0 817.98 L312.0 817.97 L313.0 817.97 L314.0 817.97 L315.0 817.97 L316.0 817.97 L317.0 817.97 L318.0 817.96 L319.0 817.97 L320.0 817.97 L321.0 817.96 L322.0 817.97 L323.0 817.96 L324.0 817.97 L325.0 817.98 L326.0 817.98 L327.0 817.97 L328.0 817.97 L329.0 817.97 L330.0 817.97 L331.0 817.97 L332.0 817.97 L333.0 817.96 L334.0 817.96 L335.0 817.96 L336.0 817.96 L337.0 817.97 L338.0 817.97 L339.0 817.97 L340.0 817.98 L341.0 817.97 L342.0 817.96 L343.0 817.96 L344.0 817.96 L345.0 817.96 L346.0 817.95 L347.0 817.95 L348.0 817.96 L349.0 817.96 L350.0 817.96 L351.0 817.96 L352.0 817.96 L353.0 817.95 L354.0 817.96 L355.0 817.96 L356.0 817.97 L357.0 817.96 L358.0 817.94 L359.0 817.95 L360.0 817.96 L361.0 817.95 L362.0 817.95 L363.0 817.95 L364.0 817.95 L365.0 817.95 L366.0 817.96 L367.0 817.95 L368.0 817.95 L369.0 817.95 L370.0 817.94 L371.0 817.94 L372.0 817.95 L373.0 817.95 L374.0 817.95 L375.0 817.96 L376.0 817.95 L377.0 817.95 L378.0 817.95 L379.0 817.95 L380.0 817.95 L381.0 817.95 L382.0 817.94 L383.0 817.94 L384.0 817.94 L385.0 817.94 L386.0 817.93 L387.0 817.94 L388.0 817.93 L389.0 817.94 L390.0 817.94 L391.0 817.93 L392.0 817.94 L393.0 817.94 L394.0 817.94 L395.0 817.94 L396.0 817.95 L397.0 817.94 L398.0 817.94 L399.0 817.93 L400.0 817.93 L401.0 817.93 L402.0 817.93 L403.0 817.93 L404.0 817.92 L405.0 817.92 L406.0 817.93 L407.0 817.93 L408.0 817.92 L409.0 817.92 L410.0 817.93 L411.0 817.95 L412.0 817.94 L413.0 817.94 L414.0 817.94 L415.0 817.94 L416.0 817.93 L417.0 817.93 L418.0 817.93 L419.0 817.93 L420.0 817.93 L421.0 817.92 L422.0 817.91 L423.0 817.92 L424.0 817.94 L425.0 817.94 L426.0 817.94 L427.0 817.94 L428.0 817.93 L429.0 817.93 L430.0 817.92 L431.0 817.92 L432.0 817.92 L433.0 817.92 L434.0 817.92 L435.0 817.93 L436.0 817.93 L437.0 817.92 L438.0 817.90 L439.0 817.91 L440.0 817.93 L441.0 817.93 L442.0 817.92 L443.0 817.92 L444.0 817.91 L445.0 817.91 L446.0 817.92 L447.0 817.94 L448.0 817.93 L449.0 817.92 L450.0 817.90 L451.0 817.90 L452.0 817.92 L453.0 817.91 L454.0 817.91 L455.0 817.91 L456.0 817.93 L457.0 817.91 L458.0 817.90 L459.0 817.89 L460.0 817.89 L461.0 817.88 L462.0 817.89 L463.0 817.89 L464.0 817.90 L465.0 817.91 L466.0 817.87 L467.0 817.88 L468.0 817.90 L469.0 817.89 L470.0 817.87 L471.0 817.89 L472.0 817.87 L473.0 817.86 L474.0 817.84 L475.0 817.83 L476.0 817.83 L477.0 817.84 L478.0 817.83 L479.0 817.80 L480.0 817.78 L481.0 817.77 L482.0 817.76 L483.0 817.73 L484.0 817.74 L485.0 817.74 L486.0 817.71 L487.0 817.71 L488.0 817.72 L489.0 817.71 L490.0 817.67 L491.0 817.61 L492.0 817.58 L493.0 817.57 L494.0 817.54 L495.0 817.51 L496.0 817.50 L497.0 817.46 L498.0 817.45 L499.0 817.45 L500.0 817.40 L501.0 817.38 L502.0 817.33 L503.0 817.31 L504.0 817.30 L505.0 817.28 L506.0 817.26 L507.0 817.21 L508.0 817.15 L509.0 817.17 L510.0 817.15 L511.0 817.11 L512.0 817.10 L513.0 817.07 L514.0 817.01 L515.0 816.95 L516.0 816.93 L517.0 816.94 L518.0 816.91 L519.0 816.86 L520.0 816.89 L521.0 816.84 L522.0 816.75 L523.0 816.74 L524.0 816.70 L525.0 816.70 L526.0 816.65 L527.0 816.60 L528.0 816.57 L529.0 816.51 L530.0 816.53 L531.0 816.50 L532.0 816.46 L533.0 816.41 L534.0 816.35 L535.0 816.37 L536.0 816.34 L537.0 816.32 L538.0 816.27 L539.0 816.24 L540.0 816.22 L541.0 816.17 L542.0 816.17 L543.0 816.07 L544.0 816.05 L545.0 816.12 L546.0 816.11 L547.0 816.16 L548.0 815.95 L549.0 815.89 L550.0 815.96 L551.0 815.92 L552.0 815.87 L553.0 815.80 L554.0 815.80 L555.0 815.80 L556.0 815.69 L557.0 815.67 L558.0 815.67 L559.0 815.65 L560.0 815.62 L561.0 815.56 L562.0 815.53 L563.0 815.47 L564.0 815.41 L565.0 815.47 L566.0 815.39 L567.0 815.32 L568.0 815.29 L569.0 815.29 L570.0 815.28 L571.0 815.26 L572.0 815.28 L573.0 815.16 L574.0 815.05 L575.0 815.01 L576.0 815.00 L577.0 815.00 L578.0 815.01 L579.0 814.93 L580.0 814.88 L581.0 814.88 L582.0 814.86 L583.0 814.87 L584.0 814.93 L585.0 814.83 L586.0 814.67 L587.0 814.52 L588.0 814.57 L589.0 814.54 L590.0 814.55 L591.0 814.55 L592.0 814.45 L593.0 814.49 L594.0 814.49 L594.2 814.50"/>
<path stroke="forestgreen" d="M57.0 818.0 L594.2 818.0"/>
<path stroke="forestgreen" stroke-width="1.8" d="M57.0 818 H594.2"/>
</g>
<g fill="#383838">
<path d="M621.1 487.0 H636.1" stroke="dodgerblue" stroke-width="1.5"/>
<text font-size="7.44" x="640.1" y="490.7">No treatment</text>
<path d="M621.1 504.2 H636.1" stroke="tomato" stroke-width="1.5"/>
<text font-size="6.9" x="640.1" y="507.9">15%</text>
<path d="M621.1 521.4 H636.1" stroke="goldenrod" stroke-width="1.5"/>
<text font-size="6.9" x="640.1" y="525.1">14%</text>
<path d="M621.1 538.5 H636.1" stroke="sienna" stroke-width="1.5"/>
<text font-size="6.9" x="640.1" y="542.2">13%</text>
<path d="M621.1 555.7 H636.1" stroke="mediumturquoise" stroke-width="1.5"/>
<text font-size="6.9" x="640.1" y="559.4">12%</text>
<path d="M621.1 572.9 H636.1" stroke="yellowgreen" stroke-width="1.5"/>
<text font-size="6.9" x="640.1" y="576.6">11%</text>
<path d="M621.1 590.1 H636.1" stroke="mediumvioletred" stroke-width="1.5"/>
<text font-size="6.9" x="640.1" y="593.8">10%</text>
<path d="M621.1 607.3 H636.1" stroke="lightsalmon" stroke-width="1.5"/>
<text font-size="6.9" x="640.1" y="611.0">9%</text>
<path d="M621.1 624.4 H636.1" stroke="darkgray" stroke-width="1.5"/>
<text font-size="6.9" x="640.1" y="628.1">8%</text>
<path d="M621.1 641.6 H636.1" stroke="steelblue" stroke-width="1.5"/>
<text font-size="6.9" x="640.1" y="645.3">7.5%</text>
<path d="M621.1 658.8 H636.1" stroke="gold" stroke-width="1.5"/>
<text font-size="6.9" x="640.1" y="662.5">7%</text>
<path d="M621.1 676.0 H636.1" stroke="firebrick" stroke-width="1.5"/>
<text font-size="6.9" x="640.1" y="679.7">6%</text>
<path d="M621.1 693.2 H636.1" stroke="forestgreen" stroke-width="1.5"/>
<text font-size="6.9" x="640.1" y="696.9">5%</text>
</g>
</svg>
<div class="t" style="top:-3.2px">A.<span>Soft ASCVD model</span></div>
<div class="t" style="top:435.8px">B.<span>Hard ASCVD model</span></div>
</body></html>
